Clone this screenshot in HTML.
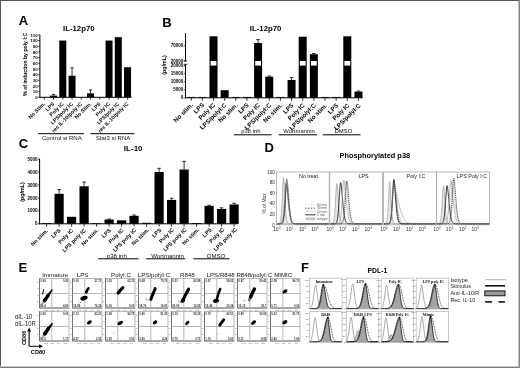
<!DOCTYPE html>
<html><head><meta charset="utf-8"><style>
html,body{margin:0;padding:0;background:#fff;}
svg{display:block;}
svg{will-change:transform;}
</style></head><body>
<svg width="520" height="368" viewBox="0 0 520 368" font-family="Liberation Sans, sans-serif">
<rect x="0" y="0" width="520" height="368" fill="#fff"/>
<text x="18.80" y="25.20" font-size="13.0" font-weight="bold" text-anchor="start" fill="#000">A</text>
<text x="162.20" y="26.60" font-size="13.0" font-weight="bold" text-anchor="start" fill="#000">B</text>
<text x="18.80" y="148.20" font-size="13.0" font-weight="bold" text-anchor="start" fill="#000">C</text>
<text x="264.60" y="152.20" font-size="13.0" font-weight="bold" text-anchor="start" fill="#000">D</text>
<text x="18.40" y="272.20" font-size="13.0" font-weight="bold" text-anchor="start" fill="#000">E</text>
<text x="300.90" y="271.60" font-size="13.0" font-weight="bold" text-anchor="start" fill="#000">F</text>
<text x="78.80" y="31.30" font-size="7.75" font-weight="bold" text-anchor="middle" fill="#000">IL-12p70</text>
<line x1="39.90" y1="34.80" x2="39.90" y2="97.80" stroke="#000" stroke-width="1"/>
<line x1="38.10" y1="97.30" x2="39.90" y2="97.30" stroke="#000" stroke-width="0.7"/>
<text x="37.70" y="98.90" font-size="4.4" font-weight="bold" text-anchor="end" fill="#000">0</text>
<line x1="38.10" y1="91.63" x2="39.90" y2="91.63" stroke="#000" stroke-width="0.7"/>
<text x="37.70" y="93.23" font-size="4.4" font-weight="bold" text-anchor="end" fill="#000">10</text>
<line x1="38.10" y1="85.95" x2="39.90" y2="85.95" stroke="#000" stroke-width="0.7"/>
<text x="37.70" y="87.55" font-size="4.4" font-weight="bold" text-anchor="end" fill="#000">20</text>
<line x1="38.10" y1="80.28" x2="39.90" y2="80.28" stroke="#000" stroke-width="0.7"/>
<text x="37.70" y="81.88" font-size="4.4" font-weight="bold" text-anchor="end" fill="#000">30</text>
<line x1="38.10" y1="74.61" x2="39.90" y2="74.61" stroke="#000" stroke-width="0.7"/>
<text x="37.70" y="76.21" font-size="4.4" font-weight="bold" text-anchor="end" fill="#000">40</text>
<line x1="38.10" y1="68.94" x2="39.90" y2="68.94" stroke="#000" stroke-width="0.7"/>
<text x="37.70" y="70.54" font-size="4.4" font-weight="bold" text-anchor="end" fill="#000">50</text>
<line x1="38.10" y1="63.26" x2="39.90" y2="63.26" stroke="#000" stroke-width="0.7"/>
<text x="37.70" y="64.86" font-size="4.4" font-weight="bold" text-anchor="end" fill="#000">60</text>
<line x1="38.10" y1="57.59" x2="39.90" y2="57.59" stroke="#000" stroke-width="0.7"/>
<text x="37.70" y="59.19" font-size="4.4" font-weight="bold" text-anchor="end" fill="#000">70</text>
<line x1="38.10" y1="51.92" x2="39.90" y2="51.92" stroke="#000" stroke-width="0.7"/>
<text x="37.70" y="53.52" font-size="4.4" font-weight="bold" text-anchor="end" fill="#000">80</text>
<line x1="38.10" y1="46.25" x2="39.90" y2="46.25" stroke="#000" stroke-width="0.7"/>
<text x="37.70" y="47.85" font-size="4.4" font-weight="bold" text-anchor="end" fill="#000">90</text>
<line x1="38.10" y1="40.57" x2="39.90" y2="40.57" stroke="#000" stroke-width="0.7"/>
<text x="37.70" y="42.17" font-size="4.4" font-weight="bold" text-anchor="end" fill="#000">100</text>
<line x1="38.10" y1="34.90" x2="39.90" y2="34.90" stroke="#000" stroke-width="0.7"/>
<text x="37.70" y="36.50" font-size="4.4" font-weight="bold" text-anchor="end" fill="#000">110</text>
<text x="27.40" y="64.30" font-size="5.15" font-weight="bold" text-anchor="middle" fill="#000" transform="rotate(-90 27.40 64.30)">% of induction by poly I:C</text>
<line x1="39.40" y1="97.30" x2="131.50" y2="97.30" stroke="#000" stroke-width="1"/>
<line x1="44.30" y1="97.30" x2="44.30" y2="99.60" stroke="#000" stroke-width="0.8"/>
<text x="45.60" y="104.20" font-size="5.25" font-weight="bold" text-anchor="end" fill="#000" transform="rotate(-45 45.60 104.20)">No Stim.</text>
<line x1="53.55" y1="97.30" x2="53.55" y2="99.60" stroke="#000" stroke-width="0.8"/>
<rect x="50.05" y="95.60" width="7.00" height="1.70" fill="#000"/>
<line x1="53.55" y1="94.46" x2="53.55" y2="95.60" stroke="#000" stroke-width="0.8"/>
<line x1="51.95" y1="94.46" x2="55.15" y2="94.46" stroke="#000" stroke-width="0.8"/>
<text x="54.85" y="104.20" font-size="5.25" font-weight="bold" text-anchor="end" fill="#000" transform="rotate(-45 54.85 104.20)">LPS</text>
<line x1="62.80" y1="97.30" x2="62.80" y2="99.60" stroke="#000" stroke-width="0.8"/>
<rect x="59.30" y="40.57" width="7.00" height="56.73" fill="#000"/>
<text x="64.10" y="104.20" font-size="5.25" font-weight="bold" text-anchor="end" fill="#000" transform="rotate(-45 64.10 104.20)">Poly IC</text>
<line x1="72.05" y1="97.30" x2="72.05" y2="99.60" stroke="#000" stroke-width="0.8"/>
<rect x="68.55" y="75.74" width="7.00" height="21.56" fill="#000"/>
<line x1="72.05" y1="67.80" x2="72.05" y2="75.74" stroke="#000" stroke-width="0.8"/>
<line x1="70.45" y1="67.80" x2="73.65" y2="67.80" stroke="#000" stroke-width="0.8"/>
<text x="73.35" y="104.20" font-size="5.25" font-weight="bold" text-anchor="end" fill="#000" transform="rotate(-45 73.35 104.20)">LPS/poly IC</text>
<line x1="81.30" y1="97.30" x2="81.30" y2="99.60" stroke="#000" stroke-width="0.8"/>
<text x="82.60" y="104.20" font-size="5.25" font-weight="bold" text-anchor="end" fill="#000" transform="rotate(-45 82.60 104.20)">rec IL-10/poly IC</text>
<line x1="90.55" y1="97.30" x2="90.55" y2="99.60" stroke="#000" stroke-width="0.8"/>
<rect x="87.05" y="93.33" width="7.00" height="3.97" fill="#000"/>
<line x1="90.55" y1="89.93" x2="90.55" y2="93.33" stroke="#000" stroke-width="0.8"/>
<line x1="88.95" y1="89.93" x2="92.15" y2="89.93" stroke="#000" stroke-width="0.8"/>
<text x="91.85" y="104.20" font-size="5.25" font-weight="bold" text-anchor="end" fill="#000" transform="rotate(-45 91.85 104.20)">No Stim.</text>
<line x1="99.80" y1="97.30" x2="99.80" y2="99.60" stroke="#000" stroke-width="0.8"/>
<text x="101.10" y="104.20" font-size="5.25" font-weight="bold" text-anchor="end" fill="#000" transform="rotate(-45 101.10 104.20)">LPS</text>
<line x1="109.05" y1="97.30" x2="109.05" y2="99.60" stroke="#000" stroke-width="0.8"/>
<rect x="105.55" y="40.57" width="7.00" height="56.73" fill="#000"/>
<text x="110.35" y="104.20" font-size="5.25" font-weight="bold" text-anchor="end" fill="#000" transform="rotate(-45 110.35 104.20)">Poly IC</text>
<line x1="118.30" y1="97.30" x2="118.30" y2="99.60" stroke="#000" stroke-width="0.8"/>
<rect x="114.80" y="37.17" width="7.00" height="60.13" fill="#000"/>
<text x="119.60" y="104.20" font-size="5.25" font-weight="bold" text-anchor="end" fill="#000" transform="rotate(-45 119.60 104.20)">LPS/poly IC</text>
<line x1="127.55" y1="97.30" x2="127.55" y2="99.60" stroke="#000" stroke-width="0.8"/>
<rect x="124.05" y="67.23" width="7.00" height="30.07" fill="#000"/>
<text x="128.85" y="104.20" font-size="5.25" font-weight="bold" text-anchor="end" fill="#000" transform="rotate(-45 128.85 104.20)">rec IL-10/poly IC</text>
<line x1="38.30" y1="133.70" x2="84.10" y2="133.70" stroke="#000" stroke-width="1.0"/>
<text x="61.80" y="139.70" font-size="6.0" text-anchor="middle" fill="#111">Control si  RNA</text>
<line x1="90.40" y1="133.70" x2="134.50" y2="133.70" stroke="#000" stroke-width="1.0"/>
<text x="113.10" y="139.70" font-size="6.0" text-anchor="middle" fill="#111">Stat3 si  RNA</text>
<text x="265.60" y="31.30" font-size="7.75" font-weight="bold" text-anchor="middle" fill="#000">IL-12p70</text>
<line x1="185.50" y1="64.30" x2="185.50" y2="98.30" stroke="#000" stroke-width="1"/>
<line x1="185.50" y1="33.00" x2="185.50" y2="61.00" stroke="#000" stroke-width="1"/>
<line x1="183.70" y1="61.00" x2="187.30" y2="61.00" stroke="#000" stroke-width="0.8"/>
<line x1="183.70" y1="64.30" x2="187.30" y2="64.30" stroke="#000" stroke-width="0.8"/>
<line x1="183.70" y1="97.80" x2="185.50" y2="97.80" stroke="#000" stroke-width="0.7"/>
<text x="183.30" y="99.40" font-size="4.5" font-weight="bold" text-anchor="end" fill="#000">0</text>
<line x1="183.70" y1="89.72" x2="185.50" y2="89.72" stroke="#000" stroke-width="0.7"/>
<text x="183.30" y="91.32" font-size="4.5" font-weight="bold" text-anchor="end" fill="#000">5000</text>
<line x1="183.70" y1="81.65" x2="185.50" y2="81.65" stroke="#000" stroke-width="0.7"/>
<text x="183.30" y="83.25" font-size="4.5" font-weight="bold" text-anchor="end" fill="#000">10000</text>
<line x1="183.70" y1="73.58" x2="185.50" y2="73.58" stroke="#000" stroke-width="0.7"/>
<text x="183.30" y="75.17" font-size="4.5" font-weight="bold" text-anchor="end" fill="#000">15000</text>
<line x1="183.70" y1="65.50" x2="185.50" y2="65.50" stroke="#000" stroke-width="0.7"/>
<text x="183.30" y="67.10" font-size="4.5" font-weight="bold" text-anchor="end" fill="#000">20000</text>
<line x1="183.70" y1="61.00" x2="185.50" y2="61.00" stroke="#000" stroke-width="0.7"/>
<text x="183.30" y="62.60" font-size="4.5" font-weight="bold" text-anchor="end" fill="#000">20000</text>
<line x1="183.70" y1="45.70" x2="185.50" y2="45.70" stroke="#000" stroke-width="0.7"/>
<text x="183.30" y="47.30" font-size="4.5" font-weight="bold" text-anchor="end" fill="#000">70000</text>
<text x="166.20" y="65.00" font-size="5.3" font-weight="bold" text-anchor="middle" fill="#000" transform="rotate(-90 166.20 65.00)">(pg/mL)</text>
<line x1="185.00" y1="97.80" x2="362.60" y2="97.80" stroke="#000" stroke-width="1"/>
<line x1="191.20" y1="97.80" x2="191.20" y2="100.80" stroke="#000" stroke-width="0.8"/>
<line x1="187.20" y1="97.40" x2="195.20" y2="97.40" stroke="#000" stroke-width="0.8"/>
<text x="193.40" y="105.40" font-size="6.2" font-weight="bold" text-anchor="end" fill="#000" transform="rotate(-45 193.40 105.40)">No stim.</text>
<line x1="202.35" y1="97.80" x2="202.35" y2="100.80" stroke="#000" stroke-width="0.8"/>
<line x1="198.35" y1="97.40" x2="206.35" y2="97.40" stroke="#000" stroke-width="0.8"/>
<text x="204.58" y="105.44" font-size="6.2" font-weight="bold" text-anchor="end" fill="#000" transform="rotate(-45 204.58 105.44)">LPS</text>
<line x1="213.50" y1="97.80" x2="213.50" y2="100.80" stroke="#000" stroke-width="0.8"/>
<rect x="209.50" y="36.30" width="8.00" height="61.50" fill="#000"/>
<rect x="210.60" y="61.00" width="5.80" height="4.60" fill="#fff"/>
<text x="215.76" y="105.48" font-size="6.2" font-weight="bold" text-anchor="end" fill="#000" transform="rotate(-45 215.76 105.48)">Poly IC</text>
<line x1="224.65" y1="97.80" x2="224.65" y2="100.80" stroke="#000" stroke-width="0.8"/>
<rect x="220.65" y="90.20" width="8.00" height="7.60" fill="#000"/>
<text x="226.94" y="105.52" font-size="6.2" font-weight="bold" text-anchor="end" fill="#000" transform="rotate(-45 226.94 105.52)">LPS/polyI:C</text>
<line x1="235.80" y1="97.80" x2="235.80" y2="100.80" stroke="#000" stroke-width="0.8"/>
<line x1="231.80" y1="97.40" x2="239.80" y2="97.40" stroke="#000" stroke-width="0.8"/>
<text x="238.12" y="105.56" font-size="6.2" font-weight="bold" text-anchor="end" fill="#000" transform="rotate(-45 238.12 105.56)">No stim.</text>
<line x1="246.95" y1="97.80" x2="246.95" y2="100.80" stroke="#000" stroke-width="0.8"/>
<line x1="242.95" y1="97.40" x2="250.95" y2="97.40" stroke="#000" stroke-width="0.8"/>
<text x="249.30" y="105.60" font-size="6.2" font-weight="bold" text-anchor="end" fill="#000" transform="rotate(-45 249.30 105.60)">LPS</text>
<line x1="258.10" y1="97.80" x2="258.10" y2="100.80" stroke="#000" stroke-width="0.8"/>
<rect x="254.10" y="43.00" width="8.00" height="54.80" fill="#000"/>
<rect x="255.20" y="61.00" width="5.80" height="4.60" fill="#fff"/>
<line x1="258.10" y1="39.60" x2="258.10" y2="43.00" stroke="#000" stroke-width="0.8"/>
<line x1="256.30" y1="39.60" x2="259.90" y2="39.60" stroke="#000" stroke-width="0.8"/>
<text x="260.48" y="105.64" font-size="6.2" font-weight="bold" text-anchor="end" fill="#000" transform="rotate(-45 260.48 105.64)">Poly IC</text>
<line x1="269.25" y1="97.80" x2="269.25" y2="100.80" stroke="#000" stroke-width="0.8"/>
<rect x="265.25" y="76.70" width="8.00" height="21.10" fill="#000"/>
<line x1="269.25" y1="76.00" x2="269.25" y2="76.70" stroke="#000" stroke-width="0.8"/>
<line x1="267.45" y1="76.00" x2="271.05" y2="76.00" stroke="#000" stroke-width="0.8"/>
<text x="271.66" y="105.68" font-size="6.2" font-weight="bold" text-anchor="end" fill="#000" transform="rotate(-45 271.66 105.68)">LPS/polyI:C</text>
<line x1="280.40" y1="97.80" x2="280.40" y2="100.80" stroke="#000" stroke-width="0.8"/>
<line x1="276.40" y1="97.40" x2="284.40" y2="97.40" stroke="#000" stroke-width="0.8"/>
<text x="282.84" y="105.72" font-size="6.2" font-weight="bold" text-anchor="end" fill="#000" transform="rotate(-45 282.84 105.72)">No stim.</text>
<line x1="291.55" y1="97.80" x2="291.55" y2="100.80" stroke="#000" stroke-width="0.8"/>
<rect x="287.55" y="80.00" width="8.00" height="17.80" fill="#000"/>
<line x1="291.55" y1="77.60" x2="291.55" y2="80.00" stroke="#000" stroke-width="0.8"/>
<line x1="289.75" y1="77.60" x2="293.35" y2="77.60" stroke="#000" stroke-width="0.8"/>
<text x="294.02" y="105.76" font-size="6.2" font-weight="bold" text-anchor="end" fill="#000" transform="rotate(-45 294.02 105.76)">LPS</text>
<line x1="302.70" y1="97.80" x2="302.70" y2="100.80" stroke="#000" stroke-width="0.8"/>
<rect x="298.70" y="36.70" width="8.00" height="61.10" fill="#000"/>
<rect x="299.80" y="61.00" width="5.80" height="4.60" fill="#fff"/>
<text x="305.20" y="105.80" font-size="6.2" font-weight="bold" text-anchor="end" fill="#000" transform="rotate(-45 305.20 105.80)">Poly IC</text>
<line x1="313.85" y1="97.80" x2="313.85" y2="100.80" stroke="#000" stroke-width="0.8"/>
<rect x="309.85" y="54.20" width="8.00" height="43.60" fill="#000"/>
<rect x="310.95" y="61.00" width="5.80" height="4.60" fill="#fff"/>
<line x1="313.85" y1="53.50" x2="313.85" y2="54.20" stroke="#000" stroke-width="0.8"/>
<line x1="312.05" y1="53.50" x2="315.65" y2="53.50" stroke="#000" stroke-width="0.8"/>
<text x="316.38" y="105.84" font-size="6.2" font-weight="bold" text-anchor="end" fill="#000" transform="rotate(-45 316.38 105.84)">LPS/polyI:C</text>
<line x1="325.00" y1="97.80" x2="325.00" y2="100.80" stroke="#000" stroke-width="0.8"/>
<line x1="321.00" y1="97.40" x2="329.00" y2="97.40" stroke="#000" stroke-width="0.8"/>
<text x="327.56" y="105.88" font-size="6.2" font-weight="bold" text-anchor="end" fill="#000" transform="rotate(-45 327.56 105.88)">No stim.</text>
<line x1="336.15" y1="97.80" x2="336.15" y2="100.80" stroke="#000" stroke-width="0.8"/>
<line x1="332.15" y1="97.40" x2="340.15" y2="97.40" stroke="#000" stroke-width="0.8"/>
<text x="338.74" y="105.92" font-size="6.2" font-weight="bold" text-anchor="end" fill="#000" transform="rotate(-45 338.74 105.92)">LPS</text>
<line x1="347.30" y1="97.80" x2="347.30" y2="100.80" stroke="#000" stroke-width="0.8"/>
<rect x="343.30" y="36.30" width="8.00" height="61.50" fill="#000"/>
<rect x="344.40" y="61.00" width="5.80" height="4.60" fill="#fff"/>
<text x="349.92" y="105.96" font-size="6.2" font-weight="bold" text-anchor="end" fill="#000" transform="rotate(-45 349.92 105.96)">Poly IC</text>
<line x1="358.45" y1="97.80" x2="358.45" y2="100.80" stroke="#000" stroke-width="0.8"/>
<rect x="354.45" y="91.60" width="8.00" height="6.20" fill="#000"/>
<line x1="358.45" y1="91.00" x2="358.45" y2="91.60" stroke="#000" stroke-width="0.8"/>
<line x1="356.65" y1="91.00" x2="360.25" y2="91.00" stroke="#000" stroke-width="0.8"/>
<text x="361.10" y="106.00" font-size="6.2" font-weight="bold" text-anchor="end" fill="#000" transform="rotate(-45 361.10 106.00)">LPS/polyI:C</text>
<line x1="233.90" y1="134.80" x2="271.60" y2="134.80" stroke="#000" stroke-width="1.0"/>
<text x="250.90" y="133.40" font-size="5.9" text-anchor="middle" fill="#111">p38 inh</text>
<line x1="278.60" y1="134.80" x2="316.90" y2="134.80" stroke="#000" stroke-width="1.0"/>
<text x="299.00" y="133.40" font-size="5.9" text-anchor="middle" fill="#111">Wortmannin</text>
<line x1="322.80" y1="134.80" x2="360.50" y2="134.80" stroke="#000" stroke-width="1.0"/>
<text x="343.40" y="133.40" font-size="5.9" text-anchor="middle" fill="#111">DMSO</text>
<text x="133.20" y="150.90" font-size="8.0" font-weight="bold" text-anchor="middle" fill="#000">IL-10</text>
<line x1="39.60" y1="158.70" x2="39.60" y2="224.30" stroke="#000" stroke-width="1"/>
<line x1="37.80" y1="223.80" x2="39.60" y2="223.80" stroke="#000" stroke-width="0.7"/>
<text x="37.40" y="225.40" font-size="4.5" font-weight="bold" text-anchor="end" fill="#000">0</text>
<line x1="37.80" y1="210.88" x2="39.60" y2="210.88" stroke="#000" stroke-width="0.7"/>
<text x="37.40" y="212.48" font-size="4.5" font-weight="bold" text-anchor="end" fill="#000">1000</text>
<line x1="37.80" y1="197.96" x2="39.60" y2="197.96" stroke="#000" stroke-width="0.7"/>
<text x="37.40" y="199.56" font-size="4.5" font-weight="bold" text-anchor="end" fill="#000">2000</text>
<line x1="37.80" y1="185.04" x2="39.60" y2="185.04" stroke="#000" stroke-width="0.7"/>
<text x="37.40" y="186.64" font-size="4.5" font-weight="bold" text-anchor="end" fill="#000">3000</text>
<line x1="37.80" y1="172.12" x2="39.60" y2="172.12" stroke="#000" stroke-width="0.7"/>
<text x="37.40" y="173.72" font-size="4.5" font-weight="bold" text-anchor="end" fill="#000">4000</text>
<line x1="37.80" y1="159.20" x2="39.60" y2="159.20" stroke="#000" stroke-width="0.7"/>
<text x="37.40" y="160.80" font-size="4.5" font-weight="bold" text-anchor="end" fill="#000">5000</text>
<text x="24.10" y="191.90" font-size="5.35" font-weight="bold" text-anchor="middle" fill="#000" transform="rotate(-90 24.10 191.90)">(pg/mL)</text>
<line x1="39.10" y1="223.80" x2="237.60" y2="223.80" stroke="#000" stroke-width="1"/>
<line x1="46.60" y1="223.80" x2="46.60" y2="226.60" stroke="#000" stroke-width="0.8"/>
<rect x="42.00" y="223.00" width="9.20" height="0.80" fill="#000"/>
<text x="48.40" y="231.10" font-size="5.5" font-weight="bold" text-anchor="end" fill="#000" transform="rotate(-45 48.40 231.10)">No stim.</text>
<line x1="59.10" y1="223.80" x2="59.10" y2="226.60" stroke="#000" stroke-width="0.8"/>
<rect x="54.50" y="193.80" width="9.20" height="30.00" fill="#000"/>
<line x1="59.10" y1="189.50" x2="59.10" y2="193.80" stroke="#000" stroke-width="0.8"/>
<line x1="57.30" y1="189.50" x2="60.90" y2="189.50" stroke="#000" stroke-width="0.8"/>
<text x="61.00" y="231.02" font-size="5.5" font-weight="bold" text-anchor="end" fill="#000" transform="rotate(-45 61.00 231.02)">LPS</text>
<line x1="71.60" y1="223.80" x2="71.60" y2="226.60" stroke="#000" stroke-width="0.8"/>
<rect x="67.00" y="216.80" width="9.20" height="7.00" fill="#000"/>
<text x="73.60" y="230.94" font-size="5.5" font-weight="bold" text-anchor="end" fill="#000" transform="rotate(-45 73.60 230.94)">Poly IC</text>
<line x1="84.10" y1="223.80" x2="84.10" y2="226.60" stroke="#000" stroke-width="0.8"/>
<rect x="79.50" y="186.30" width="9.20" height="37.50" fill="#000"/>
<line x1="84.10" y1="182.00" x2="84.10" y2="186.30" stroke="#000" stroke-width="0.8"/>
<line x1="82.30" y1="182.00" x2="85.90" y2="182.00" stroke="#000" stroke-width="0.8"/>
<text x="86.20" y="230.86" font-size="5.5" font-weight="bold" text-anchor="end" fill="#000" transform="rotate(-45 86.20 230.86)">LPS poly IC</text>
<line x1="96.60" y1="223.80" x2="96.60" y2="226.60" stroke="#000" stroke-width="0.8"/>
<rect x="92.00" y="223.20" width="9.20" height="0.60" fill="#000"/>
<text x="98.80" y="230.78" font-size="5.5" font-weight="bold" text-anchor="end" fill="#000" transform="rotate(-45 98.80 230.78)">No stim.</text>
<line x1="109.10" y1="223.80" x2="109.10" y2="226.60" stroke="#000" stroke-width="0.8"/>
<rect x="104.50" y="219.50" width="9.20" height="4.30" fill="#000"/>
<line x1="109.10" y1="219.00" x2="109.10" y2="219.50" stroke="#000" stroke-width="0.8"/>
<line x1="107.30" y1="219.00" x2="110.90" y2="219.00" stroke="#000" stroke-width="0.8"/>
<text x="111.40" y="230.70" font-size="5.5" font-weight="bold" text-anchor="end" fill="#000" transform="rotate(-45 111.40 230.70)">LPS</text>
<line x1="121.60" y1="223.80" x2="121.60" y2="226.60" stroke="#000" stroke-width="0.8"/>
<rect x="117.00" y="220.30" width="9.20" height="3.50" fill="#000"/>
<text x="124.00" y="230.62" font-size="5.5" font-weight="bold" text-anchor="end" fill="#000" transform="rotate(-45 124.00 230.62)">Poly IC</text>
<line x1="134.10" y1="223.80" x2="134.10" y2="226.60" stroke="#000" stroke-width="0.8"/>
<rect x="129.50" y="215.80" width="9.20" height="8.00" fill="#000"/>
<line x1="134.10" y1="215.00" x2="134.10" y2="215.80" stroke="#000" stroke-width="0.8"/>
<line x1="132.30" y1="215.00" x2="135.90" y2="215.00" stroke="#000" stroke-width="0.8"/>
<text x="136.60" y="230.54" font-size="5.5" font-weight="bold" text-anchor="end" fill="#000" transform="rotate(-45 136.60 230.54)">LPS poly IC</text>
<line x1="146.60" y1="223.80" x2="146.60" y2="226.60" stroke="#000" stroke-width="0.8"/>
<rect x="142.00" y="222.80" width="9.20" height="1.00" fill="#000"/>
<text x="149.20" y="230.46" font-size="5.5" font-weight="bold" text-anchor="end" fill="#000" transform="rotate(-45 149.20 230.46)">No stim.</text>
<line x1="159.10" y1="223.80" x2="159.10" y2="226.60" stroke="#000" stroke-width="0.8"/>
<rect x="154.50" y="172.00" width="9.20" height="51.80" fill="#000"/>
<line x1="159.10" y1="168.30" x2="159.10" y2="172.00" stroke="#000" stroke-width="0.8"/>
<line x1="157.30" y1="168.30" x2="160.90" y2="168.30" stroke="#000" stroke-width="0.8"/>
<text x="161.80" y="230.38" font-size="5.5" font-weight="bold" text-anchor="end" fill="#000" transform="rotate(-45 161.80 230.38)">LPS</text>
<line x1="171.60" y1="223.80" x2="171.60" y2="226.60" stroke="#000" stroke-width="0.8"/>
<rect x="167.00" y="199.90" width="9.20" height="23.90" fill="#000"/>
<line x1="171.60" y1="198.30" x2="171.60" y2="199.90" stroke="#000" stroke-width="0.8"/>
<line x1="169.80" y1="198.30" x2="173.40" y2="198.30" stroke="#000" stroke-width="0.8"/>
<text x="174.40" y="230.30" font-size="5.5" font-weight="bold" text-anchor="end" fill="#000" transform="rotate(-45 174.40 230.30)">Poly IC</text>
<line x1="184.10" y1="223.80" x2="184.10" y2="226.60" stroke="#000" stroke-width="0.8"/>
<rect x="179.50" y="169.50" width="9.20" height="54.30" fill="#000"/>
<line x1="184.10" y1="161.30" x2="184.10" y2="169.50" stroke="#000" stroke-width="0.8"/>
<line x1="182.30" y1="161.30" x2="185.90" y2="161.30" stroke="#000" stroke-width="0.8"/>
<text x="187.00" y="230.22" font-size="5.5" font-weight="bold" text-anchor="end" fill="#000" transform="rotate(-45 187.00 230.22)">LPS poly IC</text>
<line x1="196.60" y1="223.80" x2="196.60" y2="226.60" stroke="#000" stroke-width="0.8"/>
<rect x="192.00" y="223.00" width="9.20" height="0.80" fill="#000"/>
<text x="199.60" y="230.14" font-size="5.5" font-weight="bold" text-anchor="end" fill="#000" transform="rotate(-45 199.60 230.14)">No stim.</text>
<line x1="209.10" y1="223.80" x2="209.10" y2="226.60" stroke="#000" stroke-width="0.8"/>
<rect x="204.50" y="205.90" width="9.20" height="17.90" fill="#000"/>
<line x1="209.10" y1="205.30" x2="209.10" y2="205.90" stroke="#000" stroke-width="0.8"/>
<line x1="207.30" y1="205.30" x2="210.90" y2="205.30" stroke="#000" stroke-width="0.8"/>
<text x="212.20" y="230.06" font-size="5.5" font-weight="bold" text-anchor="end" fill="#000" transform="rotate(-45 212.20 230.06)">LPS</text>
<line x1="221.60" y1="223.80" x2="221.60" y2="226.60" stroke="#000" stroke-width="0.8"/>
<rect x="217.00" y="209.00" width="9.20" height="14.80" fill="#000"/>
<line x1="221.60" y1="207.80" x2="221.60" y2="209.00" stroke="#000" stroke-width="0.8"/>
<line x1="219.80" y1="207.80" x2="223.40" y2="207.80" stroke="#000" stroke-width="0.8"/>
<text x="224.80" y="229.98" font-size="5.5" font-weight="bold" text-anchor="end" fill="#000" transform="rotate(-45 224.80 229.98)">Poly IC</text>
<line x1="234.10" y1="223.80" x2="234.10" y2="226.60" stroke="#000" stroke-width="0.8"/>
<rect x="229.50" y="204.50" width="9.20" height="19.30" fill="#000"/>
<line x1="234.10" y1="203.20" x2="234.10" y2="204.50" stroke="#000" stroke-width="0.8"/>
<line x1="232.30" y1="203.20" x2="235.90" y2="203.20" stroke="#000" stroke-width="0.8"/>
<text x="237.40" y="229.90" font-size="5.5" font-weight="bold" text-anchor="end" fill="#000" transform="rotate(-45 237.40 229.90)">LPS poly IC</text>
<line x1="98.20" y1="258.80" x2="138.60" y2="258.80" stroke="#000" stroke-width="1.0"/>
<text x="116.80" y="258.00" font-size="6.1" text-anchor="middle" fill="#111">p38 inh</text>
<line x1="146.20" y1="258.80" x2="185.20" y2="258.80" stroke="#000" stroke-width="1.0"/>
<text x="167.50" y="258.00" font-size="6.1" text-anchor="middle" fill="#111">Wortmannin</text>
<line x1="193.30" y1="258.80" x2="229.60" y2="258.80" stroke="#000" stroke-width="1.0"/>
<text x="216.20" y="258.00" font-size="6.1" text-anchor="middle" fill="#111">DMSO</text>
<text x="374.80" y="157.60" font-size="7.4" font-weight="bold" text-anchor="middle" fill="#000">Phosphorylated p38</text>
<text x="266.30" y="203.40" font-size="4.9" text-anchor="middle" fill="#333" transform="rotate(-90 266.30 203.40)">% of Max</text>
<text x="274.90" y="226.50" font-size="4.6" text-anchor="end" fill="#222">0</text>
<text x="274.90" y="215.94" font-size="4.6" text-anchor="end" fill="#222">20</text>
<text x="274.90" y="205.38" font-size="4.6" text-anchor="end" fill="#222">40</text>
<text x="274.90" y="194.82" font-size="4.6" text-anchor="end" fill="#222">60</text>
<text x="274.90" y="184.26" font-size="4.6" text-anchor="end" fill="#222">80</text>
<text x="274.90" y="173.70" font-size="4.6" text-anchor="end" fill="#222">100</text>
<rect x="276.40" y="172.00" width="52.80" height="52.80" fill="none" stroke="#a8a8a8" stroke-width="0.8"/>
<path d="M277.00,223.77 L277.32,223.76 L277.64,223.75 L277.97,223.74 L278.29,223.72 L278.61,223.69 L278.94,223.62 L279.26,223.50 L279.58,223.26 L279.90,222.83 L280.23,222.08 L280.55,220.83 L280.87,218.87 L281.19,216.00 L281.51,212.04 L281.84,206.93 L282.16,200.74 L282.48,193.73 L282.81,186.50 L283.13,180.38 L283.45,177.42 L283.77,178.62 L284.09,182.84 L284.42,188.71 L284.74,195.01 L285.06,201.03 L285.38,206.42 L285.71,211.00 L286.03,214.72 L286.35,217.59 L286.68,219.71 L287.00,221.19 L287.32,222.19 L287.64,222.82 L287.96,223.21 L288.29,223.44 L288.61,223.58 L288.93,223.65 L289.25,223.70 L289.58,223.73 L289.90,223.74 L290.22,223.75 L290.55,223.76 L290.87,223.77 L291.19,223.77 L291.51,223.78 L291.83,223.78 L292.16,223.78 L292.48,223.79 L292.80,223.79 L293.12,223.79 L293.45,223.79 L293.77,223.79 L294.09,223.79 L294.41,223.79 L294.74,223.79 L295.06,223.79 L295.38,223.80 L295.70,223.80 L296.03,223.80 L296.35,223.80 L296.67,223.80 L297.00,223.80 L297.32,223.80 L297.64,223.80 L297.96,223.80 L298.28,223.80 L298.61,223.80 L298.93,223.80 L299.25,223.80 L299.57,223.80 L299.90,223.80 L300.22,223.80 L300.54,223.80 L300.87,223.80 L301.19,223.80 L301.51,223.80 L301.83,223.80 L302.15,223.80 L302.48,223.80 L302.80,223.80 L303.12,223.80 L303.44,223.80 L303.77,223.80 L304.09,223.80 L304.41,223.80 L304.73,223.80 L305.06,223.80 L305.38,223.80 L305.70,223.80 L306.02,223.80 L306.35,223.80 L306.67,223.80 L306.99,223.80 L307.31,223.80 L307.64,223.80 L307.96,223.80 L308.28,223.80 L308.60,223.80 L308.93,223.80 L309.25,223.80 L309.57,223.80 L309.89,223.80 L310.22,223.80 L310.54,223.80 L310.86,223.80 L311.19,223.80 L311.51,223.80 L311.83,223.80 L312.15,223.80 L312.47,223.80 L312.80,223.80 L313.12,223.80 L313.44,223.80 L313.76,223.80 L314.09,223.80 L314.41,223.80 L314.73,223.80 L315.05,223.80 L315.38,223.80 L315.70,223.80 L316.02,223.80 L316.34,223.80 L316.67,223.80 L316.99,223.80 L317.31,223.80 L317.63,223.80 L317.96,223.80 L318.28,223.80 L318.60,223.80 L318.92,223.80 L319.25,223.80 L319.57,223.80 L319.89,223.80 L320.21,223.80 L320.54,223.80 L320.86,223.80 L321.18,223.80 L321.50,223.80 L321.83,223.80 L322.15,223.80 L322.47,223.80 L322.79,223.80 L323.12,223.80 L323.44,223.80 L323.76,223.80 L324.08,223.80 L324.41,223.80 L324.73,223.80 L325.05,223.80 L325.37,223.80 L325.70,223.80 L326.02,223.80 L326.34,223.80 L326.66,223.80 L326.99,223.80 L327.31,223.80 L327.63,223.80 L327.95,223.80 L328.28,223.80 L328.60,223.80 L328.60,223.80 L277.00,223.80 Z" fill="#e6e6e6" stroke="#9c9c9c" stroke-width="0.7"/>
<path d="M277.00,223.79 L277.32,223.78 L277.64,223.78 L277.97,223.78 L278.29,223.78 L278.61,223.77 L278.94,223.77 L279.26,223.76 L279.58,223.75 L279.90,223.74 L280.23,223.72 L280.55,223.68 L280.87,223.63 L281.19,223.54 L281.51,223.39 L281.84,223.13 L282.16,222.73 L282.48,222.10 L282.81,221.16 L283.13,219.82 L283.45,217.97 L283.77,215.54 L284.09,212.48 L284.42,208.77 L284.74,204.48 L285.06,199.72 L285.38,194.73 L285.71,189.98 L286.03,186.28 L286.35,184.61 L286.68,185.10 L287.00,186.89 L287.32,189.67 L287.64,193.03 L287.96,196.64 L288.29,200.25 L288.61,203.73 L288.93,206.97 L289.25,209.92 L289.58,212.54 L289.90,214.83 L290.22,216.77 L290.55,218.39 L290.87,219.70 L291.19,220.75 L291.51,221.56 L291.83,222.18 L292.16,222.64 L292.48,222.98 L292.80,223.22 L293.12,223.39 L293.45,223.51 L293.77,223.59 L294.09,223.64 L294.41,223.68 L294.74,223.71 L295.06,223.73 L295.38,223.74 L295.70,223.75 L296.03,223.76 L296.35,223.76 L296.67,223.77 L297.00,223.77 L297.32,223.77 L297.64,223.78 L297.96,223.78 L298.28,223.78 L298.61,223.78 L298.93,223.78 L299.25,223.79 L299.57,223.79 L299.90,223.79 L300.22,223.79 L300.54,223.79 L300.87,223.79 L301.19,223.79 L301.51,223.79 L301.83,223.79 L302.15,223.79 L302.48,223.79 L302.80,223.79 L303.12,223.80 L303.44,223.80 L303.77,223.80 L304.09,223.80 L304.41,223.80 L304.73,223.80 L305.06,223.80 L305.38,223.80 L305.70,223.80 L306.02,223.80 L306.35,223.80 L306.67,223.80 L306.99,223.80 L307.31,223.80 L307.64,223.80 L307.96,223.80 L308.28,223.80 L308.60,223.80 L308.93,223.80 L309.25,223.80 L309.57,223.80 L309.89,223.80 L310.22,223.80 L310.54,223.80 L310.86,223.80 L311.19,223.80 L311.51,223.80 L311.83,223.80 L312.15,223.80 L312.47,223.80 L312.80,223.80 L313.12,223.80 L313.44,223.80 L313.76,223.80 L314.09,223.80 L314.41,223.80 L314.73,223.80 L315.05,223.80 L315.38,223.80 L315.70,223.80 L316.02,223.80 L316.34,223.80 L316.67,223.80 L316.99,223.80 L317.31,223.80 L317.63,223.80 L317.96,223.80 L318.28,223.80 L318.60,223.80 L318.92,223.80 L319.25,223.80 L319.57,223.80 L319.89,223.80 L320.21,223.80 L320.54,223.80 L320.86,223.80 L321.18,223.80 L321.50,223.80 L321.83,223.80 L322.15,223.80 L322.47,223.80 L322.79,223.80 L323.12,223.80 L323.44,223.80 L323.76,223.80 L324.08,223.80 L324.41,223.80 L324.73,223.80 L325.05,223.80 L325.37,223.80 L325.70,223.80 L326.02,223.80 L326.34,223.80 L326.66,223.80 L326.99,223.80 L327.31,223.80 L327.63,223.80 L327.95,223.80 L328.28,223.80 L328.60,223.80" fill="none" stroke="#1a1a1a" stroke-width="0.85"/>
<path d="M277.00,223.78 L277.32,223.78 L277.64,223.78 L277.97,223.77 L278.29,223.77 L278.61,223.76 L278.94,223.75 L279.26,223.74 L279.58,223.72 L279.90,223.70 L280.23,223.65 L280.55,223.57 L280.87,223.45 L281.19,223.23 L281.51,222.89 L281.84,222.34 L282.16,221.51 L282.48,220.30 L282.81,218.61 L283.13,216.34 L283.45,213.42 L283.77,209.82 L284.09,205.57 L284.42,200.75 L284.74,195.56 L285.06,190.37 L285.38,185.86 L285.71,183.02 L286.03,182.62 L286.35,183.73 L286.68,185.88 L287.00,188.77 L287.32,192.09 L287.64,195.59 L287.96,199.08 L288.29,202.43 L288.61,205.59 L288.93,208.49 L289.25,211.11 L289.58,213.43 L289.90,215.45 L290.22,217.18 L290.55,218.62 L290.87,219.81 L291.19,220.76 L291.51,221.52 L291.83,222.10 L292.16,222.55 L292.48,222.89 L292.80,223.14 L293.12,223.32 L293.45,223.45 L293.77,223.54 L294.09,223.61 L294.41,223.65 L294.74,223.68 L295.06,223.71 L295.38,223.72 L295.70,223.74 L296.03,223.75 L296.35,223.75 L296.67,223.76 L297.00,223.76 L297.32,223.77 L297.64,223.77 L297.96,223.77 L298.28,223.78 L298.61,223.78 L298.93,223.78 L299.25,223.78 L299.57,223.78 L299.90,223.79 L300.22,223.79 L300.54,223.79 L300.87,223.79 L301.19,223.79 L301.51,223.79 L301.83,223.79 L302.15,223.79 L302.48,223.79 L302.80,223.79 L303.12,223.79 L303.44,223.79 L303.77,223.79 L304.09,223.79 L304.41,223.80 L304.73,223.80 L305.06,223.80 L305.38,223.80 L305.70,223.80 L306.02,223.80 L306.35,223.80 L306.67,223.80 L306.99,223.80 L307.31,223.80 L307.64,223.80 L307.96,223.80 L308.28,223.80 L308.60,223.80 L308.93,223.80 L309.25,223.80 L309.57,223.80 L309.89,223.80 L310.22,223.80 L310.54,223.80 L310.86,223.80 L311.19,223.80 L311.51,223.80 L311.83,223.80 L312.15,223.80 L312.47,223.80 L312.80,223.80 L313.12,223.80 L313.44,223.80 L313.76,223.80 L314.09,223.80 L314.41,223.80 L314.73,223.80 L315.05,223.80 L315.38,223.80 L315.70,223.80 L316.02,223.80 L316.34,223.80 L316.67,223.80 L316.99,223.80 L317.31,223.80 L317.63,223.80 L317.96,223.80 L318.28,223.80 L318.60,223.80 L318.92,223.80 L319.25,223.80 L319.57,223.80 L319.89,223.80 L320.21,223.80 L320.54,223.80 L320.86,223.80 L321.18,223.80 L321.50,223.80 L321.83,223.80 L322.15,223.80 L322.47,223.80 L322.79,223.80 L323.12,223.80 L323.44,223.80 L323.76,223.80 L324.08,223.80 L324.41,223.80 L324.73,223.80 L325.05,223.80 L325.37,223.80 L325.70,223.80 L326.02,223.80 L326.34,223.80 L326.66,223.80 L326.99,223.80 L327.31,223.80 L327.63,223.80 L327.95,223.80 L328.28,223.80 L328.60,223.80" fill="none" stroke="#a0a0a0" stroke-width="0.7"/>
<path d="M277.00,223.79 L277.32,223.79 L277.64,223.79 L277.97,223.78 L278.29,223.78 L278.61,223.78 L278.94,223.78 L279.26,223.77 L279.58,223.77 L279.90,223.76 L280.23,223.75 L280.55,223.74 L280.87,223.72 L281.19,223.69 L281.51,223.63 L281.84,223.54 L282.16,223.37 L282.48,223.09 L282.81,222.62 L283.13,221.87 L283.45,220.73 L283.77,219.05 L284.09,216.71 L284.42,213.60 L284.74,209.67 L285.06,204.93 L285.38,199.47 L285.71,193.54 L286.03,187.59 L286.35,182.54 L286.68,179.68 L287.00,179.72 L287.32,181.43 L287.64,184.34 L287.96,188.03 L288.29,192.07 L288.61,196.18 L288.93,200.16 L289.25,203.90 L289.58,207.32 L289.90,210.38 L290.22,213.06 L290.55,215.35 L290.87,217.27 L291.19,218.83 L291.51,220.09 L291.83,221.07 L292.16,221.82 L292.48,222.38 L292.80,222.79 L293.12,223.08 L293.45,223.29 L293.77,223.44 L294.09,223.54 L294.41,223.61 L294.74,223.66 L295.06,223.69 L295.38,223.71 L295.70,223.73 L296.03,223.74 L296.35,223.75 L296.67,223.76 L297.00,223.76 L297.32,223.77 L297.64,223.77 L297.96,223.77 L298.28,223.78 L298.61,223.78 L298.93,223.78 L299.25,223.78 L299.57,223.78 L299.90,223.79 L300.22,223.79 L300.54,223.79 L300.87,223.79 L301.19,223.79 L301.51,223.79 L301.83,223.79 L302.15,223.79 L302.48,223.79 L302.80,223.79 L303.12,223.79 L303.44,223.79 L303.77,223.79 L304.09,223.80 L304.41,223.80 L304.73,223.80 L305.06,223.80 L305.38,223.80 L305.70,223.80 L306.02,223.80 L306.35,223.80 L306.67,223.80 L306.99,223.80 L307.31,223.80 L307.64,223.80 L307.96,223.80 L308.28,223.80 L308.60,223.80 L308.93,223.80 L309.25,223.80 L309.57,223.80 L309.89,223.80 L310.22,223.80 L310.54,223.80 L310.86,223.80 L311.19,223.80 L311.51,223.80 L311.83,223.80 L312.15,223.80 L312.47,223.80 L312.80,223.80 L313.12,223.80 L313.44,223.80 L313.76,223.80 L314.09,223.80 L314.41,223.80 L314.73,223.80 L315.05,223.80 L315.38,223.80 L315.70,223.80 L316.02,223.80 L316.34,223.80 L316.67,223.80 L316.99,223.80 L317.31,223.80 L317.63,223.80 L317.96,223.80 L318.28,223.80 L318.60,223.80 L318.92,223.80 L319.25,223.80 L319.57,223.80 L319.89,223.80 L320.21,223.80 L320.54,223.80 L320.86,223.80 L321.18,223.80 L321.50,223.80 L321.83,223.80 L322.15,223.80 L322.47,223.80 L322.79,223.80 L323.12,223.80 L323.44,223.80 L323.76,223.80 L324.08,223.80 L324.41,223.80 L324.73,223.80 L325.05,223.80 L325.37,223.80 L325.70,223.80 L326.02,223.80 L326.34,223.80 L326.66,223.80 L326.99,223.80 L327.31,223.80 L327.63,223.80 L327.95,223.80 L328.28,223.80 L328.60,223.80" fill="none" stroke="#333" stroke-width="0.9" stroke-dasharray="1.3,0.8"/>
<path d="M277.00,223.79 L277.32,223.79 L277.64,223.79 L277.97,223.78 L278.29,223.78 L278.61,223.78 L278.94,223.77 L279.26,223.77 L279.58,223.76 L279.90,223.75 L280.23,223.74 L280.55,223.73 L280.87,223.70 L281.19,223.65 L281.51,223.57 L281.84,223.44 L282.16,223.20 L282.48,222.80 L282.81,222.16 L283.13,221.16 L283.45,219.66 L283.77,217.54 L284.09,214.67 L284.42,210.97 L284.74,206.42 L285.06,201.10 L285.38,195.18 L285.71,189.02 L286.03,183.36 L286.35,179.41 L286.68,178.44 L287.00,179.61 L287.32,182.17 L287.64,185.70 L287.96,189.74 L288.29,193.95 L288.61,198.09 L288.93,202.02 L289.25,205.65 L289.58,208.92 L289.90,211.81 L290.22,214.31 L290.55,216.41 L290.87,218.15 L291.19,219.55 L291.51,220.65 L291.83,221.50 L292.16,222.15 L292.48,222.62 L292.80,222.96 L293.12,223.21 L293.45,223.38 L293.77,223.50 L294.09,223.58 L294.41,223.64 L294.74,223.68 L295.06,223.70 L295.38,223.72 L295.70,223.73 L296.03,223.74 L296.35,223.75 L296.67,223.76 L297.00,223.76 L297.32,223.77 L297.64,223.77 L297.96,223.77 L298.28,223.78 L298.61,223.78 L298.93,223.78 L299.25,223.78 L299.57,223.78 L299.90,223.79 L300.22,223.79 L300.54,223.79 L300.87,223.79 L301.19,223.79 L301.51,223.79 L301.83,223.79 L302.15,223.79 L302.48,223.79 L302.80,223.79 L303.12,223.79 L303.44,223.79 L303.77,223.79 L304.09,223.80 L304.41,223.80 L304.73,223.80 L305.06,223.80 L305.38,223.80 L305.70,223.80 L306.02,223.80 L306.35,223.80 L306.67,223.80 L306.99,223.80 L307.31,223.80 L307.64,223.80 L307.96,223.80 L308.28,223.80 L308.60,223.80 L308.93,223.80 L309.25,223.80 L309.57,223.80 L309.89,223.80 L310.22,223.80 L310.54,223.80 L310.86,223.80 L311.19,223.80 L311.51,223.80 L311.83,223.80 L312.15,223.80 L312.47,223.80 L312.80,223.80 L313.12,223.80 L313.44,223.80 L313.76,223.80 L314.09,223.80 L314.41,223.80 L314.73,223.80 L315.05,223.80 L315.38,223.80 L315.70,223.80 L316.02,223.80 L316.34,223.80 L316.67,223.80 L316.99,223.80 L317.31,223.80 L317.63,223.80 L317.96,223.80 L318.28,223.80 L318.60,223.80 L318.92,223.80 L319.25,223.80 L319.57,223.80 L319.89,223.80 L320.21,223.80 L320.54,223.80 L320.86,223.80 L321.18,223.80 L321.50,223.80 L321.83,223.80 L322.15,223.80 L322.47,223.80 L322.79,223.80 L323.12,223.80 L323.44,223.80 L323.76,223.80 L324.08,223.80 L324.41,223.80 L324.73,223.80 L325.05,223.80 L325.37,223.80 L325.70,223.80 L326.02,223.80 L326.34,223.80 L326.66,223.80 L326.99,223.80 L327.31,223.80 L327.63,223.80 L327.95,223.80 L328.28,223.80 L328.60,223.80" fill="none" stroke="#777" stroke-width="0.6" stroke-dasharray="0.6,0.6"/>
<text x="309.30" y="178.0" font-size="5.4" fill="#222" text-anchor="middle" textLength="20.5" lengthAdjust="spacingAndGlyphs">No treat.</text>
<text x="276.80" y="231.4" font-size="5.0" fill="#333" text-anchor="middle">10<tspan font-size="3.3" dy="-2.0">0</tspan></text>
<text x="289.60" y="231.4" font-size="5.0" fill="#333" text-anchor="middle">10<tspan font-size="3.3" dy="-2.0">1</tspan></text>
<text x="302.40" y="231.4" font-size="5.0" fill="#333" text-anchor="middle">10<tspan font-size="3.3" dy="-2.0">2</tspan></text>
<text x="314.90" y="231.4" font-size="5.0" fill="#333" text-anchor="middle">10<tspan font-size="3.3" dy="-2.0">3</tspan></text>
<rect x="329.80" y="172.00" width="52.80" height="52.80" fill="none" stroke="#a8a8a8" stroke-width="0.8"/>
<path d="M330.40,223.76 L330.72,223.75 L331.05,223.74 L331.37,223.72 L331.69,223.68 L332.01,223.61 L332.34,223.49 L332.66,223.27 L332.98,222.88 L333.30,222.24 L333.63,221.21 L333.95,219.65 L334.27,217.41 L334.59,214.38 L334.92,210.48 L335.24,205.75 L335.56,200.32 L335.88,194.49 L336.21,188.92 L336.53,184.80 L336.85,183.58 L337.17,184.96 L337.50,188.08 L337.82,192.23 L338.14,196.77 L338.46,201.26 L338.79,205.46 L339.11,209.24 L339.43,212.53 L339.75,215.30 L340.08,217.55 L340.40,219.32 L340.72,220.67 L341.04,221.66 L341.37,222.37 L341.69,222.85 L342.01,223.18 L342.33,223.39 L342.66,223.53 L342.98,223.62 L343.30,223.67 L343.62,223.71 L343.95,223.73 L344.27,223.74 L344.59,223.75 L344.91,223.76 L345.24,223.77 L345.56,223.77 L345.88,223.78 L346.20,223.78 L346.53,223.78 L346.85,223.78 L347.17,223.79 L347.49,223.79 L347.81,223.79 L348.14,223.79 L348.46,223.79 L348.78,223.79 L349.11,223.79 L349.43,223.79 L349.75,223.79 L350.07,223.79 L350.40,223.79 L350.72,223.80 L351.04,223.80 L351.36,223.80 L351.69,223.80 L352.01,223.80 L352.33,223.80 L352.65,223.80 L352.98,223.80 L353.30,223.80 L353.62,223.80 L353.94,223.80 L354.27,223.80 L354.59,223.80 L354.91,223.80 L355.23,223.80 L355.56,223.80 L355.88,223.80 L356.20,223.80 L356.52,223.80 L356.85,223.80 L357.17,223.80 L357.49,223.80 L357.81,223.80 L358.13,223.80 L358.46,223.80 L358.78,223.80 L359.10,223.80 L359.43,223.80 L359.75,223.80 L360.07,223.80 L360.39,223.80 L360.72,223.80 L361.04,223.80 L361.36,223.80 L361.68,223.80 L362.00,223.80 L362.33,223.80 L362.65,223.80 L362.97,223.80 L363.30,223.80 L363.62,223.80 L363.94,223.80 L364.26,223.80 L364.59,223.80 L364.91,223.80 L365.23,223.80 L365.55,223.80 L365.88,223.80 L366.20,223.80 L366.52,223.80 L366.84,223.80 L367.17,223.80 L367.49,223.80 L367.81,223.80 L368.13,223.80 L368.45,223.80 L368.78,223.80 L369.10,223.80 L369.42,223.80 L369.75,223.80 L370.07,223.80 L370.39,223.80 L370.71,223.80 L371.04,223.80 L371.36,223.80 L371.68,223.80 L372.00,223.80 L372.32,223.80 L372.65,223.80 L372.97,223.80 L373.29,223.80 L373.62,223.80 L373.94,223.80 L374.26,223.80 L374.58,223.80 L374.91,223.80 L375.23,223.80 L375.55,223.80 L375.87,223.80 L376.19,223.80 L376.52,223.80 L376.84,223.80 L377.16,223.80 L377.49,223.80 L377.81,223.80 L378.13,223.80 L378.45,223.80 L378.77,223.80 L379.10,223.80 L379.42,223.80 L379.74,223.80 L380.06,223.80 L380.39,223.80 L380.71,223.80 L381.03,223.80 L381.36,223.80 L381.68,223.80 L382.00,223.80 L382.00,223.80 L330.40,223.80 Z" fill="#e6e6e6" stroke="#9c9c9c" stroke-width="0.7"/>
<path d="M330.40,223.79 L330.72,223.79 L331.05,223.79 L331.37,223.78 L331.69,223.78 L332.01,223.78 L332.34,223.78 L332.66,223.77 L332.98,223.77 L333.30,223.76 L333.63,223.75 L333.95,223.74 L334.27,223.72 L334.59,223.70 L334.92,223.65 L335.24,223.58 L335.56,223.45 L335.88,223.24 L336.21,222.90 L336.53,222.36 L336.85,221.54 L337.17,220.35 L337.50,218.67 L337.82,216.42 L338.14,213.52 L338.46,209.94 L338.79,205.71 L339.11,200.91 L339.43,195.73 L339.75,190.53 L340.08,185.98 L340.40,183.07 L340.72,182.62 L341.04,183.89 L341.37,186.36 L341.69,189.66 L342.01,193.37 L342.33,197.19 L342.66,200.94 L342.98,204.48 L343.30,207.74 L343.62,210.66 L343.95,213.24 L344.27,215.46 L344.59,217.33 L344.91,218.86 L345.24,220.09 L345.56,221.06 L345.88,221.80 L346.20,222.37 L346.53,222.78 L346.85,223.08 L347.17,223.29 L347.49,223.44 L347.81,223.54 L348.14,223.61 L348.46,223.66 L348.78,223.69 L349.11,223.71 L349.43,223.73 L349.75,223.74 L350.07,223.75 L350.40,223.76 L350.72,223.76 L351.04,223.77 L351.36,223.77 L351.69,223.77 L352.01,223.78 L352.33,223.78 L352.65,223.78 L352.98,223.78 L353.30,223.78 L353.62,223.79 L353.94,223.79 L354.27,223.79 L354.59,223.79 L354.91,223.79 L355.23,223.79 L355.56,223.79 L355.88,223.79 L356.20,223.79 L356.52,223.79 L356.85,223.79 L357.17,223.79 L357.49,223.79 L357.81,223.80 L358.13,223.80 L358.46,223.80 L358.78,223.80 L359.10,223.80 L359.43,223.80 L359.75,223.80 L360.07,223.80 L360.39,223.80 L360.72,223.80 L361.04,223.80 L361.36,223.80 L361.68,223.80 L362.00,223.80 L362.33,223.80 L362.65,223.80 L362.97,223.80 L363.30,223.80 L363.62,223.80 L363.94,223.80 L364.26,223.80 L364.59,223.80 L364.91,223.80 L365.23,223.80 L365.55,223.80 L365.88,223.80 L366.20,223.80 L366.52,223.80 L366.84,223.80 L367.17,223.80 L367.49,223.80 L367.81,223.80 L368.13,223.80 L368.45,223.80 L368.78,223.80 L369.10,223.80 L369.42,223.80 L369.75,223.80 L370.07,223.80 L370.39,223.80 L370.71,223.80 L371.04,223.80 L371.36,223.80 L371.68,223.80 L372.00,223.80 L372.32,223.80 L372.65,223.80 L372.97,223.80 L373.29,223.80 L373.62,223.80 L373.94,223.80 L374.26,223.80 L374.58,223.80 L374.91,223.80 L375.23,223.80 L375.55,223.80 L375.87,223.80 L376.19,223.80 L376.52,223.80 L376.84,223.80 L377.16,223.80 L377.49,223.80 L377.81,223.80 L378.13,223.80 L378.45,223.80 L378.77,223.80 L379.10,223.80 L379.42,223.80 L379.74,223.80 L380.06,223.80 L380.39,223.80 L380.71,223.80 L381.03,223.80 L381.36,223.80 L381.68,223.80 L382.00,223.80" fill="none" stroke="#1a1a1a" stroke-width="0.85"/>
<path d="M330.40,223.80 L330.72,223.79 L331.05,223.79 L331.37,223.79 L331.69,223.79 L332.01,223.79 L332.34,223.79 L332.66,223.79 L332.98,223.79 L333.30,223.79 L333.63,223.79 L333.95,223.78 L334.27,223.78 L334.59,223.78 L334.92,223.78 L335.24,223.77 L335.56,223.77 L335.88,223.76 L336.21,223.76 L336.53,223.75 L336.85,223.73 L337.17,223.71 L337.50,223.68 L337.82,223.63 L338.14,223.55 L338.46,223.42 L338.79,223.21 L339.11,222.87 L339.43,222.36 L339.75,221.59 L340.08,220.48 L340.40,218.95 L340.72,216.90 L341.04,214.26 L341.37,210.98 L341.69,207.07 L342.01,202.58 L342.33,197.61 L342.66,192.37 L342.98,187.25 L343.30,182.94 L343.62,180.34 L343.95,180.06 L344.27,181.11 L344.59,183.12 L344.91,185.86 L345.24,189.04 L345.56,192.44 L345.88,195.88 L346.20,199.24 L346.53,202.46 L346.85,205.47 L347.17,208.24 L347.49,210.75 L347.81,212.99 L348.14,214.96 L348.46,216.65 L348.78,218.10 L349.11,219.30 L349.43,220.30 L349.75,221.10 L350.07,221.74 L350.40,222.24 L350.72,222.63 L351.04,222.92 L351.36,223.15 L351.69,223.31 L352.01,223.44 L352.33,223.52 L352.65,223.59 L352.98,223.64 L353.30,223.67 L353.62,223.70 L353.94,223.71 L354.27,223.73 L354.59,223.74 L354.91,223.75 L355.23,223.75 L355.56,223.76 L355.88,223.76 L356.20,223.77 L356.52,223.77 L356.85,223.77 L357.17,223.77 L357.49,223.78 L357.81,223.78 L358.13,223.78 L358.46,223.78 L358.78,223.78 L359.10,223.79 L359.43,223.79 L359.75,223.79 L360.07,223.79 L360.39,223.79 L360.72,223.79 L361.04,223.79 L361.36,223.79 L361.68,223.79 L362.00,223.79 L362.33,223.79 L362.65,223.79 L362.97,223.79 L363.30,223.79 L363.62,223.79 L363.94,223.79 L364.26,223.80 L364.59,223.80 L364.91,223.80 L365.23,223.80 L365.55,223.80 L365.88,223.80 L366.20,223.80 L366.52,223.80 L366.84,223.80 L367.17,223.80 L367.49,223.80 L367.81,223.80 L368.13,223.80 L368.45,223.80 L368.78,223.80 L369.10,223.80 L369.42,223.80 L369.75,223.80 L370.07,223.80 L370.39,223.80 L370.71,223.80 L371.04,223.80 L371.36,223.80 L371.68,223.80 L372.00,223.80 L372.32,223.80 L372.65,223.80 L372.97,223.80 L373.29,223.80 L373.62,223.80 L373.94,223.80 L374.26,223.80 L374.58,223.80 L374.91,223.80 L375.23,223.80 L375.55,223.80 L375.87,223.80 L376.19,223.80 L376.52,223.80 L376.84,223.80 L377.16,223.80 L377.49,223.80 L377.81,223.80 L378.13,223.80 L378.45,223.80 L378.77,223.80 L379.10,223.80 L379.42,223.80 L379.74,223.80 L380.06,223.80 L380.39,223.80 L380.71,223.80 L381.03,223.80 L381.36,223.80 L381.68,223.80 L382.00,223.80" fill="none" stroke="#a0a0a0" stroke-width="0.7"/>
<path d="M330.40,223.80 L330.72,223.80 L331.05,223.80 L331.37,223.80 L331.69,223.80 L332.01,223.80 L332.34,223.80 L332.66,223.80 L332.98,223.80 L333.30,223.80 L333.63,223.80 L333.95,223.80 L334.27,223.80 L334.59,223.79 L334.92,223.79 L335.24,223.79 L335.56,223.79 L335.88,223.79 L336.21,223.79 L336.53,223.79 L336.85,223.79 L337.17,223.79 L337.50,223.78 L337.82,223.78 L338.14,223.78 L338.46,223.78 L338.79,223.77 L339.11,223.77 L339.43,223.76 L339.75,223.75 L340.08,223.74 L340.40,223.73 L340.72,223.70 L341.04,223.66 L341.37,223.59 L341.69,223.47 L342.01,223.28 L342.33,222.96 L342.66,222.45 L342.98,221.68 L343.30,220.54 L343.62,218.92 L343.95,216.72 L344.27,213.87 L344.59,210.32 L344.91,206.07 L345.24,201.21 L345.56,195.90 L345.88,190.46 L346.20,185.51 L346.53,182.02 L346.85,180.99 L347.17,181.97 L347.49,184.29 L347.81,187.56 L348.14,191.34 L348.46,195.31 L348.78,199.22 L349.11,202.95 L349.43,206.40 L349.75,209.52 L350.07,212.28 L350.40,214.66 L350.72,216.68 L351.04,218.34 L351.36,219.69 L351.69,220.75 L352.01,221.57 L352.33,222.20 L352.65,222.65 L352.98,222.99 L353.30,223.23 L353.62,223.39 L353.94,223.51 L354.27,223.59 L354.59,223.64 L354.91,223.68 L355.23,223.71 L355.56,223.72 L355.88,223.74 L356.20,223.75 L356.52,223.75 L356.85,223.76 L357.17,223.77 L357.49,223.77 L357.81,223.77 L358.13,223.78 L358.46,223.78 L358.78,223.78 L359.10,223.78 L359.43,223.78 L359.75,223.79 L360.07,223.79 L360.39,223.79 L360.72,223.79 L361.04,223.79 L361.36,223.79 L361.68,223.79 L362.00,223.79 L362.33,223.79 L362.65,223.79 L362.97,223.79 L363.30,223.79 L363.62,223.79 L363.94,223.80 L364.26,223.80 L364.59,223.80 L364.91,223.80 L365.23,223.80 L365.55,223.80 L365.88,223.80 L366.20,223.80 L366.52,223.80 L366.84,223.80 L367.17,223.80 L367.49,223.80 L367.81,223.80 L368.13,223.80 L368.45,223.80 L368.78,223.80 L369.10,223.80 L369.42,223.80 L369.75,223.80 L370.07,223.80 L370.39,223.80 L370.71,223.80 L371.04,223.80 L371.36,223.80 L371.68,223.80 L372.00,223.80 L372.32,223.80 L372.65,223.80 L372.97,223.80 L373.29,223.80 L373.62,223.80 L373.94,223.80 L374.26,223.80 L374.58,223.80 L374.91,223.80 L375.23,223.80 L375.55,223.80 L375.87,223.80 L376.19,223.80 L376.52,223.80 L376.84,223.80 L377.16,223.80 L377.49,223.80 L377.81,223.80 L378.13,223.80 L378.45,223.80 L378.77,223.80 L379.10,223.80 L379.42,223.80 L379.74,223.80 L380.06,223.80 L380.39,223.80 L380.71,223.80 L381.03,223.80 L381.36,223.80 L381.68,223.80 L382.00,223.80" fill="none" stroke="#333" stroke-width="0.9" stroke-dasharray="1.3,0.8"/>
<path d="M330.40,223.80 L330.72,223.80 L331.05,223.80 L331.37,223.80 L331.69,223.80 L332.01,223.80 L332.34,223.80 L332.66,223.80 L332.98,223.80 L333.30,223.80 L333.63,223.79 L333.95,223.79 L334.27,223.79 L334.59,223.79 L334.92,223.79 L335.24,223.79 L335.56,223.79 L335.88,223.79 L336.21,223.79 L336.53,223.79 L336.85,223.78 L337.17,223.78 L337.50,223.78 L337.82,223.77 L338.14,223.77 L338.46,223.76 L338.79,223.75 L339.11,223.74 L339.43,223.73 L339.75,223.70 L340.08,223.66 L340.40,223.59 L340.72,223.47 L341.04,223.27 L341.37,222.95 L341.69,222.44 L342.01,221.66 L342.33,220.52 L342.66,218.91 L342.98,216.73 L343.30,213.92 L343.62,210.42 L343.95,206.27 L344.27,201.53 L344.59,196.38 L344.91,191.15 L345.24,186.47 L345.56,183.31 L345.88,182.56 L346.20,183.48 L346.53,185.48 L346.85,188.29 L347.17,191.56 L347.49,195.05 L347.81,198.54 L348.14,201.93 L348.46,205.12 L348.78,208.06 L349.11,210.73 L349.43,213.09 L349.75,215.16 L350.07,216.93 L350.40,218.41 L350.72,219.64 L351.04,220.63 L351.36,221.41 L351.69,222.02 L352.01,222.49 L352.33,222.84 L352.65,223.10 L352.98,223.29 L353.30,223.43 L353.62,223.53 L353.94,223.60 L354.27,223.65 L354.59,223.68 L354.91,223.70 L355.23,223.72 L355.56,223.73 L355.88,223.74 L356.20,223.75 L356.52,223.76 L356.85,223.76 L357.17,223.77 L357.49,223.77 L357.81,223.77 L358.13,223.78 L358.46,223.78 L358.78,223.78 L359.10,223.78 L359.43,223.78 L359.75,223.79 L360.07,223.79 L360.39,223.79 L360.72,223.79 L361.04,223.79 L361.36,223.79 L361.68,223.79 L362.00,223.79 L362.33,223.79 L362.65,223.79 L362.97,223.79 L363.30,223.79 L363.62,223.79 L363.94,223.79 L364.26,223.80 L364.59,223.80 L364.91,223.80 L365.23,223.80 L365.55,223.80 L365.88,223.80 L366.20,223.80 L366.52,223.80 L366.84,223.80 L367.17,223.80 L367.49,223.80 L367.81,223.80 L368.13,223.80 L368.45,223.80 L368.78,223.80 L369.10,223.80 L369.42,223.80 L369.75,223.80 L370.07,223.80 L370.39,223.80 L370.71,223.80 L371.04,223.80 L371.36,223.80 L371.68,223.80 L372.00,223.80 L372.32,223.80 L372.65,223.80 L372.97,223.80 L373.29,223.80 L373.62,223.80 L373.94,223.80 L374.26,223.80 L374.58,223.80 L374.91,223.80 L375.23,223.80 L375.55,223.80 L375.87,223.80 L376.19,223.80 L376.52,223.80 L376.84,223.80 L377.16,223.80 L377.49,223.80 L377.81,223.80 L378.13,223.80 L378.45,223.80 L378.77,223.80 L379.10,223.80 L379.42,223.80 L379.74,223.80 L380.06,223.80 L380.39,223.80 L380.71,223.80 L381.03,223.80 L381.36,223.80 L381.68,223.80 L382.00,223.80" fill="none" stroke="#777" stroke-width="0.6" stroke-dasharray="0.6,0.6"/>
<text x="363.60" y="178.00" font-size="5.4" text-anchor="middle" fill="#222">LPS</text>
<text x="330.20" y="231.4" font-size="5.0" fill="#333" text-anchor="middle">10<tspan font-size="3.3" dy="-2.0">0</tspan></text>
<text x="343.00" y="231.4" font-size="5.0" fill="#333" text-anchor="middle">10<tspan font-size="3.3" dy="-2.0">1</tspan></text>
<text x="355.80" y="231.4" font-size="5.0" fill="#333" text-anchor="middle">10<tspan font-size="3.3" dy="-2.0">2</tspan></text>
<text x="368.30" y="231.4" font-size="5.0" fill="#333" text-anchor="middle">10<tspan font-size="3.3" dy="-2.0">3</tspan></text>
<rect x="383.60" y="172.00" width="52.80" height="52.80" fill="none" stroke="#a8a8a8" stroke-width="0.8"/>
<path d="M384.20,223.76 L384.52,223.75 L384.85,223.72 L385.17,223.68 L385.49,223.61 L385.81,223.45 L386.14,223.14 L386.46,222.55 L386.78,221.52 L387.10,219.80 L387.43,217.15 L387.75,213.36 L388.07,208.35 L388.39,202.19 L388.72,195.19 L389.04,188.17 L389.36,182.87 L389.68,181.60 L390.01,183.95 L390.33,188.57 L390.65,194.19 L390.97,199.88 L391.30,205.15 L391.62,209.77 L391.94,213.63 L392.26,216.69 L392.59,219.02 L392.91,220.69 L393.23,221.84 L393.55,222.60 L393.88,223.08 L394.20,223.36 L394.52,223.53 L394.84,223.63 L395.17,223.69 L395.49,223.72 L395.81,223.74 L396.13,223.75 L396.46,223.76 L396.78,223.77 L397.10,223.77 L397.42,223.78 L397.75,223.78 L398.07,223.78 L398.39,223.79 L398.71,223.79 L399.04,223.79 L399.36,223.79 L399.68,223.79 L400.00,223.79 L400.33,223.79 L400.65,223.79 L400.97,223.79 L401.29,223.80 L401.62,223.80 L401.94,223.80 L402.26,223.80 L402.58,223.80 L402.91,223.80 L403.23,223.80 L403.55,223.80 L403.87,223.80 L404.20,223.80 L404.52,223.80 L404.84,223.80 L405.16,223.80 L405.49,223.80 L405.81,223.80 L406.13,223.80 L406.45,223.80 L406.78,223.80 L407.10,223.80 L407.42,223.80 L407.74,223.80 L408.07,223.80 L408.39,223.80 L408.71,223.80 L409.03,223.80 L409.36,223.80 L409.68,223.80 L410.00,223.80 L410.32,223.80 L410.65,223.80 L410.97,223.80 L411.29,223.80 L411.61,223.80 L411.94,223.80 L412.26,223.80 L412.58,223.80 L412.90,223.80 L413.23,223.80 L413.55,223.80 L413.87,223.80 L414.19,223.80 L414.52,223.80 L414.84,223.80 L415.16,223.80 L415.48,223.80 L415.81,223.80 L416.13,223.80 L416.45,223.80 L416.77,223.80 L417.10,223.80 L417.42,223.80 L417.74,223.80 L418.06,223.80 L418.39,223.80 L418.71,223.80 L419.03,223.80 L419.35,223.80 L419.68,223.80 L420.00,223.80 L420.32,223.80 L420.64,223.80 L420.97,223.80 L421.29,223.80 L421.61,223.80 L421.93,223.80 L422.25,223.80 L422.58,223.80 L422.90,223.80 L423.22,223.80 L423.55,223.80 L423.87,223.80 L424.19,223.80 L424.51,223.80 L424.84,223.80 L425.16,223.80 L425.48,223.80 L425.80,223.80 L426.12,223.80 L426.45,223.80 L426.77,223.80 L427.09,223.80 L427.42,223.80 L427.74,223.80 L428.06,223.80 L428.38,223.80 L428.71,223.80 L429.03,223.80 L429.35,223.80 L429.67,223.80 L430.00,223.80 L430.32,223.80 L430.64,223.80 L430.96,223.80 L431.29,223.80 L431.61,223.80 L431.93,223.80 L432.25,223.80 L432.57,223.80 L432.90,223.80 L433.22,223.80 L433.54,223.80 L433.87,223.80 L434.19,223.80 L434.51,223.80 L434.83,223.80 L435.16,223.80 L435.48,223.80 L435.80,223.80 L435.80,223.80 L384.20,223.80 Z" fill="#e6e6e6" stroke="#9c9c9c" stroke-width="0.7"/>
<path d="M384.20,223.79 L384.52,223.79 L384.85,223.79 L385.17,223.78 L385.49,223.78 L385.81,223.78 L386.14,223.77 L386.46,223.77 L386.78,223.76 L387.10,223.75 L387.43,223.74 L387.75,223.73 L388.07,223.70 L388.39,223.66 L388.72,223.58 L389.04,223.45 L389.36,223.22 L389.68,222.83 L390.01,222.20 L390.33,221.22 L390.65,219.76 L390.97,217.68 L391.30,214.88 L391.62,211.26 L391.94,206.82 L392.26,201.62 L392.59,195.83 L392.91,189.81 L393.23,184.28 L393.55,180.42 L393.88,179.48 L394.20,180.86 L394.52,183.82 L394.84,187.80 L395.17,192.25 L395.49,196.76 L395.81,201.10 L396.13,205.11 L396.46,208.72 L396.78,211.88 L397.10,214.58 L397.42,216.81 L397.75,218.61 L398.07,220.02 L398.39,221.10 L398.71,221.91 L399.04,222.49 L399.36,222.90 L399.68,223.19 L400.00,223.38 L400.33,223.51 L400.65,223.59 L400.97,223.65 L401.29,223.69 L401.62,223.71 L401.94,223.73 L402.26,223.74 L402.58,223.75 L402.91,223.76 L403.23,223.76 L403.55,223.77 L403.87,223.77 L404.20,223.78 L404.52,223.78 L404.84,223.78 L405.16,223.78 L405.49,223.78 L405.81,223.79 L406.13,223.79 L406.45,223.79 L406.78,223.79 L407.10,223.79 L407.42,223.79 L407.74,223.79 L408.07,223.79 L408.39,223.79 L408.71,223.79 L409.03,223.79 L409.36,223.79 L409.68,223.80 L410.00,223.80 L410.32,223.80 L410.65,223.80 L410.97,223.80 L411.29,223.80 L411.61,223.80 L411.94,223.80 L412.26,223.80 L412.58,223.80 L412.90,223.80 L413.23,223.80 L413.55,223.80 L413.87,223.80 L414.19,223.80 L414.52,223.80 L414.84,223.80 L415.16,223.80 L415.48,223.80 L415.81,223.80 L416.13,223.80 L416.45,223.80 L416.77,223.80 L417.10,223.80 L417.42,223.80 L417.74,223.80 L418.06,223.80 L418.39,223.80 L418.71,223.80 L419.03,223.80 L419.35,223.80 L419.68,223.80 L420.00,223.80 L420.32,223.80 L420.64,223.80 L420.97,223.80 L421.29,223.80 L421.61,223.80 L421.93,223.80 L422.25,223.80 L422.58,223.80 L422.90,223.80 L423.22,223.80 L423.55,223.80 L423.87,223.80 L424.19,223.80 L424.51,223.80 L424.84,223.80 L425.16,223.80 L425.48,223.80 L425.80,223.80 L426.12,223.80 L426.45,223.80 L426.77,223.80 L427.09,223.80 L427.42,223.80 L427.74,223.80 L428.06,223.80 L428.38,223.80 L428.71,223.80 L429.03,223.80 L429.35,223.80 L429.67,223.80 L430.00,223.80 L430.32,223.80 L430.64,223.80 L430.96,223.80 L431.29,223.80 L431.61,223.80 L431.93,223.80 L432.25,223.80 L432.57,223.80 L432.90,223.80 L433.22,223.80 L433.54,223.80 L433.87,223.80 L434.19,223.80 L434.51,223.80 L434.83,223.80 L435.16,223.80 L435.48,223.80 L435.80,223.80" fill="none" stroke="#1a1a1a" stroke-width="0.85"/>
<path d="M384.20,223.79 L384.52,223.79 L384.85,223.79 L385.17,223.78 L385.49,223.78 L385.81,223.78 L386.14,223.78 L386.46,223.77 L386.78,223.77 L387.10,223.76 L387.43,223.75 L387.75,223.73 L388.07,223.70 L388.39,223.64 L388.72,223.55 L389.04,223.40 L389.36,223.13 L389.68,222.69 L390.01,221.99 L390.33,220.93 L390.65,219.41 L390.97,217.30 L391.30,214.53 L391.62,211.08 L391.94,206.95 L392.26,202.27 L392.59,197.25 L392.91,192.37 L393.23,188.47 L393.55,186.68 L393.88,186.73 L394.20,187.02 L394.52,187.51 L394.84,188.19 L395.17,189.03 L395.49,190.02 L395.81,191.13 L396.13,192.34 L396.46,193.62 L396.78,194.94 L397.10,196.30 L397.42,197.68 L397.75,199.06 L398.07,200.43 L398.39,201.79 L398.71,203.12 L399.04,204.43 L399.36,205.70 L399.68,206.92 L400.00,208.11 L400.33,209.26 L400.65,210.35 L400.97,211.40 L401.29,212.39 L401.62,213.34 L401.94,214.23 L402.26,215.07 L402.58,215.86 L402.91,216.60 L403.23,217.29 L403.55,217.93 L403.87,218.52 L404.20,219.06 L404.52,219.56 L404.84,220.02 L405.16,220.43 L405.49,220.81 L405.81,221.15 L406.13,221.46 L406.45,221.74 L406.78,221.99 L407.10,222.21 L407.42,222.40 L407.74,222.58 L408.07,222.73 L408.39,222.87 L408.71,222.99 L409.03,223.09 L409.36,223.19 L409.68,223.27 L410.00,223.34 L410.32,223.40 L410.65,223.45 L410.97,223.49 L411.29,223.53 L411.61,223.56 L411.94,223.59 L412.26,223.62 L412.58,223.64 L412.90,223.66 L413.23,223.67 L413.55,223.68 L413.87,223.70 L414.19,223.71 L414.52,223.71 L414.84,223.72 L415.16,223.73 L415.48,223.73 L415.81,223.74 L416.13,223.74 L416.45,223.75 L416.77,223.75 L417.10,223.75 L417.42,223.76 L417.74,223.76 L418.06,223.76 L418.39,223.76 L418.71,223.77 L419.03,223.77 L419.35,223.77 L419.68,223.77 L420.00,223.77 L420.32,223.77 L420.64,223.77 L420.97,223.78 L421.29,223.78 L421.61,223.78 L421.93,223.78 L422.25,223.78 L422.58,223.78 L422.90,223.78 L423.22,223.78 L423.55,223.78 L423.87,223.78 L424.19,223.78 L424.51,223.78 L424.84,223.79 L425.16,223.79 L425.48,223.79 L425.80,223.79 L426.12,223.79 L426.45,223.79 L426.77,223.79 L427.09,223.79 L427.42,223.79 L427.74,223.79 L428.06,223.79 L428.38,223.79 L428.71,223.79 L429.03,223.79 L429.35,223.79 L429.67,223.79 L430.00,223.79 L430.32,223.79 L430.64,223.79 L430.96,223.79 L431.29,223.79 L431.61,223.79 L431.93,223.79 L432.25,223.79 L432.57,223.79 L432.90,223.79 L433.22,223.79 L433.54,223.79 L433.87,223.79 L434.19,223.79 L434.51,223.79 L434.83,223.80 L435.16,223.80 L435.48,223.80 L435.80,223.80" fill="none" stroke="#a0a0a0" stroke-width="0.7"/>
<path d="M384.20,223.79 L384.52,223.79 L384.85,223.79 L385.17,223.79 L385.49,223.78 L385.81,223.78 L386.14,223.78 L386.46,223.77 L386.78,223.77 L387.10,223.76 L387.43,223.75 L387.75,223.74 L388.07,223.72 L388.39,223.69 L388.72,223.64 L389.04,223.55 L389.36,223.39 L389.68,223.12 L390.01,222.66 L390.33,221.94 L390.65,220.83 L390.97,219.22 L391.30,216.96 L391.62,213.96 L391.94,210.16 L392.26,205.58 L392.59,200.32 L392.91,194.59 L393.23,188.86 L393.55,183.98 L393.88,181.22 L394.20,181.22 L394.52,182.61 L394.84,185.03 L395.17,188.15 L395.49,191.66 L395.81,195.30 L396.13,198.89 L396.46,202.34 L396.78,205.56 L397.10,208.51 L397.42,211.17 L397.75,213.51 L398.07,215.54 L398.39,217.27 L398.71,218.71 L399.04,219.88 L399.36,220.83 L399.68,221.57 L400.00,222.15 L400.33,222.59 L400.65,222.91 L400.97,223.16 L401.29,223.33 L401.62,223.46 L401.94,223.55 L402.26,223.61 L402.58,223.65 L402.91,223.69 L403.23,223.71 L403.55,223.72 L403.87,223.74 L404.20,223.75 L404.52,223.75 L404.84,223.76 L405.16,223.76 L405.49,223.77 L405.81,223.77 L406.13,223.77 L406.45,223.78 L406.78,223.78 L407.10,223.78 L407.42,223.78 L407.74,223.78 L408.07,223.79 L408.39,223.79 L408.71,223.79 L409.03,223.79 L409.36,223.79 L409.68,223.79 L410.00,223.79 L410.32,223.79 L410.65,223.79 L410.97,223.79 L411.29,223.79 L411.61,223.79 L411.94,223.79 L412.26,223.79 L412.58,223.79 L412.90,223.80 L413.23,223.80 L413.55,223.80 L413.87,223.80 L414.19,223.80 L414.52,223.80 L414.84,223.80 L415.16,223.80 L415.48,223.80 L415.81,223.80 L416.13,223.80 L416.45,223.80 L416.77,223.80 L417.10,223.80 L417.42,223.80 L417.74,223.80 L418.06,223.80 L418.39,223.80 L418.71,223.80 L419.03,223.80 L419.35,223.80 L419.68,223.80 L420.00,223.80 L420.32,223.80 L420.64,223.80 L420.97,223.80 L421.29,223.80 L421.61,223.80 L421.93,223.80 L422.25,223.80 L422.58,223.80 L422.90,223.80 L423.22,223.80 L423.55,223.80 L423.87,223.80 L424.19,223.80 L424.51,223.80 L424.84,223.80 L425.16,223.80 L425.48,223.80 L425.80,223.80 L426.12,223.80 L426.45,223.80 L426.77,223.80 L427.09,223.80 L427.42,223.80 L427.74,223.80 L428.06,223.80 L428.38,223.80 L428.71,223.80 L429.03,223.80 L429.35,223.80 L429.67,223.80 L430.00,223.80 L430.32,223.80 L430.64,223.80 L430.96,223.80 L431.29,223.80 L431.61,223.80 L431.93,223.80 L432.25,223.80 L432.57,223.80 L432.90,223.80 L433.22,223.80 L433.54,223.80 L433.87,223.80 L434.19,223.80 L434.51,223.80 L434.83,223.80 L435.16,223.80 L435.48,223.80 L435.80,223.80" fill="none" stroke="#333" stroke-width="0.9" stroke-dasharray="1.3,0.8"/>
<path d="M384.20,223.79 L384.52,223.79 L384.85,223.79 L385.17,223.79 L385.49,223.78 L385.81,223.78 L386.14,223.78 L386.46,223.77 L386.78,223.77 L387.10,223.76 L387.43,223.75 L387.75,223.74 L388.07,223.72 L388.39,223.68 L388.72,223.63 L389.04,223.52 L389.36,223.35 L389.68,223.05 L390.01,222.55 L390.33,221.77 L390.65,220.60 L390.97,218.90 L391.30,216.57 L391.62,213.53 L391.94,209.73 L392.26,205.21 L392.59,200.10 L392.91,194.65 L393.23,189.40 L393.55,185.30 L393.88,183.56 L394.20,183.84 L394.52,184.79 L394.84,186.31 L395.17,188.27 L395.49,190.55 L395.81,193.02 L396.13,195.57 L396.46,198.14 L396.78,200.66 L397.10,203.09 L397.42,205.41 L397.75,207.60 L398.07,209.64 L398.39,211.52 L398.71,213.24 L399.04,214.79 L399.36,216.18 L399.68,217.40 L400.00,218.48 L400.33,219.40 L400.65,220.20 L400.97,220.87 L401.29,221.43 L401.62,221.90 L401.94,222.29 L402.26,222.60 L402.58,222.85 L402.91,223.05 L403.23,223.21 L403.55,223.33 L403.87,223.43 L404.20,223.51 L404.52,223.57 L404.84,223.61 L405.16,223.65 L405.49,223.67 L405.81,223.69 L406.13,223.71 L406.45,223.72 L406.78,223.73 L407.10,223.74 L407.42,223.75 L407.74,223.75 L408.07,223.76 L408.39,223.76 L408.71,223.76 L409.03,223.77 L409.36,223.77 L409.68,223.77 L410.00,223.77 L410.32,223.78 L410.65,223.78 L410.97,223.78 L411.29,223.78 L411.61,223.78 L411.94,223.78 L412.26,223.78 L412.58,223.79 L412.90,223.79 L413.23,223.79 L413.55,223.79 L413.87,223.79 L414.19,223.79 L414.52,223.79 L414.84,223.79 L415.16,223.79 L415.48,223.79 L415.81,223.79 L416.13,223.79 L416.45,223.79 L416.77,223.79 L417.10,223.79 L417.42,223.79 L417.74,223.79 L418.06,223.79 L418.39,223.80 L418.71,223.80 L419.03,223.80 L419.35,223.80 L419.68,223.80 L420.00,223.80 L420.32,223.80 L420.64,223.80 L420.97,223.80 L421.29,223.80 L421.61,223.80 L421.93,223.80 L422.25,223.80 L422.58,223.80 L422.90,223.80 L423.22,223.80 L423.55,223.80 L423.87,223.80 L424.19,223.80 L424.51,223.80 L424.84,223.80 L425.16,223.80 L425.48,223.80 L425.80,223.80 L426.12,223.80 L426.45,223.80 L426.77,223.80 L427.09,223.80 L427.42,223.80 L427.74,223.80 L428.06,223.80 L428.38,223.80 L428.71,223.80 L429.03,223.80 L429.35,223.80 L429.67,223.80 L430.00,223.80 L430.32,223.80 L430.64,223.80 L430.96,223.80 L431.29,223.80 L431.61,223.80 L431.93,223.80 L432.25,223.80 L432.57,223.80 L432.90,223.80 L433.22,223.80 L433.54,223.80 L433.87,223.80 L434.19,223.80 L434.51,223.80 L434.83,223.80 L435.16,223.80 L435.48,223.80 L435.80,223.80" fill="none" stroke="#777" stroke-width="0.6" stroke-dasharray="0.6,0.6"/>
<text x="416.00" y="178.00" font-size="5.4" text-anchor="middle" fill="#222">Poly I:C</text>
<text x="384.00" y="231.4" font-size="5.0" fill="#333" text-anchor="middle">10<tspan font-size="3.3" dy="-2.0">0</tspan></text>
<text x="396.80" y="231.4" font-size="5.0" fill="#333" text-anchor="middle">10<tspan font-size="3.3" dy="-2.0">1</tspan></text>
<text x="409.60" y="231.4" font-size="5.0" fill="#333" text-anchor="middle">10<tspan font-size="3.3" dy="-2.0">2</tspan></text>
<text x="422.10" y="231.4" font-size="5.0" fill="#333" text-anchor="middle">10<tspan font-size="3.3" dy="-2.0">3</tspan></text>
<rect x="436.60" y="172.00" width="52.80" height="52.80" fill="none" stroke="#a8a8a8" stroke-width="0.8"/>
<path d="M437.20,223.77 L437.52,223.76 L437.85,223.75 L438.17,223.74 L438.49,223.71 L438.81,223.66 L439.14,223.56 L439.46,223.38 L439.78,223.04 L440.10,222.44 L440.43,221.45 L440.75,219.89 L441.07,217.58 L441.39,214.39 L441.72,210.25 L442.04,205.22 L442.36,199.49 L442.68,193.54 L443.01,188.39 L443.33,185.72 L443.65,186.39 L443.97,189.36 L444.30,193.71 L444.62,198.55 L444.94,203.31 L445.26,207.68 L445.59,211.51 L445.91,214.72 L446.23,217.32 L446.55,219.32 L446.88,220.80 L447.20,221.84 L447.52,222.56 L447.84,223.02 L448.17,223.32 L448.49,223.50 L448.81,223.61 L449.13,223.67 L449.46,223.71 L449.78,223.73 L450.10,223.75 L450.42,223.76 L450.75,223.77 L451.07,223.77 L451.39,223.78 L451.71,223.78 L452.04,223.78 L452.36,223.78 L452.68,223.79 L453.00,223.79 L453.33,223.79 L453.65,223.79 L453.97,223.79 L454.29,223.79 L454.62,223.79 L454.94,223.79 L455.26,223.79 L455.58,223.80 L455.91,223.80 L456.23,223.80 L456.55,223.80 L456.87,223.80 L457.20,223.80 L457.52,223.80 L457.84,223.80 L458.16,223.80 L458.49,223.80 L458.81,223.80 L459.13,223.80 L459.45,223.80 L459.78,223.80 L460.10,223.80 L460.42,223.80 L460.74,223.80 L461.07,223.80 L461.39,223.80 L461.71,223.80 L462.03,223.80 L462.36,223.80 L462.68,223.80 L463.00,223.80 L463.32,223.80 L463.65,223.80 L463.97,223.80 L464.29,223.80 L464.61,223.80 L464.94,223.80 L465.26,223.80 L465.58,223.80 L465.90,223.80 L466.23,223.80 L466.55,223.80 L466.87,223.80 L467.19,223.80 L467.52,223.80 L467.84,223.80 L468.16,223.80 L468.48,223.80 L468.81,223.80 L469.13,223.80 L469.45,223.80 L469.77,223.80 L470.10,223.80 L470.42,223.80 L470.74,223.80 L471.06,223.80 L471.39,223.80 L471.71,223.80 L472.03,223.80 L472.35,223.80 L472.68,223.80 L473.00,223.80 L473.32,223.80 L473.64,223.80 L473.97,223.80 L474.29,223.80 L474.61,223.80 L474.93,223.80 L475.25,223.80 L475.58,223.80 L475.90,223.80 L476.22,223.80 L476.55,223.80 L476.87,223.80 L477.19,223.80 L477.51,223.80 L477.84,223.80 L478.16,223.80 L478.48,223.80 L478.80,223.80 L479.12,223.80 L479.45,223.80 L479.77,223.80 L480.09,223.80 L480.42,223.80 L480.74,223.80 L481.06,223.80 L481.38,223.80 L481.71,223.80 L482.03,223.80 L482.35,223.80 L482.67,223.80 L483.00,223.80 L483.32,223.80 L483.64,223.80 L483.96,223.80 L484.29,223.80 L484.61,223.80 L484.93,223.80 L485.25,223.80 L485.57,223.80 L485.90,223.80 L486.22,223.80 L486.54,223.80 L486.87,223.80 L487.19,223.80 L487.51,223.80 L487.83,223.80 L488.16,223.80 L488.48,223.80 L488.80,223.80 L488.80,223.80 L437.20,223.80 Z" fill="#e6e6e6" stroke="#9c9c9c" stroke-width="0.7"/>
<path d="M437.20,223.79 L437.52,223.79 L437.85,223.79 L438.17,223.78 L438.49,223.78 L438.81,223.78 L439.14,223.77 L439.46,223.77 L439.78,223.76 L440.10,223.75 L440.43,223.74 L440.75,223.73 L441.07,223.70 L441.39,223.65 L441.72,223.57 L442.04,223.44 L442.36,223.22 L442.68,222.87 L443.01,222.31 L443.33,221.48 L443.65,220.28 L443.97,218.61 L444.30,216.38 L444.62,213.55 L444.94,210.09 L445.26,206.04 L445.59,201.50 L445.91,196.66 L446.23,191.92 L446.55,187.99 L446.88,185.81 L447.20,185.87 L447.52,187.34 L447.84,189.85 L448.17,193.02 L448.49,196.50 L448.81,200.03 L449.13,203.46 L449.46,206.68 L449.78,209.62 L450.10,212.25 L450.42,214.56 L450.75,216.53 L451.07,218.18 L451.39,219.53 L451.71,220.61 L452.04,221.45 L452.36,222.09 L452.68,222.58 L453.00,222.93 L453.33,223.18 L453.65,223.36 L453.97,223.49 L454.29,223.58 L454.62,223.64 L454.94,223.68 L455.26,223.71 L455.58,223.72 L455.91,223.74 L456.23,223.75 L456.55,223.76 L456.87,223.76 L457.20,223.77 L457.52,223.77 L457.84,223.77 L458.16,223.78 L458.49,223.78 L458.81,223.78 L459.13,223.78 L459.45,223.78 L459.78,223.79 L460.10,223.79 L460.42,223.79 L460.74,223.79 L461.07,223.79 L461.39,223.79 L461.71,223.79 L462.03,223.79 L462.36,223.79 L462.68,223.79 L463.00,223.79 L463.32,223.79 L463.65,223.80 L463.97,223.80 L464.29,223.80 L464.61,223.80 L464.94,223.80 L465.26,223.80 L465.58,223.80 L465.90,223.80 L466.23,223.80 L466.55,223.80 L466.87,223.80 L467.19,223.80 L467.52,223.80 L467.84,223.80 L468.16,223.80 L468.48,223.80 L468.81,223.80 L469.13,223.80 L469.45,223.80 L469.77,223.80 L470.10,223.80 L470.42,223.80 L470.74,223.80 L471.06,223.80 L471.39,223.80 L471.71,223.80 L472.03,223.80 L472.35,223.80 L472.68,223.80 L473.00,223.80 L473.32,223.80 L473.64,223.80 L473.97,223.80 L474.29,223.80 L474.61,223.80 L474.93,223.80 L475.25,223.80 L475.58,223.80 L475.90,223.80 L476.22,223.80 L476.55,223.80 L476.87,223.80 L477.19,223.80 L477.51,223.80 L477.84,223.80 L478.16,223.80 L478.48,223.80 L478.80,223.80 L479.12,223.80 L479.45,223.80 L479.77,223.80 L480.09,223.80 L480.42,223.80 L480.74,223.80 L481.06,223.80 L481.38,223.80 L481.71,223.80 L482.03,223.80 L482.35,223.80 L482.67,223.80 L483.00,223.80 L483.32,223.80 L483.64,223.80 L483.96,223.80 L484.29,223.80 L484.61,223.80 L484.93,223.80 L485.25,223.80 L485.57,223.80 L485.90,223.80 L486.22,223.80 L486.54,223.80 L486.87,223.80 L487.19,223.80 L487.51,223.80 L487.83,223.80 L488.16,223.80 L488.48,223.80 L488.80,223.80" fill="none" stroke="#1a1a1a" stroke-width="0.85"/>
<path d="M437.20,223.80 L437.52,223.80 L437.85,223.79 L438.17,223.79 L438.49,223.79 L438.81,223.79 L439.14,223.79 L439.46,223.79 L439.78,223.79 L440.10,223.79 L440.43,223.79 L440.75,223.79 L441.07,223.78 L441.39,223.78 L441.72,223.78 L442.04,223.78 L442.36,223.77 L442.68,223.77 L443.01,223.76 L443.33,223.75 L443.65,223.74 L443.97,223.73 L444.30,223.70 L444.62,223.67 L444.94,223.61 L445.26,223.51 L445.59,223.36 L445.91,223.11 L446.23,222.71 L446.55,222.12 L446.88,221.24 L447.20,220.00 L447.52,218.30 L447.84,216.06 L448.17,213.21 L448.49,209.74 L448.81,205.65 L449.13,201.01 L449.46,195.96 L449.78,190.77 L450.10,185.92 L450.42,182.19 L450.75,180.49 L451.07,180.84 L451.39,182.27 L451.71,184.56 L452.04,187.46 L452.36,190.71 L452.68,194.10 L453.00,197.48 L453.33,200.76 L453.65,203.86 L453.97,206.75 L454.29,209.40 L454.62,211.78 L454.94,213.89 L455.26,215.73 L455.58,217.31 L455.91,218.64 L456.23,219.75 L456.55,220.66 L456.87,221.39 L457.20,221.97 L457.52,222.42 L457.84,222.76 L458.16,223.03 L458.49,223.22 L458.81,223.37 L459.13,223.48 L459.45,223.55 L459.78,223.61 L460.10,223.65 L460.42,223.68 L460.74,223.70 L461.07,223.72 L461.39,223.73 L461.71,223.74 L462.03,223.75 L462.36,223.76 L462.68,223.76 L463.00,223.76 L463.32,223.77 L463.65,223.77 L463.97,223.77 L464.29,223.78 L464.61,223.78 L464.94,223.78 L465.26,223.78 L465.58,223.78 L465.90,223.78 L466.23,223.79 L466.55,223.79 L466.87,223.79 L467.19,223.79 L467.52,223.79 L467.84,223.79 L468.16,223.79 L468.48,223.79 L468.81,223.79 L469.13,223.79 L469.45,223.79 L469.77,223.79 L470.10,223.79 L470.42,223.79 L470.74,223.79 L471.06,223.80 L471.39,223.80 L471.71,223.80 L472.03,223.80 L472.35,223.80 L472.68,223.80 L473.00,223.80 L473.32,223.80 L473.64,223.80 L473.97,223.80 L474.29,223.80 L474.61,223.80 L474.93,223.80 L475.25,223.80 L475.58,223.80 L475.90,223.80 L476.22,223.80 L476.55,223.80 L476.87,223.80 L477.19,223.80 L477.51,223.80 L477.84,223.80 L478.16,223.80 L478.48,223.80 L478.80,223.80 L479.12,223.80 L479.45,223.80 L479.77,223.80 L480.09,223.80 L480.42,223.80 L480.74,223.80 L481.06,223.80 L481.38,223.80 L481.71,223.80 L482.03,223.80 L482.35,223.80 L482.67,223.80 L483.00,223.80 L483.32,223.80 L483.64,223.80 L483.96,223.80 L484.29,223.80 L484.61,223.80 L484.93,223.80 L485.25,223.80 L485.57,223.80 L485.90,223.80 L486.22,223.80 L486.54,223.80 L486.87,223.80 L487.19,223.80 L487.51,223.80 L487.83,223.80 L488.16,223.80 L488.48,223.80 L488.80,223.80" fill="none" stroke="#a0a0a0" stroke-width="0.7"/>
<path d="M437.20,223.80 L437.52,223.80 L437.85,223.80 L438.17,223.80 L438.49,223.80 L438.81,223.80 L439.14,223.80 L439.46,223.80 L439.78,223.80 L440.10,223.80 L440.43,223.80 L440.75,223.80 L441.07,223.80 L441.39,223.79 L441.72,223.79 L442.04,223.79 L442.36,223.79 L442.68,223.79 L443.01,223.79 L443.33,223.79 L443.65,223.79 L443.97,223.79 L444.30,223.79 L444.62,223.78 L444.94,223.78 L445.26,223.78 L445.59,223.77 L445.91,223.77 L446.23,223.76 L446.55,223.76 L446.88,223.75 L447.20,223.73 L447.52,223.71 L447.84,223.68 L448.17,223.63 L448.49,223.54 L448.81,223.39 L449.13,223.14 L449.46,222.73 L449.78,222.10 L450.10,221.14 L450.42,219.75 L450.75,217.82 L451.07,215.23 L451.39,211.93 L451.71,207.88 L452.04,203.12 L452.36,197.76 L452.68,192.02 L453.00,186.35 L453.33,181.55 L453.65,178.74 L453.97,178.62 L454.29,180.24 L454.62,183.13 L454.94,186.85 L455.26,190.97 L455.58,195.18 L455.91,199.27 L456.23,203.12 L456.55,206.65 L456.87,209.82 L457.20,212.59 L457.52,214.97 L457.84,216.96 L458.16,218.60 L458.49,219.90 L458.81,220.93 L459.13,221.71 L459.45,222.30 L459.78,222.73 L460.10,223.05 L460.42,223.27 L460.74,223.42 L461.07,223.53 L461.39,223.60 L461.71,223.65 L462.03,223.68 L462.36,223.71 L462.68,223.73 L463.00,223.74 L463.32,223.75 L463.65,223.75 L463.97,223.76 L464.29,223.76 L464.61,223.77 L464.94,223.77 L465.26,223.78 L465.58,223.78 L465.90,223.78 L466.23,223.78 L466.55,223.78 L466.87,223.79 L467.19,223.79 L467.52,223.79 L467.84,223.79 L468.16,223.79 L468.48,223.79 L468.81,223.79 L469.13,223.79 L469.45,223.79 L469.77,223.79 L470.10,223.79 L470.42,223.79 L470.74,223.79 L471.06,223.79 L471.39,223.80 L471.71,223.80 L472.03,223.80 L472.35,223.80 L472.68,223.80 L473.00,223.80 L473.32,223.80 L473.64,223.80 L473.97,223.80 L474.29,223.80 L474.61,223.80 L474.93,223.80 L475.25,223.80 L475.58,223.80 L475.90,223.80 L476.22,223.80 L476.55,223.80 L476.87,223.80 L477.19,223.80 L477.51,223.80 L477.84,223.80 L478.16,223.80 L478.48,223.80 L478.80,223.80 L479.12,223.80 L479.45,223.80 L479.77,223.80 L480.09,223.80 L480.42,223.80 L480.74,223.80 L481.06,223.80 L481.38,223.80 L481.71,223.80 L482.03,223.80 L482.35,223.80 L482.67,223.80 L483.00,223.80 L483.32,223.80 L483.64,223.80 L483.96,223.80 L484.29,223.80 L484.61,223.80 L484.93,223.80 L485.25,223.80 L485.57,223.80 L485.90,223.80 L486.22,223.80 L486.54,223.80 L486.87,223.80 L487.19,223.80 L487.51,223.80 L487.83,223.80 L488.16,223.80 L488.48,223.80 L488.80,223.80" fill="none" stroke="#333" stroke-width="0.9" stroke-dasharray="1.3,0.8"/>
<path d="M437.20,223.80 L437.52,223.80 L437.85,223.80 L438.17,223.80 L438.49,223.80 L438.81,223.80 L439.14,223.80 L439.46,223.80 L439.78,223.80 L440.10,223.80 L440.43,223.79 L440.75,223.79 L441.07,223.79 L441.39,223.79 L441.72,223.79 L442.04,223.79 L442.36,223.79 L442.68,223.79 L443.01,223.79 L443.33,223.78 L443.65,223.78 L443.97,223.78 L444.30,223.78 L444.62,223.77 L444.94,223.77 L445.26,223.76 L445.59,223.75 L445.91,223.74 L446.23,223.73 L446.55,223.70 L446.88,223.66 L447.20,223.58 L447.52,223.46 L447.84,223.26 L448.17,222.93 L448.49,222.41 L448.81,221.61 L449.13,220.44 L449.46,218.79 L449.78,216.56 L450.10,213.67 L450.42,210.09 L450.75,205.83 L451.07,200.97 L451.39,195.69 L451.71,190.34 L452.04,185.54 L452.36,182.29 L452.68,181.53 L453.00,182.47 L453.33,184.53 L453.65,187.40 L453.97,190.76 L454.29,194.33 L454.62,197.91 L454.94,201.38 L455.26,204.65 L455.58,207.67 L455.91,210.40 L456.23,212.83 L456.55,214.95 L456.87,216.76 L457.20,218.28 L457.52,219.53 L457.84,220.55 L458.16,221.35 L458.49,221.98 L458.81,222.46 L459.13,222.82 L459.45,223.09 L459.78,223.28 L460.10,223.42 L460.42,223.52 L460.74,223.59 L461.07,223.64 L461.39,223.68 L461.71,223.70 L462.03,223.72 L462.36,223.73 L462.68,223.74 L463.00,223.75 L463.32,223.76 L463.65,223.76 L463.97,223.77 L464.29,223.77 L464.61,223.77 L464.94,223.78 L465.26,223.78 L465.58,223.78 L465.90,223.78 L466.23,223.78 L466.55,223.78 L466.87,223.79 L467.19,223.79 L467.52,223.79 L467.84,223.79 L468.16,223.79 L468.48,223.79 L468.81,223.79 L469.13,223.79 L469.45,223.79 L469.77,223.79 L470.10,223.79 L470.42,223.79 L470.74,223.79 L471.06,223.79 L471.39,223.80 L471.71,223.80 L472.03,223.80 L472.35,223.80 L472.68,223.80 L473.00,223.80 L473.32,223.80 L473.64,223.80 L473.97,223.80 L474.29,223.80 L474.61,223.80 L474.93,223.80 L475.25,223.80 L475.58,223.80 L475.90,223.80 L476.22,223.80 L476.55,223.80 L476.87,223.80 L477.19,223.80 L477.51,223.80 L477.84,223.80 L478.16,223.80 L478.48,223.80 L478.80,223.80 L479.12,223.80 L479.45,223.80 L479.77,223.80 L480.09,223.80 L480.42,223.80 L480.74,223.80 L481.06,223.80 L481.38,223.80 L481.71,223.80 L482.03,223.80 L482.35,223.80 L482.67,223.80 L483.00,223.80 L483.32,223.80 L483.64,223.80 L483.96,223.80 L484.29,223.80 L484.61,223.80 L484.93,223.80 L485.25,223.80 L485.57,223.80 L485.90,223.80 L486.22,223.80 L486.54,223.80 L486.87,223.80 L487.19,223.80 L487.51,223.80 L487.83,223.80 L488.16,223.80 L488.48,223.80 L488.80,223.80" fill="none" stroke="#777" stroke-width="0.6" stroke-dasharray="0.6,0.6"/>
<text x="471.90" y="178.00" font-size="5.4" text-anchor="middle" fill="#222">LPS Poly I:C</text>
<text x="437.00" y="231.4" font-size="5.0" fill="#333" text-anchor="middle">10<tspan font-size="3.3" dy="-2.0">0</tspan></text>
<text x="449.80" y="231.4" font-size="5.0" fill="#333" text-anchor="middle">10<tspan font-size="3.3" dy="-2.0">1</tspan></text>
<text x="462.60" y="231.4" font-size="5.0" fill="#333" text-anchor="middle">10<tspan font-size="3.3" dy="-2.0">2</tspan></text>
<text x="475.10" y="231.4" font-size="5.0" fill="#333" text-anchor="middle">10<tspan font-size="3.3" dy="-2.0">3</tspan></text>
<line x1="305.30" y1="204.50" x2="315.50" y2="204.50" stroke="#c8c8c8" stroke-width="0.6" stroke-dasharray="0.8,0.6"/>
<text x="316.90" y="205.70" font-size="3.3" text-anchor="start" fill="#555">60 min</text>
<line x1="305.30" y1="208.20" x2="315.50" y2="208.20" stroke="#444" stroke-width="1.0" stroke-dasharray="1.2,1.6"/>
<text x="316.90" y="209.40" font-size="3.3" text-anchor="start" fill="#555">30 min</text>
<line x1="305.30" y1="211.40" x2="315.50" y2="211.40" stroke="#c0c0c0" stroke-width="0.6"/>
<text x="316.90" y="212.60" font-size="3.3" text-anchor="start" fill="#555">10 min</text>
<line x1="305.30" y1="214.80" x2="315.50" y2="214.80" stroke="#333" stroke-width="1.0"/>
<text x="316.90" y="216.00" font-size="3.3" text-anchor="start" fill="#555">5 min</text>
<rect x="305.30" y="217.40" width="10.20" height="2.80" fill="#c8c8c8"/>
<text x="316.90" y="220.00" font-size="3.3" text-anchor="start" fill="#555">Isotype</text>
<text x="55.20" y="276.60" font-size="6.15" text-anchor="middle" fill="#111">Immature</text>
<text x="82.60" y="276.60" font-size="6.15" text-anchor="middle" fill="#111">LPS</text>
<text x="121.00" y="276.60" font-size="6.15" text-anchor="middle" fill="#111">PolyI:C</text>
<text x="154.00" y="276.60" font-size="6.15" text-anchor="middle" fill="#111">LPS/polyI:C</text>
<text x="187.30" y="276.60" font-size="6.15" text-anchor="middle" fill="#111">R848</text>
<text x="220.60" y="276.60" font-size="6.15" text-anchor="middle" fill="#111">LPS/R848</text>
<text x="254.20" y="276.60" font-size="6.15" text-anchor="middle" fill="#111">R848/polyI:C</text>
<text x="283.20" y="276.60" font-size="6.15" text-anchor="middle" fill="#111">MIMIC</text>
<rect x="39.50" y="278.50" width="29.50" height="29.50" fill="none" stroke="#a8a8a8" stroke-width="0.8"/>
<line x1="39.50" y1="278.50" x2="39.50" y2="308.00" stroke="#6a6a6a" stroke-width="0.9"/>
<line x1="39.50" y1="308.00" x2="69.00" y2="308.00" stroke="#6a6a6a" stroke-width="0.9"/>
<line x1="51.80" y1="278.50" x2="51.80" y2="308.00" stroke="#a4a4a4" stroke-width="0.8"/>
<line x1="39.50" y1="293.50" x2="69.00" y2="293.50" stroke="#a4a4a4" stroke-width="0.8"/>
<line x1="38.30" y1="301.59" x2="39.50" y2="301.59" stroke="#999" stroke-width="0.5"/>
<line x1="45.91" y1="308.00" x2="45.91" y2="309.20" stroke="#999" stroke-width="0.5"/>
<text x="45.91" y="311.40" font-size="2.1" fill="#666" text-anchor="middle">102</text>
<text x="38.00" y="302.29" font-size="2.1" fill="#666" text-anchor="end">2</text>
<line x1="38.30" y1="295.17" x2="39.50" y2="295.17" stroke="#999" stroke-width="0.5"/>
<line x1="52.33" y1="308.00" x2="52.33" y2="309.20" stroke="#999" stroke-width="0.5"/>
<text x="52.33" y="311.40" font-size="2.1" fill="#666" text-anchor="middle">103</text>
<text x="38.00" y="295.87" font-size="2.1" fill="#666" text-anchor="end">3</text>
<line x1="38.30" y1="288.76" x2="39.50" y2="288.76" stroke="#999" stroke-width="0.5"/>
<line x1="58.74" y1="308.00" x2="58.74" y2="309.20" stroke="#999" stroke-width="0.5"/>
<text x="58.74" y="311.40" font-size="2.1" fill="#666" text-anchor="middle">104</text>
<text x="38.00" y="289.46" font-size="2.1" fill="#666" text-anchor="end">4</text>
<line x1="38.30" y1="282.35" x2="39.50" y2="282.35" stroke="#999" stroke-width="0.5"/>
<line x1="65.15" y1="308.00" x2="65.15" y2="309.20" stroke="#999" stroke-width="0.5"/>
<text x="65.15" y="311.40" font-size="2.1" fill="#666" text-anchor="middle">105</text>
<text x="38.00" y="283.05" font-size="2.1" fill="#666" text-anchor="end">5</text>
<text x="40.30" y="281.50" font-size="2.8" font-weight="bold" fill="#333">0.60</text>
<text x="68.40" y="281.50" font-size="2.8" font-weight="bold" fill="#333" text-anchor="end">0.02</text>
<text x="40.30" y="307.30" font-size="2.8" font-weight="bold" fill="#333">88.4</text>
<text x="68.40" y="307.30" font-size="2.8" font-weight="bold" fill="#333" text-anchor="end">4.80</text>
<rect x="72.50" y="278.50" width="29.50" height="29.50" fill="none" stroke="#a8a8a8" stroke-width="0.8"/>
<line x1="72.50" y1="278.50" x2="72.50" y2="308.00" stroke="#6a6a6a" stroke-width="0.9"/>
<line x1="72.50" y1="308.00" x2="102.00" y2="308.00" stroke="#6a6a6a" stroke-width="0.9"/>
<line x1="84.80" y1="278.50" x2="84.80" y2="308.00" stroke="#a4a4a4" stroke-width="0.8"/>
<line x1="72.50" y1="293.50" x2="102.00" y2="293.50" stroke="#a4a4a4" stroke-width="0.8"/>
<line x1="71.30" y1="301.59" x2="72.50" y2="301.59" stroke="#999" stroke-width="0.5"/>
<line x1="78.91" y1="308.00" x2="78.91" y2="309.20" stroke="#999" stroke-width="0.5"/>
<text x="78.91" y="311.40" font-size="2.1" fill="#666" text-anchor="middle">102</text>
<text x="71.00" y="302.29" font-size="2.1" fill="#666" text-anchor="end">2</text>
<line x1="71.30" y1="295.17" x2="72.50" y2="295.17" stroke="#999" stroke-width="0.5"/>
<line x1="85.33" y1="308.00" x2="85.33" y2="309.20" stroke="#999" stroke-width="0.5"/>
<text x="85.33" y="311.40" font-size="2.1" fill="#666" text-anchor="middle">103</text>
<text x="71.00" y="295.87" font-size="2.1" fill="#666" text-anchor="end">3</text>
<line x1="71.30" y1="288.76" x2="72.50" y2="288.76" stroke="#999" stroke-width="0.5"/>
<line x1="91.74" y1="308.00" x2="91.74" y2="309.20" stroke="#999" stroke-width="0.5"/>
<text x="91.74" y="311.40" font-size="2.1" fill="#666" text-anchor="middle">104</text>
<text x="71.00" y="289.46" font-size="2.1" fill="#666" text-anchor="end">4</text>
<line x1="71.30" y1="282.35" x2="72.50" y2="282.35" stroke="#999" stroke-width="0.5"/>
<line x1="98.15" y1="308.00" x2="98.15" y2="309.20" stroke="#999" stroke-width="0.5"/>
<text x="98.15" y="311.40" font-size="2.1" fill="#666" text-anchor="middle">105</text>
<text x="71.00" y="283.05" font-size="2.1" fill="#666" text-anchor="end">5</text>
<text x="73.30" y="281.50" font-size="2.8" font-weight="bold" fill="#333">0.00</text>
<text x="101.40" y="281.50" font-size="2.8" font-weight="bold" fill="#333" text-anchor="end">27.75</text>
<text x="73.30" y="307.30" font-size="2.8" font-weight="bold" fill="#333">14.85</text>
<text x="101.40" y="307.30" font-size="2.8" font-weight="bold" fill="#333" text-anchor="end">76.36</text>
<rect x="105.50" y="278.50" width="29.50" height="29.50" fill="none" stroke="#a8a8a8" stroke-width="0.8"/>
<line x1="105.50" y1="278.50" x2="105.50" y2="308.00" stroke="#6a6a6a" stroke-width="0.9"/>
<line x1="105.50" y1="308.00" x2="135.00" y2="308.00" stroke="#6a6a6a" stroke-width="0.9"/>
<line x1="117.80" y1="278.50" x2="117.80" y2="308.00" stroke="#a4a4a4" stroke-width="0.8"/>
<line x1="105.50" y1="293.50" x2="135.00" y2="293.50" stroke="#a4a4a4" stroke-width="0.8"/>
<line x1="104.30" y1="301.59" x2="105.50" y2="301.59" stroke="#999" stroke-width="0.5"/>
<line x1="111.91" y1="308.00" x2="111.91" y2="309.20" stroke="#999" stroke-width="0.5"/>
<text x="111.91" y="311.40" font-size="2.1" fill="#666" text-anchor="middle">102</text>
<text x="104.00" y="302.29" font-size="2.1" fill="#666" text-anchor="end">2</text>
<line x1="104.30" y1="295.17" x2="105.50" y2="295.17" stroke="#999" stroke-width="0.5"/>
<line x1="118.33" y1="308.00" x2="118.33" y2="309.20" stroke="#999" stroke-width="0.5"/>
<text x="118.33" y="311.40" font-size="2.1" fill="#666" text-anchor="middle">103</text>
<text x="104.00" y="295.87" font-size="2.1" fill="#666" text-anchor="end">3</text>
<line x1="104.30" y1="288.76" x2="105.50" y2="288.76" stroke="#999" stroke-width="0.5"/>
<line x1="124.74" y1="308.00" x2="124.74" y2="309.20" stroke="#999" stroke-width="0.5"/>
<text x="124.74" y="311.40" font-size="2.1" fill="#666" text-anchor="middle">104</text>
<text x="104.00" y="289.46" font-size="2.1" fill="#666" text-anchor="end">4</text>
<line x1="104.30" y1="282.35" x2="105.50" y2="282.35" stroke="#999" stroke-width="0.5"/>
<line x1="131.15" y1="308.00" x2="131.15" y2="309.20" stroke="#999" stroke-width="0.5"/>
<text x="131.15" y="311.40" font-size="2.1" fill="#666" text-anchor="middle">105</text>
<text x="104.00" y="283.05" font-size="2.1" fill="#666" text-anchor="end">5</text>
<text x="106.30" y="281.50" font-size="2.8" font-weight="bold" fill="#333">1.50</text>
<text x="134.40" y="281.50" font-size="2.8" font-weight="bold" fill="#333" text-anchor="end">62.15</text>
<text x="106.30" y="307.30" font-size="2.8" font-weight="bold" fill="#333">0.00</text>
<text x="134.40" y="307.30" font-size="2.8" font-weight="bold" fill="#333" text-anchor="end">0.00</text>
<rect x="138.50" y="278.50" width="29.50" height="29.50" fill="none" stroke="#a8a8a8" stroke-width="0.8"/>
<line x1="138.50" y1="278.50" x2="138.50" y2="308.00" stroke="#6a6a6a" stroke-width="0.9"/>
<line x1="138.50" y1="308.00" x2="168.00" y2="308.00" stroke="#6a6a6a" stroke-width="0.9"/>
<line x1="150.80" y1="278.50" x2="150.80" y2="308.00" stroke="#a4a4a4" stroke-width="0.8"/>
<line x1="138.50" y1="293.50" x2="168.00" y2="293.50" stroke="#a4a4a4" stroke-width="0.8"/>
<line x1="137.30" y1="301.59" x2="138.50" y2="301.59" stroke="#999" stroke-width="0.5"/>
<line x1="144.91" y1="308.00" x2="144.91" y2="309.20" stroke="#999" stroke-width="0.5"/>
<text x="144.91" y="311.40" font-size="2.1" fill="#666" text-anchor="middle">102</text>
<text x="137.00" y="302.29" font-size="2.1" fill="#666" text-anchor="end">2</text>
<line x1="137.30" y1="295.17" x2="138.50" y2="295.17" stroke="#999" stroke-width="0.5"/>
<line x1="151.33" y1="308.00" x2="151.33" y2="309.20" stroke="#999" stroke-width="0.5"/>
<text x="151.33" y="311.40" font-size="2.1" fill="#666" text-anchor="middle">103</text>
<text x="137.00" y="295.87" font-size="2.1" fill="#666" text-anchor="end">3</text>
<line x1="137.30" y1="288.76" x2="138.50" y2="288.76" stroke="#999" stroke-width="0.5"/>
<line x1="157.74" y1="308.00" x2="157.74" y2="309.20" stroke="#999" stroke-width="0.5"/>
<text x="157.74" y="311.40" font-size="2.1" fill="#666" text-anchor="middle">104</text>
<text x="137.00" y="289.46" font-size="2.1" fill="#666" text-anchor="end">4</text>
<line x1="137.30" y1="282.35" x2="138.50" y2="282.35" stroke="#999" stroke-width="0.5"/>
<line x1="164.15" y1="308.00" x2="164.15" y2="309.20" stroke="#999" stroke-width="0.5"/>
<text x="164.15" y="311.40" font-size="2.1" fill="#666" text-anchor="middle">105</text>
<text x="137.00" y="283.05" font-size="2.1" fill="#666" text-anchor="end">5</text>
<text x="139.30" y="281.50" font-size="2.8" font-weight="bold" fill="#333">0.68</text>
<text x="167.40" y="281.50" font-size="2.8" font-weight="bold" fill="#333" text-anchor="end">70.76</text>
<text x="139.30" y="307.30" font-size="2.8" font-weight="bold" fill="#333">18.76</text>
<text x="167.40" y="307.30" font-size="2.8" font-weight="bold" fill="#333" text-anchor="end">16.81</text>
<rect x="171.50" y="278.50" width="29.50" height="29.50" fill="none" stroke="#a8a8a8" stroke-width="0.8"/>
<line x1="171.50" y1="278.50" x2="171.50" y2="308.00" stroke="#6a6a6a" stroke-width="0.9"/>
<line x1="171.50" y1="308.00" x2="201.00" y2="308.00" stroke="#6a6a6a" stroke-width="0.9"/>
<line x1="183.80" y1="278.50" x2="183.80" y2="308.00" stroke="#a4a4a4" stroke-width="0.8"/>
<line x1="171.50" y1="293.50" x2="201.00" y2="293.50" stroke="#a4a4a4" stroke-width="0.8"/>
<line x1="170.30" y1="301.59" x2="171.50" y2="301.59" stroke="#999" stroke-width="0.5"/>
<line x1="177.91" y1="308.00" x2="177.91" y2="309.20" stroke="#999" stroke-width="0.5"/>
<text x="177.91" y="311.40" font-size="2.1" fill="#666" text-anchor="middle">102</text>
<text x="170.00" y="302.29" font-size="2.1" fill="#666" text-anchor="end">2</text>
<line x1="170.30" y1="295.17" x2="171.50" y2="295.17" stroke="#999" stroke-width="0.5"/>
<line x1="184.33" y1="308.00" x2="184.33" y2="309.20" stroke="#999" stroke-width="0.5"/>
<text x="184.33" y="311.40" font-size="2.1" fill="#666" text-anchor="middle">103</text>
<text x="170.00" y="295.87" font-size="2.1" fill="#666" text-anchor="end">3</text>
<line x1="170.30" y1="288.76" x2="171.50" y2="288.76" stroke="#999" stroke-width="0.5"/>
<line x1="190.74" y1="308.00" x2="190.74" y2="309.20" stroke="#999" stroke-width="0.5"/>
<text x="190.74" y="311.40" font-size="2.1" fill="#666" text-anchor="middle">104</text>
<text x="170.00" y="289.46" font-size="2.1" fill="#666" text-anchor="end">4</text>
<line x1="170.30" y1="282.35" x2="171.50" y2="282.35" stroke="#999" stroke-width="0.5"/>
<line x1="197.15" y1="308.00" x2="197.15" y2="309.20" stroke="#999" stroke-width="0.5"/>
<text x="197.15" y="311.40" font-size="2.1" fill="#666" text-anchor="middle">105</text>
<text x="170.00" y="283.05" font-size="2.1" fill="#666" text-anchor="end">5</text>
<text x="172.30" y="281.50" font-size="2.8" font-weight="bold" fill="#333">0.51</text>
<text x="200.40" y="281.50" font-size="2.8" font-weight="bold" fill="#333" text-anchor="end">62.89</text>
<text x="172.30" y="307.30" font-size="2.8" font-weight="bold" fill="#333">20.00</text>
<text x="200.40" y="307.30" font-size="2.8" font-weight="bold" fill="#333" text-anchor="end">16.55</text>
<rect x="204.50" y="278.50" width="29.50" height="29.50" fill="none" stroke="#a8a8a8" stroke-width="0.8"/>
<line x1="204.50" y1="278.50" x2="204.50" y2="308.00" stroke="#6a6a6a" stroke-width="0.9"/>
<line x1="204.50" y1="308.00" x2="234.00" y2="308.00" stroke="#6a6a6a" stroke-width="0.9"/>
<line x1="216.80" y1="278.50" x2="216.80" y2="308.00" stroke="#a4a4a4" stroke-width="0.8"/>
<line x1="204.50" y1="293.50" x2="234.00" y2="293.50" stroke="#a4a4a4" stroke-width="0.8"/>
<line x1="203.30" y1="301.59" x2="204.50" y2="301.59" stroke="#999" stroke-width="0.5"/>
<line x1="210.91" y1="308.00" x2="210.91" y2="309.20" stroke="#999" stroke-width="0.5"/>
<text x="210.91" y="311.40" font-size="2.1" fill="#666" text-anchor="middle">102</text>
<text x="203.00" y="302.29" font-size="2.1" fill="#666" text-anchor="end">2</text>
<line x1="203.30" y1="295.17" x2="204.50" y2="295.17" stroke="#999" stroke-width="0.5"/>
<line x1="217.33" y1="308.00" x2="217.33" y2="309.20" stroke="#999" stroke-width="0.5"/>
<text x="217.33" y="311.40" font-size="2.1" fill="#666" text-anchor="middle">103</text>
<text x="203.00" y="295.87" font-size="2.1" fill="#666" text-anchor="end">3</text>
<line x1="203.30" y1="288.76" x2="204.50" y2="288.76" stroke="#999" stroke-width="0.5"/>
<line x1="223.74" y1="308.00" x2="223.74" y2="309.20" stroke="#999" stroke-width="0.5"/>
<text x="223.74" y="311.40" font-size="2.1" fill="#666" text-anchor="middle">104</text>
<text x="203.00" y="289.46" font-size="2.1" fill="#666" text-anchor="end">4</text>
<line x1="203.30" y1="282.35" x2="204.50" y2="282.35" stroke="#999" stroke-width="0.5"/>
<line x1="230.15" y1="308.00" x2="230.15" y2="309.20" stroke="#999" stroke-width="0.5"/>
<text x="230.15" y="311.40" font-size="2.1" fill="#666" text-anchor="middle">105</text>
<text x="203.00" y="283.05" font-size="2.1" fill="#666" text-anchor="end">5</text>
<text x="205.30" y="281.50" font-size="2.8" font-weight="bold" fill="#333">0.67</text>
<text x="233.40" y="281.50" font-size="2.8" font-weight="bold" fill="#333" text-anchor="end">59.62</text>
<text x="205.30" y="307.30" font-size="2.8" font-weight="bold" fill="#333">12.45</text>
<text x="233.40" y="307.30" font-size="2.8" font-weight="bold" fill="#333" text-anchor="end">23.24</text>
<rect x="237.50" y="278.50" width="29.50" height="29.50" fill="none" stroke="#a8a8a8" stroke-width="0.8"/>
<line x1="237.50" y1="278.50" x2="237.50" y2="308.00" stroke="#6a6a6a" stroke-width="0.9"/>
<line x1="237.50" y1="308.00" x2="267.00" y2="308.00" stroke="#6a6a6a" stroke-width="0.9"/>
<line x1="249.80" y1="278.50" x2="249.80" y2="308.00" stroke="#a4a4a4" stroke-width="0.8"/>
<line x1="237.50" y1="293.50" x2="267.00" y2="293.50" stroke="#a4a4a4" stroke-width="0.8"/>
<line x1="236.30" y1="301.59" x2="237.50" y2="301.59" stroke="#999" stroke-width="0.5"/>
<line x1="243.91" y1="308.00" x2="243.91" y2="309.20" stroke="#999" stroke-width="0.5"/>
<text x="243.91" y="311.40" font-size="2.1" fill="#666" text-anchor="middle">102</text>
<text x="236.00" y="302.29" font-size="2.1" fill="#666" text-anchor="end">2</text>
<line x1="236.30" y1="295.17" x2="237.50" y2="295.17" stroke="#999" stroke-width="0.5"/>
<line x1="250.33" y1="308.00" x2="250.33" y2="309.20" stroke="#999" stroke-width="0.5"/>
<text x="250.33" y="311.40" font-size="2.1" fill="#666" text-anchor="middle">103</text>
<text x="236.00" y="295.87" font-size="2.1" fill="#666" text-anchor="end">3</text>
<line x1="236.30" y1="288.76" x2="237.50" y2="288.76" stroke="#999" stroke-width="0.5"/>
<line x1="256.74" y1="308.00" x2="256.74" y2="309.20" stroke="#999" stroke-width="0.5"/>
<text x="256.74" y="311.40" font-size="2.1" fill="#666" text-anchor="middle">104</text>
<text x="236.00" y="289.46" font-size="2.1" fill="#666" text-anchor="end">4</text>
<line x1="236.30" y1="282.35" x2="237.50" y2="282.35" stroke="#999" stroke-width="0.5"/>
<line x1="263.15" y1="308.00" x2="263.15" y2="309.20" stroke="#999" stroke-width="0.5"/>
<text x="263.15" y="311.40" font-size="2.1" fill="#666" text-anchor="middle">105</text>
<text x="236.00" y="283.05" font-size="2.1" fill="#666" text-anchor="end">5</text>
<text x="238.30" y="281.50" font-size="2.8" font-weight="bold" fill="#333">0.87</text>
<text x="266.40" y="281.50" font-size="2.8" font-weight="bold" fill="#333" text-anchor="end">50.45</text>
<text x="238.30" y="307.30" font-size="2.8" font-weight="bold" fill="#333">12.12</text>
<text x="266.40" y="307.30" font-size="2.8" font-weight="bold" fill="#333" text-anchor="end">35.7</text>
<rect x="270.50" y="278.50" width="29.50" height="29.50" fill="none" stroke="#a8a8a8" stroke-width="0.8"/>
<line x1="270.50" y1="278.50" x2="270.50" y2="308.00" stroke="#6a6a6a" stroke-width="0.9"/>
<line x1="270.50" y1="308.00" x2="300.00" y2="308.00" stroke="#6a6a6a" stroke-width="0.9"/>
<line x1="282.80" y1="278.50" x2="282.80" y2="308.00" stroke="#a4a4a4" stroke-width="0.8"/>
<line x1="270.50" y1="293.50" x2="300.00" y2="293.50" stroke="#a4a4a4" stroke-width="0.8"/>
<line x1="269.30" y1="301.59" x2="270.50" y2="301.59" stroke="#999" stroke-width="0.5"/>
<line x1="276.91" y1="308.00" x2="276.91" y2="309.20" stroke="#999" stroke-width="0.5"/>
<text x="276.91" y="311.40" font-size="2.1" fill="#666" text-anchor="middle">102</text>
<text x="269.00" y="302.29" font-size="2.1" fill="#666" text-anchor="end">2</text>
<line x1="269.30" y1="295.17" x2="270.50" y2="295.17" stroke="#999" stroke-width="0.5"/>
<line x1="283.33" y1="308.00" x2="283.33" y2="309.20" stroke="#999" stroke-width="0.5"/>
<text x="283.33" y="311.40" font-size="2.1" fill="#666" text-anchor="middle">103</text>
<text x="269.00" y="295.87" font-size="2.1" fill="#666" text-anchor="end">3</text>
<line x1="269.30" y1="288.76" x2="270.50" y2="288.76" stroke="#999" stroke-width="0.5"/>
<line x1="289.74" y1="308.00" x2="289.74" y2="309.20" stroke="#999" stroke-width="0.5"/>
<text x="289.74" y="311.40" font-size="2.1" fill="#666" text-anchor="middle">104</text>
<text x="269.00" y="289.46" font-size="2.1" fill="#666" text-anchor="end">4</text>
<line x1="269.30" y1="282.35" x2="270.50" y2="282.35" stroke="#999" stroke-width="0.5"/>
<line x1="296.15" y1="308.00" x2="296.15" y2="309.20" stroke="#999" stroke-width="0.5"/>
<text x="296.15" y="311.40" font-size="2.1" fill="#666" text-anchor="middle">105</text>
<text x="269.00" y="283.05" font-size="2.1" fill="#666" text-anchor="end">5</text>
<text x="271.30" y="281.50" font-size="2.8" font-weight="bold" fill="#333">2.58</text>
<text x="299.40" y="281.50" font-size="2.8" font-weight="bold" fill="#333" text-anchor="end">96.70</text>
<text x="271.30" y="307.30" font-size="2.8" font-weight="bold" fill="#333">0.71</text>
<text x="299.40" y="307.30" font-size="2.8" font-weight="bold" fill="#333" text-anchor="end">0.00</text>
<rect x="39.50" y="311.50" width="29.50" height="29.50" fill="none" stroke="#a8a8a8" stroke-width="0.8"/>
<line x1="39.50" y1="311.50" x2="39.50" y2="341.00" stroke="#6a6a6a" stroke-width="0.9"/>
<line x1="39.50" y1="341.00" x2="69.00" y2="341.00" stroke="#6a6a6a" stroke-width="0.9"/>
<line x1="51.80" y1="311.50" x2="51.80" y2="341.00" stroke="#a4a4a4" stroke-width="0.8"/>
<line x1="39.50" y1="326.50" x2="69.00" y2="326.50" stroke="#a4a4a4" stroke-width="0.8"/>
<line x1="38.30" y1="334.59" x2="39.50" y2="334.59" stroke="#999" stroke-width="0.5"/>
<line x1="45.91" y1="341.00" x2="45.91" y2="342.20" stroke="#999" stroke-width="0.5"/>
<text x="45.91" y="344.40" font-size="2.1" fill="#666" text-anchor="middle">102</text>
<text x="38.00" y="335.29" font-size="2.1" fill="#666" text-anchor="end">2</text>
<line x1="38.30" y1="328.17" x2="39.50" y2="328.17" stroke="#999" stroke-width="0.5"/>
<line x1="52.33" y1="341.00" x2="52.33" y2="342.20" stroke="#999" stroke-width="0.5"/>
<text x="52.33" y="344.40" font-size="2.1" fill="#666" text-anchor="middle">103</text>
<text x="38.00" y="328.87" font-size="2.1" fill="#666" text-anchor="end">3</text>
<line x1="38.30" y1="321.76" x2="39.50" y2="321.76" stroke="#999" stroke-width="0.5"/>
<line x1="58.74" y1="341.00" x2="58.74" y2="342.20" stroke="#999" stroke-width="0.5"/>
<text x="58.74" y="344.40" font-size="2.1" fill="#666" text-anchor="middle">104</text>
<text x="38.00" y="322.46" font-size="2.1" fill="#666" text-anchor="end">4</text>
<line x1="38.30" y1="315.35" x2="39.50" y2="315.35" stroke="#999" stroke-width="0.5"/>
<line x1="65.15" y1="341.00" x2="65.15" y2="342.20" stroke="#999" stroke-width="0.5"/>
<text x="65.15" y="344.40" font-size="2.1" fill="#666" text-anchor="middle">105</text>
<text x="38.00" y="316.05" font-size="2.1" fill="#666" text-anchor="end">5</text>
<text x="40.30" y="314.50" font-size="2.8" font-weight="bold" fill="#333">2.90</text>
<text x="68.40" y="314.50" font-size="2.8" font-weight="bold" fill="#333" text-anchor="end">0.03</text>
<text x="40.30" y="340.30" font-size="2.8" font-weight="bold" fill="#333">96.5</text>
<text x="68.40" y="340.30" font-size="2.8" font-weight="bold" fill="#333" text-anchor="end">1.17</text>
<rect x="72.50" y="311.50" width="29.50" height="29.50" fill="none" stroke="#a8a8a8" stroke-width="0.8"/>
<line x1="72.50" y1="311.50" x2="72.50" y2="341.00" stroke="#6a6a6a" stroke-width="0.9"/>
<line x1="72.50" y1="341.00" x2="102.00" y2="341.00" stroke="#6a6a6a" stroke-width="0.9"/>
<line x1="84.80" y1="311.50" x2="84.80" y2="341.00" stroke="#a4a4a4" stroke-width="0.8"/>
<line x1="72.50" y1="326.50" x2="102.00" y2="326.50" stroke="#a4a4a4" stroke-width="0.8"/>
<line x1="71.30" y1="334.59" x2="72.50" y2="334.59" stroke="#999" stroke-width="0.5"/>
<line x1="78.91" y1="341.00" x2="78.91" y2="342.20" stroke="#999" stroke-width="0.5"/>
<text x="78.91" y="344.40" font-size="2.1" fill="#666" text-anchor="middle">102</text>
<text x="71.00" y="335.29" font-size="2.1" fill="#666" text-anchor="end">2</text>
<line x1="71.30" y1="328.17" x2="72.50" y2="328.17" stroke="#999" stroke-width="0.5"/>
<line x1="85.33" y1="341.00" x2="85.33" y2="342.20" stroke="#999" stroke-width="0.5"/>
<text x="85.33" y="344.40" font-size="2.1" fill="#666" text-anchor="middle">103</text>
<text x="71.00" y="328.87" font-size="2.1" fill="#666" text-anchor="end">3</text>
<line x1="71.30" y1="321.76" x2="72.50" y2="321.76" stroke="#999" stroke-width="0.5"/>
<line x1="91.74" y1="341.00" x2="91.74" y2="342.20" stroke="#999" stroke-width="0.5"/>
<text x="91.74" y="344.40" font-size="2.1" fill="#666" text-anchor="middle">104</text>
<text x="71.00" y="322.46" font-size="2.1" fill="#666" text-anchor="end">4</text>
<line x1="71.30" y1="315.35" x2="72.50" y2="315.35" stroke="#999" stroke-width="0.5"/>
<line x1="98.15" y1="341.00" x2="98.15" y2="342.20" stroke="#999" stroke-width="0.5"/>
<text x="98.15" y="344.40" font-size="2.1" fill="#666" text-anchor="middle">105</text>
<text x="71.00" y="316.05" font-size="2.1" fill="#666" text-anchor="end">5</text>
<text x="73.30" y="314.50" font-size="2.8" font-weight="bold" fill="#333">0.12</text>
<text x="101.40" y="314.50" font-size="2.8" font-weight="bold" fill="#333" text-anchor="end">93.23</text>
<text x="73.30" y="340.30" font-size="2.8" font-weight="bold" fill="#333">4.27</text>
<text x="101.40" y="340.30" font-size="2.8" font-weight="bold" fill="#333" text-anchor="end">2.02</text>
<rect x="105.50" y="311.50" width="29.50" height="29.50" fill="none" stroke="#a8a8a8" stroke-width="0.8"/>
<line x1="105.50" y1="311.50" x2="105.50" y2="341.00" stroke="#6a6a6a" stroke-width="0.9"/>
<line x1="105.50" y1="341.00" x2="135.00" y2="341.00" stroke="#6a6a6a" stroke-width="0.9"/>
<line x1="117.80" y1="311.50" x2="117.80" y2="341.00" stroke="#a4a4a4" stroke-width="0.8"/>
<line x1="105.50" y1="326.50" x2="135.00" y2="326.50" stroke="#a4a4a4" stroke-width="0.8"/>
<line x1="104.30" y1="334.59" x2="105.50" y2="334.59" stroke="#999" stroke-width="0.5"/>
<line x1="111.91" y1="341.00" x2="111.91" y2="342.20" stroke="#999" stroke-width="0.5"/>
<text x="111.91" y="344.40" font-size="2.1" fill="#666" text-anchor="middle">102</text>
<text x="104.00" y="335.29" font-size="2.1" fill="#666" text-anchor="end">2</text>
<line x1="104.30" y1="328.17" x2="105.50" y2="328.17" stroke="#999" stroke-width="0.5"/>
<line x1="118.33" y1="341.00" x2="118.33" y2="342.20" stroke="#999" stroke-width="0.5"/>
<text x="118.33" y="344.40" font-size="2.1" fill="#666" text-anchor="middle">103</text>
<text x="104.00" y="328.87" font-size="2.1" fill="#666" text-anchor="end">3</text>
<line x1="104.30" y1="321.76" x2="105.50" y2="321.76" stroke="#999" stroke-width="0.5"/>
<line x1="124.74" y1="341.00" x2="124.74" y2="342.20" stroke="#999" stroke-width="0.5"/>
<text x="124.74" y="344.40" font-size="2.1" fill="#666" text-anchor="middle">104</text>
<text x="104.00" y="322.46" font-size="2.1" fill="#666" text-anchor="end">4</text>
<line x1="104.30" y1="315.35" x2="105.50" y2="315.35" stroke="#999" stroke-width="0.5"/>
<line x1="131.15" y1="341.00" x2="131.15" y2="342.20" stroke="#999" stroke-width="0.5"/>
<text x="131.15" y="344.40" font-size="2.1" fill="#666" text-anchor="middle">105</text>
<text x="104.00" y="316.05" font-size="2.1" fill="#666" text-anchor="end">5</text>
<text x="106.30" y="314.50" font-size="2.8" font-weight="bold" fill="#333">1.28</text>
<text x="134.40" y="314.50" font-size="2.8" font-weight="bold" fill="#333" text-anchor="end">92.75</text>
<text x="106.30" y="340.30" font-size="2.8" font-weight="bold" fill="#333">1.90</text>
<text x="134.40" y="340.30" font-size="2.8" font-weight="bold" fill="#333" text-anchor="end">3.03</text>
<rect x="138.50" y="311.50" width="29.50" height="29.50" fill="none" stroke="#a8a8a8" stroke-width="0.8"/>
<line x1="138.50" y1="311.50" x2="138.50" y2="341.00" stroke="#6a6a6a" stroke-width="0.9"/>
<line x1="138.50" y1="341.00" x2="168.00" y2="341.00" stroke="#6a6a6a" stroke-width="0.9"/>
<line x1="150.80" y1="311.50" x2="150.80" y2="341.00" stroke="#a4a4a4" stroke-width="0.8"/>
<line x1="138.50" y1="326.50" x2="168.00" y2="326.50" stroke="#a4a4a4" stroke-width="0.8"/>
<line x1="137.30" y1="334.59" x2="138.50" y2="334.59" stroke="#999" stroke-width="0.5"/>
<line x1="144.91" y1="341.00" x2="144.91" y2="342.20" stroke="#999" stroke-width="0.5"/>
<text x="144.91" y="344.40" font-size="2.1" fill="#666" text-anchor="middle">102</text>
<text x="137.00" y="335.29" font-size="2.1" fill="#666" text-anchor="end">2</text>
<line x1="137.30" y1="328.17" x2="138.50" y2="328.17" stroke="#999" stroke-width="0.5"/>
<line x1="151.33" y1="341.00" x2="151.33" y2="342.20" stroke="#999" stroke-width="0.5"/>
<text x="151.33" y="344.40" font-size="2.1" fill="#666" text-anchor="middle">103</text>
<text x="137.00" y="328.87" font-size="2.1" fill="#666" text-anchor="end">3</text>
<line x1="137.30" y1="321.76" x2="138.50" y2="321.76" stroke="#999" stroke-width="0.5"/>
<line x1="157.74" y1="341.00" x2="157.74" y2="342.20" stroke="#999" stroke-width="0.5"/>
<text x="157.74" y="344.40" font-size="2.1" fill="#666" text-anchor="middle">104</text>
<text x="137.00" y="322.46" font-size="2.1" fill="#666" text-anchor="end">4</text>
<line x1="137.30" y1="315.35" x2="138.50" y2="315.35" stroke="#999" stroke-width="0.5"/>
<line x1="164.15" y1="341.00" x2="164.15" y2="342.20" stroke="#999" stroke-width="0.5"/>
<text x="164.15" y="344.40" font-size="2.1" fill="#666" text-anchor="middle">105</text>
<text x="137.00" y="316.05" font-size="2.1" fill="#666" text-anchor="end">5</text>
<text x="139.30" y="314.50" font-size="2.8" font-weight="bold" fill="#333">0.80</text>
<text x="167.40" y="314.50" font-size="2.8" font-weight="bold" fill="#333" text-anchor="end">91.25</text>
<text x="139.30" y="340.30" font-size="2.8" font-weight="bold" fill="#333">3.60</text>
<text x="167.40" y="340.30" font-size="2.8" font-weight="bold" fill="#333" text-anchor="end">4.26</text>
<rect x="171.50" y="311.50" width="29.50" height="29.50" fill="none" stroke="#a8a8a8" stroke-width="0.8"/>
<line x1="171.50" y1="311.50" x2="171.50" y2="341.00" stroke="#6a6a6a" stroke-width="0.9"/>
<line x1="171.50" y1="341.00" x2="201.00" y2="341.00" stroke="#6a6a6a" stroke-width="0.9"/>
<line x1="183.80" y1="311.50" x2="183.80" y2="341.00" stroke="#a4a4a4" stroke-width="0.8"/>
<line x1="171.50" y1="326.50" x2="201.00" y2="326.50" stroke="#a4a4a4" stroke-width="0.8"/>
<line x1="170.30" y1="334.59" x2="171.50" y2="334.59" stroke="#999" stroke-width="0.5"/>
<line x1="177.91" y1="341.00" x2="177.91" y2="342.20" stroke="#999" stroke-width="0.5"/>
<text x="177.91" y="344.40" font-size="2.1" fill="#666" text-anchor="middle">102</text>
<text x="170.00" y="335.29" font-size="2.1" fill="#666" text-anchor="end">2</text>
<line x1="170.30" y1="328.17" x2="171.50" y2="328.17" stroke="#999" stroke-width="0.5"/>
<line x1="184.33" y1="341.00" x2="184.33" y2="342.20" stroke="#999" stroke-width="0.5"/>
<text x="184.33" y="344.40" font-size="2.1" fill="#666" text-anchor="middle">103</text>
<text x="170.00" y="328.87" font-size="2.1" fill="#666" text-anchor="end">3</text>
<line x1="170.30" y1="321.76" x2="171.50" y2="321.76" stroke="#999" stroke-width="0.5"/>
<line x1="190.74" y1="341.00" x2="190.74" y2="342.20" stroke="#999" stroke-width="0.5"/>
<text x="190.74" y="344.40" font-size="2.1" fill="#666" text-anchor="middle">104</text>
<text x="170.00" y="322.46" font-size="2.1" fill="#666" text-anchor="end">4</text>
<line x1="170.30" y1="315.35" x2="171.50" y2="315.35" stroke="#999" stroke-width="0.5"/>
<line x1="197.15" y1="341.00" x2="197.15" y2="342.20" stroke="#999" stroke-width="0.5"/>
<text x="197.15" y="344.40" font-size="2.1" fill="#666" text-anchor="middle">105</text>
<text x="170.00" y="316.05" font-size="2.1" fill="#666" text-anchor="end">5</text>
<text x="172.30" y="314.50" font-size="2.8" font-weight="bold" fill="#333">0.19</text>
<text x="200.40" y="314.50" font-size="2.8" font-weight="bold" fill="#333" text-anchor="end">95.33</text>
<text x="172.30" y="340.30" font-size="2.8" font-weight="bold" fill="#333">0.75</text>
<text x="200.40" y="340.30" font-size="2.8" font-weight="bold" fill="#333" text-anchor="end">3.73</text>
<rect x="204.50" y="311.50" width="29.50" height="29.50" fill="none" stroke="#a8a8a8" stroke-width="0.8"/>
<line x1="204.50" y1="311.50" x2="204.50" y2="341.00" stroke="#6a6a6a" stroke-width="0.9"/>
<line x1="204.50" y1="341.00" x2="234.00" y2="341.00" stroke="#6a6a6a" stroke-width="0.9"/>
<line x1="216.80" y1="311.50" x2="216.80" y2="341.00" stroke="#a4a4a4" stroke-width="0.8"/>
<line x1="204.50" y1="326.50" x2="234.00" y2="326.50" stroke="#a4a4a4" stroke-width="0.8"/>
<line x1="203.30" y1="334.59" x2="204.50" y2="334.59" stroke="#999" stroke-width="0.5"/>
<line x1="210.91" y1="341.00" x2="210.91" y2="342.20" stroke="#999" stroke-width="0.5"/>
<text x="210.91" y="344.40" font-size="2.1" fill="#666" text-anchor="middle">102</text>
<text x="203.00" y="335.29" font-size="2.1" fill="#666" text-anchor="end">2</text>
<line x1="203.30" y1="328.17" x2="204.50" y2="328.17" stroke="#999" stroke-width="0.5"/>
<line x1="217.33" y1="341.00" x2="217.33" y2="342.20" stroke="#999" stroke-width="0.5"/>
<text x="217.33" y="344.40" font-size="2.1" fill="#666" text-anchor="middle">103</text>
<text x="203.00" y="328.87" font-size="2.1" fill="#666" text-anchor="end">3</text>
<line x1="203.30" y1="321.76" x2="204.50" y2="321.76" stroke="#999" stroke-width="0.5"/>
<line x1="223.74" y1="341.00" x2="223.74" y2="342.20" stroke="#999" stroke-width="0.5"/>
<text x="223.74" y="344.40" font-size="2.1" fill="#666" text-anchor="middle">104</text>
<text x="203.00" y="322.46" font-size="2.1" fill="#666" text-anchor="end">4</text>
<line x1="203.30" y1="315.35" x2="204.50" y2="315.35" stroke="#999" stroke-width="0.5"/>
<line x1="230.15" y1="341.00" x2="230.15" y2="342.20" stroke="#999" stroke-width="0.5"/>
<text x="230.15" y="344.40" font-size="2.1" fill="#666" text-anchor="middle">105</text>
<text x="203.00" y="316.05" font-size="2.1" fill="#666" text-anchor="end">5</text>
<text x="205.30" y="314.50" font-size="2.8" font-weight="bold" fill="#333">0.70</text>
<text x="233.40" y="314.50" font-size="2.8" font-weight="bold" fill="#333" text-anchor="end">92.51</text>
<text x="205.30" y="340.30" font-size="2.8" font-weight="bold" fill="#333">1.10</text>
<text x="233.40" y="340.30" font-size="2.8" font-weight="bold" fill="#333" text-anchor="end">5.62</text>
<rect x="237.50" y="311.50" width="29.50" height="29.50" fill="none" stroke="#a8a8a8" stroke-width="0.8"/>
<line x1="237.50" y1="311.50" x2="237.50" y2="341.00" stroke="#6a6a6a" stroke-width="0.9"/>
<line x1="237.50" y1="341.00" x2="267.00" y2="341.00" stroke="#6a6a6a" stroke-width="0.9"/>
<line x1="249.80" y1="311.50" x2="249.80" y2="341.00" stroke="#a4a4a4" stroke-width="0.8"/>
<line x1="237.50" y1="326.50" x2="267.00" y2="326.50" stroke="#a4a4a4" stroke-width="0.8"/>
<line x1="236.30" y1="334.59" x2="237.50" y2="334.59" stroke="#999" stroke-width="0.5"/>
<line x1="243.91" y1="341.00" x2="243.91" y2="342.20" stroke="#999" stroke-width="0.5"/>
<text x="243.91" y="344.40" font-size="2.1" fill="#666" text-anchor="middle">102</text>
<text x="236.00" y="335.29" font-size="2.1" fill="#666" text-anchor="end">2</text>
<line x1="236.30" y1="328.17" x2="237.50" y2="328.17" stroke="#999" stroke-width="0.5"/>
<line x1="250.33" y1="341.00" x2="250.33" y2="342.20" stroke="#999" stroke-width="0.5"/>
<text x="250.33" y="344.40" font-size="2.1" fill="#666" text-anchor="middle">103</text>
<text x="236.00" y="328.87" font-size="2.1" fill="#666" text-anchor="end">3</text>
<line x1="236.30" y1="321.76" x2="237.50" y2="321.76" stroke="#999" stroke-width="0.5"/>
<line x1="256.74" y1="341.00" x2="256.74" y2="342.20" stroke="#999" stroke-width="0.5"/>
<text x="256.74" y="344.40" font-size="2.1" fill="#666" text-anchor="middle">104</text>
<text x="236.00" y="322.46" font-size="2.1" fill="#666" text-anchor="end">4</text>
<line x1="236.30" y1="315.35" x2="237.50" y2="315.35" stroke="#999" stroke-width="0.5"/>
<line x1="263.15" y1="341.00" x2="263.15" y2="342.20" stroke="#999" stroke-width="0.5"/>
<text x="263.15" y="344.40" font-size="2.1" fill="#666" text-anchor="middle">105</text>
<text x="236.00" y="316.05" font-size="2.1" fill="#666" text-anchor="end">5</text>
<text x="238.30" y="314.50" font-size="2.8" font-weight="bold" fill="#333">0.86</text>
<text x="266.40" y="314.50" font-size="2.8" font-weight="bold" fill="#333" text-anchor="end">93.05</text>
<text x="238.30" y="340.30" font-size="2.8" font-weight="bold" fill="#333">0.11</text>
<text x="266.40" y="340.30" font-size="2.8" font-weight="bold" fill="#333" text-anchor="end">4.95</text>
<rect x="270.50" y="311.50" width="29.50" height="29.50" fill="none" stroke="#a8a8a8" stroke-width="0.8"/>
<line x1="270.50" y1="311.50" x2="270.50" y2="341.00" stroke="#6a6a6a" stroke-width="0.9"/>
<line x1="270.50" y1="341.00" x2="300.00" y2="341.00" stroke="#6a6a6a" stroke-width="0.9"/>
<line x1="282.80" y1="311.50" x2="282.80" y2="341.00" stroke="#a4a4a4" stroke-width="0.8"/>
<line x1="270.50" y1="326.50" x2="300.00" y2="326.50" stroke="#a4a4a4" stroke-width="0.8"/>
<line x1="269.30" y1="334.59" x2="270.50" y2="334.59" stroke="#999" stroke-width="0.5"/>
<line x1="276.91" y1="341.00" x2="276.91" y2="342.20" stroke="#999" stroke-width="0.5"/>
<text x="276.91" y="344.40" font-size="2.1" fill="#666" text-anchor="middle">102</text>
<text x="269.00" y="335.29" font-size="2.1" fill="#666" text-anchor="end">2</text>
<line x1="269.30" y1="328.17" x2="270.50" y2="328.17" stroke="#999" stroke-width="0.5"/>
<line x1="283.33" y1="341.00" x2="283.33" y2="342.20" stroke="#999" stroke-width="0.5"/>
<text x="283.33" y="344.40" font-size="2.1" fill="#666" text-anchor="middle">103</text>
<text x="269.00" y="328.87" font-size="2.1" fill="#666" text-anchor="end">3</text>
<line x1="269.30" y1="321.76" x2="270.50" y2="321.76" stroke="#999" stroke-width="0.5"/>
<line x1="289.74" y1="341.00" x2="289.74" y2="342.20" stroke="#999" stroke-width="0.5"/>
<text x="289.74" y="344.40" font-size="2.1" fill="#666" text-anchor="middle">104</text>
<text x="269.00" y="322.46" font-size="2.1" fill="#666" text-anchor="end">4</text>
<line x1="269.30" y1="315.35" x2="270.50" y2="315.35" stroke="#999" stroke-width="0.5"/>
<line x1="296.15" y1="341.00" x2="296.15" y2="342.20" stroke="#999" stroke-width="0.5"/>
<text x="296.15" y="344.40" font-size="2.1" fill="#666" text-anchor="middle">105</text>
<text x="269.00" y="316.05" font-size="2.1" fill="#666" text-anchor="end">5</text>
<text x="271.30" y="314.50" font-size="2.8" font-weight="bold" fill="#333">0.63</text>
<text x="299.40" y="314.50" font-size="2.8" font-weight="bold" fill="#333" text-anchor="end">91.75</text>
<text x="271.30" y="340.30" font-size="2.8" font-weight="bold" fill="#333">2.40</text>
<text x="299.40" y="340.30" font-size="2.8" font-weight="bold" fill="#333" text-anchor="end">1.60</text>
<path d="M42.18,305.23 L45.89,301.28 L43.71,299.52 L40.62,303.97 Z" fill="#9a9a9a" opacity="0.8"/>
<circle cx="41.40" cy="304.60" r="1.00" fill="#9a9a9a" opacity="0.8"/>
<circle cx="44.80" cy="300.40" r="1.40" fill="#9a9a9a" opacity="0.8"/>
<path d="M46.09,301.61 L49.24,296.44 L46.76,294.76 L43.11,299.59 Z" fill="#000" opacity="1.0"/>
<circle cx="44.60" cy="300.60" r="1.80" fill="#000" opacity="1.0"/>
<circle cx="48.00" cy="295.60" r="1.50" fill="#000" opacity="1.0"/>
<path d="M49.03,296.66 L52.53,290.17 L51.47,289.43 L46.57,294.94 Z" fill="#000" opacity="1.0"/>
<circle cx="47.80" cy="295.80" r="1.50" fill="#000" opacity="1.0"/>
<circle cx="52.00" cy="289.80" r="0.65" fill="#000" opacity="1.0"/>
<path d="M43.11,289.49 L42.06,293.88 L43.14,294.12 L44.09,289.71 Z" fill="#222" opacity="1.0"/>
<circle cx="43.60" cy="289.60" r="0.50" fill="#222" opacity="1.0"/>
<circle cx="42.60" cy="294.00" r="0.55" fill="#222" opacity="1.0"/>
<ellipse cx="84.00" cy="298.20" rx="3.80" ry="2.20" fill="#000" opacity="1.0" transform="rotate(-18 84.00 298.20)"/>
<path d="M86.20,292.40 L87.00,290.60 L88.40,288.40" fill="none" stroke="#000" stroke-width="2.6" stroke-linecap="round" stroke-linejoin="round" opacity="1.0"/>
<ellipse cx="80.20" cy="302.60" rx="0.60" ry="0.50" fill="#333" opacity="1.0" transform="rotate(0 80.20 302.60)"/>
<path d="M118.20,293.00 L120.50,290.00 L122.80,287.60" fill="none" stroke="#000" stroke-width="3.2" stroke-linecap="round" stroke-linejoin="round" opacity="1.0"/>
<ellipse cx="147.00" cy="299.60" rx="1.60" ry="1.20" fill="#aaa" opacity="0.7" transform="rotate(0 147.00 299.60)"/>
<path d="M150.90,299.40 L152.20,295.50 L153.60,292.50 L155.20,288.60" fill="none" stroke="#000" stroke-width="3.0" stroke-linecap="round" stroke-linejoin="round" opacity="1.0"/>
<ellipse cx="179.50" cy="301.50" rx="1.60" ry="1.20" fill="#aaa" opacity="0.7" transform="rotate(0 179.50 301.50)"/>
<path d="M182.20,301.20 L184.20,297.50 L186.60,292.80 L188.60,289.20" fill="none" stroke="#000" stroke-width="3.1" stroke-linecap="round" stroke-linejoin="round" opacity="1.0"/>
<ellipse cx="183.00" cy="300.50" rx="2.20" ry="1.80" fill="#000" opacity="1.0" transform="rotate(-20 183.00 300.50)"/>
<ellipse cx="216.00" cy="300.90" rx="3.00" ry="1.90" fill="#000" opacity="1.0" transform="rotate(-10 216.00 300.90)"/>
<path d="M216.80,299.40 L218.30,294.00 L220.20,289.00" fill="none" stroke="#000" stroke-width="2.5" stroke-linecap="round" stroke-linejoin="round" opacity="1.0"/>
<path d="M249.20,300.00 L251.00,296.00" fill="none" stroke="#555" stroke-width="2.8" stroke-linecap="round" stroke-linejoin="round" opacity="0.8"/>
<path d="M250.60,297.00 L252.60,292.50 L254.40,289.00" fill="none" stroke="#000" stroke-width="3.4" stroke-linecap="round" stroke-linejoin="round" opacity="1.0"/>
<ellipse cx="244.50" cy="300.50" rx="1.50" ry="1.10" fill="#bbb" opacity="0.7" transform="rotate(0 244.50 300.50)"/>
<ellipse cx="285.00" cy="291.40" rx="2.70" ry="1.70" fill="#000" opacity="1.0" transform="rotate(-35 285.00 291.40)"/>
<path d="M42.42,338.98 L46.14,334.41 L43.86,332.79 L40.78,337.82 Z" fill="#9a9a9a" opacity="0.8"/>
<circle cx="41.60" cy="338.40" r="1.00" fill="#9a9a9a" opacity="0.8"/>
<circle cx="45.00" cy="333.60" r="1.40" fill="#9a9a9a" opacity="0.8"/>
<path d="M46.36,334.88 L49.72,329.51 L47.08,327.69 L43.24,332.72 Z" fill="#000" opacity="1.0"/>
<circle cx="44.80" cy="333.80" r="1.90" fill="#000" opacity="1.0"/>
<circle cx="48.40" cy="328.60" r="1.60" fill="#000" opacity="1.0"/>
<path d="M49.47,329.78 L52.75,324.03 L51.65,323.17 L46.93,327.82 Z" fill="#000" opacity="1.0"/>
<circle cx="48.20" cy="328.80" r="1.60" fill="#000" opacity="1.0"/>
<circle cx="52.20" cy="323.60" r="0.70" fill="#000" opacity="1.0"/>
<ellipse cx="89.40" cy="322.40" rx="2.70" ry="1.60" fill="#000" opacity="1.0" transform="rotate(-35 89.40 322.40)"/>
<ellipse cx="120.20" cy="323.00" rx="3.10" ry="1.70" fill="#000" opacity="1.0" transform="rotate(-30 120.20 323.00)"/>
<ellipse cx="155.00" cy="322.40" rx="2.50" ry="1.70" fill="#000" opacity="1.0" transform="rotate(-35 155.00 322.40)"/>
<ellipse cx="187.20" cy="323.00" rx="2.60" ry="1.50" fill="#000" opacity="1.0" transform="rotate(-45 187.20 323.00)"/>
<path d="M219.80,325.00 L221.80,322.40 L223.60,319.80" fill="none" stroke="#000" stroke-width="2.9" stroke-linecap="round" stroke-linejoin="round" opacity="1.0"/>
<ellipse cx="253.60" cy="322.60" rx="2.80" ry="1.60" fill="#000" opacity="1.0" transform="rotate(-40 253.60 322.60)"/>
<ellipse cx="284.80" cy="322.20" rx="2.80" ry="1.80" fill="#000" opacity="1.0" transform="rotate(-30 284.80 322.20)"/>
<ellipse cx="113.50" cy="333.00" rx="1.00" ry="0.80" fill="#bbb" opacity="0.7" transform="rotate(0 113.50 333.00)"/>
<ellipse cx="218.00" cy="334.00" rx="1.00" ry="0.80" fill="#bbb" opacity="0.7" transform="rotate(0 218.00 334.00)"/>
<text x="14.8" y="318.6" font-size="6.6" fill="#222" textLength="17.4" lengthAdjust="spacingAndGlyphs">αIL-10</text>
<text x="14.8" y="325.8" font-size="6.6" fill="#222" textLength="21.0" lengthAdjust="spacingAndGlyphs">αIL-10R</text>
<path d="M29.1,346.2 L29.1,330.5 M29.1,346.2 L40,346.2" stroke="#000" stroke-width="1.1" fill="none"/>
<path d="M27.1,331.5 L29.1,327.6 L31.1,331.5 Z" fill="#000"/>
<path d="M39.2,344.2 L43.0,346.2 L39.2,348.2 Z" fill="#000"/>
<text x="25.80" y="337.90" font-size="5.6" font-weight="bold" text-anchor="middle" fill="#000" transform="rotate(-90 25.80 337.90)">CD86</text>
<text x="38.00" y="353.60" font-size="5.6" font-weight="bold" text-anchor="middle" fill="#000">CD80</text>
<text x="377.40" y="273.20" font-size="6.8" font-weight="bold" text-anchor="middle" fill="#000">PDL-1</text>
<rect x="309.70" y="278.20" width="32.40" height="30.90" fill="none" stroke="#bdbdbd" stroke-width="0.8"/>
<path d="M310.20,308.11 L310.46,307.95 L310.72,307.73 L310.99,307.43 L311.25,307.03 L311.51,306.52 L311.77,305.87 L312.03,305.07 L312.29,304.10 L312.56,302.96 L312.82,301.63 L313.08,300.12 L313.34,298.45 L313.60,296.65 L313.86,294.76 L314.12,292.83 L314.39,290.92 L314.65,289.11 L314.91,287.50 L315.17,286.22 L315.43,285.38 L315.69,285.08 L315.96,285.38 L316.22,286.27 L316.48,287.64 L316.74,289.34 L317.00,291.25 L317.26,293.26 L317.53,295.27 L317.79,297.22 L318.05,299.06 L318.31,300.73 L318.57,302.23 L318.83,303.53 L319.10,304.64 L319.36,305.55 L319.62,306.29 L319.88,306.87 L320.14,307.32 L320.40,307.66 L320.67,307.91 L320.93,308.09 L321.19,308.22 L321.45,308.31 L321.71,308.37 L321.97,308.41 L322.24,308.44 L322.50,308.46 L322.76,308.47 L323.02,308.48 L323.28,308.48 L323.54,308.48 L323.81,308.49 L324.07,308.49 L324.33,308.49 L324.59,308.49 L324.85,308.49 L325.11,308.49 L325.38,308.49 L325.64,308.49 L325.90,308.49 L326.16,308.50 L326.42,308.50 L326.69,308.50 L326.95,308.50 L327.21,308.50 L327.47,308.50 L327.73,308.50 L327.99,308.50 L328.25,308.50 L328.52,308.50 L328.78,308.50 L329.04,308.50 L329.30,308.50 L329.56,308.50 L329.82,308.50 L330.09,308.50 L330.35,308.50 L330.61,308.50 L330.87,308.50 L331.13,308.50 L331.39,308.50 L331.66,308.50 L331.92,308.50 L332.18,308.50 L332.44,308.50 L332.70,308.50 L332.96,308.50 L333.23,308.50 L333.49,308.50 L333.75,308.50 L334.01,308.50 L334.27,308.50 L334.53,308.50 L334.80,308.50 L335.06,308.50 L335.32,308.50 L335.58,308.50 L335.84,308.50 L336.10,308.50 L336.37,308.50 L336.63,308.50 L336.89,308.50 L337.15,308.50 L337.41,308.50 L337.67,308.50 L337.94,308.50 L338.20,308.50 L338.46,308.50 L338.72,308.50 L338.98,308.50 L339.24,308.50 L339.51,308.50 L339.77,308.50 L340.03,308.50 L340.29,308.50 L340.55,308.50 L340.81,308.50 L341.08,308.50 L341.34,308.50 L341.60,308.50" fill="none" stroke="#8a8a8a" stroke-width="0.75"/>
<path d="M310.20,308.50 L310.46,308.50 L310.72,308.50 L310.99,308.50 L311.25,308.50 L311.51,308.50 L311.77,308.50 L312.03,308.50 L312.29,308.50 L312.56,308.50 L312.82,308.50 L313.08,308.50 L313.34,308.50 L313.60,308.50 L313.86,308.50 L314.12,308.49 L314.39,308.49 L314.65,308.48 L314.91,308.47 L315.17,308.46 L315.43,308.44 L315.69,308.41 L315.96,308.37 L316.22,308.32 L316.48,308.24 L316.74,308.14 L317.00,308.00 L317.26,307.82 L317.53,307.58 L317.79,307.28 L318.05,306.90 L318.31,306.43 L318.57,305.86 L318.83,305.17 L319.10,304.35 L319.36,303.40 L319.62,302.31 L319.88,301.08 L320.14,299.73 L320.40,298.26 L320.67,296.70 L320.93,295.08 L321.19,293.44 L321.45,291.81 L321.71,290.23 L321.97,288.77 L322.24,287.47 L322.50,286.37 L322.76,285.51 L323.02,284.92 L323.28,284.63 L323.54,284.65 L323.81,285.00 L324.07,285.68 L324.33,286.64 L324.59,287.86 L324.85,289.29 L325.11,290.86 L325.38,292.54 L325.64,294.26 L325.90,295.97 L326.16,297.63 L326.42,299.20 L326.69,300.66 L326.95,301.98 L327.21,303.16 L327.47,304.18 L327.73,305.06 L327.99,305.80 L328.25,306.41 L328.52,306.90 L328.78,307.30 L329.04,307.61 L329.30,307.85 L329.56,308.03 L329.82,308.16 L330.09,308.26 L330.35,308.34 L330.61,308.39 L330.87,308.43 L331.13,308.45 L331.39,308.47 L331.66,308.48 L331.92,308.49 L332.18,308.49 L332.44,308.49 L332.70,308.50 L332.96,308.50 L333.23,308.50 L333.49,308.50 L333.75,308.50 L334.01,308.50 L334.27,308.50 L334.53,308.50 L334.80,308.50 L335.06,308.50 L335.32,308.50 L335.58,308.50 L335.84,308.50 L336.10,308.50 L336.37,308.50 L336.63,308.50 L336.89,308.50 L337.15,308.50 L337.41,308.50 L337.67,308.50 L337.94,308.50 L338.20,308.50 L338.46,308.50 L338.72,308.50 L338.98,308.50 L339.24,308.50 L339.51,308.50 L339.77,308.50 L340.03,308.50 L340.29,308.50 L340.55,308.50 L340.81,308.50 L341.08,308.50 L341.34,308.50 L341.60,308.50 L341.60,308.50 L310.20,308.50 Z" fill="#a4a4a4" stroke="none"/>
<path d="M310.20,308.50 L310.46,308.50 L310.72,308.50 L310.99,308.50 L311.25,308.50 L311.51,308.50 L311.77,308.50 L312.03,308.50 L312.29,308.50 L312.56,308.50 L312.82,308.50 L313.08,308.50 L313.34,308.50 L313.60,308.50 L313.86,308.50 L314.12,308.50 L314.39,308.50 L314.65,308.49 L314.91,308.49 L315.17,308.48 L315.43,308.47 L315.69,308.46 L315.96,308.43 L316.22,308.40 L316.48,308.35 L316.74,308.28 L317.00,308.18 L317.26,308.04 L317.53,307.85 L317.79,307.60 L318.05,307.28 L318.31,306.86 L318.57,306.33 L318.83,305.68 L319.10,304.89 L319.36,303.95 L319.62,302.84 L319.88,301.58 L320.14,300.16 L320.40,298.61 L320.67,296.94 L320.93,295.20 L321.19,293.43 L321.45,291.68 L321.71,290.01 L321.97,288.49 L322.24,287.17 L322.50,286.10 L322.76,285.35 L323.02,284.92 L323.28,284.86 L323.54,285.13 L323.81,285.72 L324.07,286.61 L324.33,287.76 L324.59,289.13 L324.85,290.66 L325.11,292.30 L325.38,294.00 L325.64,295.70 L325.90,297.36 L326.16,298.94 L326.42,300.41 L326.69,301.75 L326.95,302.95 L327.21,304.00 L327.47,304.90 L327.73,305.66 L327.99,306.30 L328.25,306.81 L328.52,307.22 L328.78,307.55 L329.04,307.80 L329.30,307.99 L329.56,308.14 L329.82,308.25 L330.09,308.32 L330.35,308.38 L330.61,308.42 L330.87,308.45 L331.13,308.46 L331.39,308.48 L331.66,308.49 L331.92,308.49 L332.18,308.49 L332.44,308.50 L332.70,308.50 L332.96,308.50 L333.23,308.50 L333.49,308.50 L333.75,308.50 L334.01,308.50 L334.27,308.50 L334.53,308.50 L334.80,308.50 L335.06,308.50 L335.32,308.50 L335.58,308.50 L335.84,308.50 L336.10,308.50 L336.37,308.50 L336.63,308.50 L336.89,308.50 L337.15,308.50 L337.41,308.50 L337.67,308.50 L337.94,308.50 L338.20,308.50 L338.46,308.50 L338.72,308.50 L338.98,308.50 L339.24,308.50 L339.51,308.50 L339.77,308.50 L340.03,308.50 L340.29,308.50 L340.55,308.50 L340.81,308.50 L341.08,308.50 L341.34,308.50 L341.60,308.50" fill="none" stroke="#111" stroke-width="0.8"/>
<path d="M310.20,308.50 L310.46,308.50 L310.72,308.50 L310.99,308.50 L311.25,308.50 L311.51,308.50 L311.77,308.50 L312.03,308.50 L312.29,308.50 L312.56,308.50 L312.82,308.50 L313.08,308.50 L313.34,308.50 L313.60,308.50 L313.86,308.50 L314.12,308.50 L314.39,308.50 L314.65,308.50 L314.91,308.49 L315.17,308.49 L315.43,308.48 L315.69,308.47 L315.96,308.46 L316.22,308.44 L316.48,308.41 L316.74,308.36 L317.00,308.30 L317.26,308.22 L317.53,308.11 L317.79,307.97 L318.05,307.78 L318.31,307.53 L318.57,307.22 L318.83,306.83 L319.10,306.35 L319.36,305.76 L319.62,305.06 L319.88,304.23 L320.14,303.28 L320.40,302.19 L320.67,300.97 L320.93,299.63 L321.19,298.19 L321.45,296.68 L321.71,295.11 L321.97,293.53 L322.24,291.97 L322.50,290.50 L322.76,289.14 L323.02,287.94 L323.28,286.96 L323.54,286.21 L323.81,285.74 L324.07,285.56 L324.33,285.60 L324.59,285.78 L324.85,286.08 L325.11,286.49 L325.38,287.02 L325.64,287.65 L325.90,288.37 L326.16,289.17 L326.42,290.05 L326.69,290.98 L326.95,291.96 L327.21,292.96 L327.47,293.99 L327.73,295.03 L327.99,296.05 L328.25,297.07 L328.52,298.06 L328.78,299.01 L329.04,299.93 L329.30,300.80 L329.56,301.62 L329.82,302.39 L330.09,303.10 L330.35,303.75 L330.61,304.35 L330.87,304.89 L331.13,305.38 L331.39,305.82 L331.66,306.21 L331.92,306.55 L332.18,306.85 L332.44,307.12 L332.70,307.34 L332.96,307.54 L333.23,307.70 L333.49,307.85 L333.75,307.96 L334.01,308.06 L334.27,308.15 L334.53,308.22 L334.80,308.27 L335.06,308.32 L335.32,308.36 L335.58,308.39 L335.84,308.41 L336.10,308.43 L336.37,308.45 L336.63,308.46 L336.89,308.47 L337.15,308.48 L337.41,308.48 L337.67,308.49 L337.94,308.49 L338.20,308.49 L338.46,308.49 L338.72,308.50 L338.98,308.50 L339.24,308.50 L339.51,308.50 L339.77,308.50 L340.03,308.50 L340.29,308.50 L340.55,308.50 L340.81,308.50 L341.08,308.50 L341.34,308.50 L341.60,308.50" fill="none" stroke="#000" stroke-width="0.8" stroke-dasharray="0.8,0.8"/>
<circle cx="323.40" cy="284.90" r="0.9" fill="#000"/>
<line x1="308.80" y1="308.50" x2="309.70" y2="308.50" stroke="#777" stroke-width="0.5"/>
<text x="308.60" y="309.30" font-size="2.3" fill="#555" text-anchor="end">0</text>
<line x1="308.80" y1="302.88" x2="309.70" y2="302.88" stroke="#777" stroke-width="0.5"/>
<text x="308.60" y="303.68" font-size="2.3" fill="#555" text-anchor="end">20</text>
<line x1="308.80" y1="297.25" x2="309.70" y2="297.25" stroke="#777" stroke-width="0.5"/>
<text x="308.60" y="298.05" font-size="2.3" fill="#555" text-anchor="end">40</text>
<line x1="308.80" y1="291.63" x2="309.70" y2="291.63" stroke="#777" stroke-width="0.5"/>
<text x="308.60" y="292.43" font-size="2.3" fill="#555" text-anchor="end">60</text>
<line x1="308.80" y1="286.01" x2="309.70" y2="286.01" stroke="#777" stroke-width="0.5"/>
<text x="308.60" y="286.81" font-size="2.3" fill="#555" text-anchor="end">80</text>
<line x1="308.80" y1="280.38" x2="309.70" y2="280.38" stroke="#777" stroke-width="0.5"/>
<text x="308.60" y="281.18" font-size="2.3" fill="#555" text-anchor="end">100</text>
<text x="324.30" y="282.90" font-size="4.1" font-weight="bold" text-anchor="middle" fill="#111" font-family="Liberation Serif">Immature</text>
<rect x="346.30" y="278.20" width="32.40" height="30.90" fill="none" stroke="#bdbdbd" stroke-width="0.8"/>
<path d="M346.80,308.27 L347.06,308.17 L347.32,308.02 L347.59,307.83 L347.85,307.56 L348.11,307.20 L348.37,306.73 L348.63,306.14 L348.89,305.39 L349.16,304.48 L349.42,303.38 L349.68,302.09 L349.94,300.62 L350.20,298.97 L350.46,297.16 L350.73,295.24 L350.99,293.24 L351.25,291.23 L351.51,289.27 L351.77,287.48 L352.03,285.94 L352.30,284.81 L352.56,284.19 L352.82,284.17 L353.08,284.78 L353.34,285.96 L353.60,287.57 L353.87,289.46 L354.13,291.51 L354.39,293.61 L354.65,295.69 L354.91,297.67 L355.17,299.51 L355.44,301.17 L355.70,302.63 L355.96,303.89 L356.22,304.95 L356.48,305.81 L356.74,306.50 L357.00,307.04 L357.27,307.45 L357.53,307.76 L357.79,307.98 L358.05,308.14 L358.31,308.25 L358.57,308.33 L358.84,308.39 L359.10,308.42 L359.36,308.44 L359.62,308.46 L359.88,308.47 L360.14,308.48 L360.41,308.48 L360.67,308.48 L360.93,308.49 L361.19,308.49 L361.45,308.49 L361.71,308.49 L361.98,308.49 L362.24,308.49 L362.50,308.49 L362.76,308.49 L363.02,308.49 L363.29,308.50 L363.55,308.50 L363.81,308.50 L364.07,308.50 L364.33,308.50 L364.59,308.50 L364.86,308.50 L365.12,308.50 L365.38,308.50 L365.64,308.50 L365.90,308.50 L366.16,308.50 L366.43,308.50 L366.69,308.50 L366.95,308.50 L367.21,308.50 L367.47,308.50 L367.73,308.50 L368.00,308.50 L368.26,308.50 L368.52,308.50 L368.78,308.50 L369.04,308.50 L369.30,308.50 L369.56,308.50 L369.83,308.50 L370.09,308.50 L370.35,308.50 L370.61,308.50 L370.87,308.50 L371.13,308.50 L371.40,308.50 L371.66,308.50 L371.92,308.50 L372.18,308.50 L372.44,308.50 L372.70,308.50 L372.97,308.50 L373.23,308.50 L373.49,308.50 L373.75,308.50 L374.01,308.50 L374.27,308.50 L374.54,308.50 L374.80,308.50 L375.06,308.50 L375.32,308.50 L375.58,308.50 L375.84,308.50 L376.11,308.50 L376.37,308.50 L376.63,308.50 L376.89,308.50 L377.15,308.50 L377.41,308.50 L377.68,308.50 L377.94,308.50 L378.20,308.50" fill="none" stroke="#8a8a8a" stroke-width="0.75"/>
<path d="M346.80,308.50 L347.06,308.50 L347.32,308.50 L347.59,308.50 L347.85,308.50 L348.11,308.50 L348.37,308.50 L348.63,308.50 L348.89,308.50 L349.16,308.50 L349.42,308.50 L349.68,308.50 L349.94,308.50 L350.20,308.50 L350.46,308.50 L350.73,308.50 L350.99,308.50 L351.25,308.50 L351.51,308.50 L351.77,308.50 L352.03,308.50 L352.30,308.50 L352.56,308.50 L352.82,308.50 L353.08,308.50 L353.34,308.50 L353.60,308.50 L353.87,308.49 L354.13,308.49 L354.39,308.49 L354.65,308.48 L354.91,308.47 L355.17,308.46 L355.44,308.45 L355.70,308.43 L355.96,308.40 L356.22,308.37 L356.48,308.32 L356.74,308.27 L357.00,308.19 L357.27,308.10 L357.53,307.98 L357.79,307.84 L358.05,307.66 L358.31,307.44 L358.57,307.18 L358.84,306.86 L359.10,306.48 L359.36,306.04 L359.62,305.53 L359.88,304.93 L360.14,304.26 L360.41,303.49 L360.67,302.64 L360.93,301.69 L361.19,300.66 L361.45,299.54 L361.71,298.35 L361.98,297.09 L362.24,295.78 L362.50,294.44 L362.76,293.08 L363.02,291.72 L363.29,290.39 L363.55,289.12 L363.81,287.93 L364.07,286.84 L364.33,285.87 L364.59,285.06 L364.86,284.41 L365.12,283.94 L365.38,283.67 L365.64,283.61 L365.90,283.95 L366.16,284.79 L366.43,286.08 L366.69,287.75 L366.95,289.69 L367.21,291.81 L367.47,294.00 L367.73,296.16 L368.00,298.23 L368.26,300.12 L368.52,301.81 L368.78,303.27 L369.04,304.50 L369.30,305.50 L369.56,306.30 L369.83,306.92 L370.09,307.39 L370.35,307.73 L370.61,307.98 L370.87,308.16 L371.13,308.28 L371.40,308.36 L371.66,308.41 L371.92,308.45 L372.18,308.47 L372.44,308.48 L372.70,308.49 L372.97,308.49 L373.23,308.50 L373.49,308.50 L373.75,308.50 L374.01,308.50 L374.27,308.50 L374.54,308.50 L374.80,308.50 L375.06,308.50 L375.32,308.50 L375.58,308.50 L375.84,308.50 L376.11,308.50 L376.37,308.50 L376.63,308.50 L376.89,308.50 L377.15,308.50 L377.41,308.50 L377.68,308.50 L377.94,308.50 L378.20,308.50 L378.20,308.50 L346.80,308.50 Z" fill="#a4a4a4" stroke="none"/>
<path d="M346.80,308.50 L347.06,308.50 L347.32,308.50 L347.59,308.50 L347.85,308.50 L348.11,308.50 L348.37,308.50 L348.63,308.50 L348.89,308.50 L349.16,308.50 L349.42,308.50 L349.68,308.50 L349.94,308.50 L350.20,308.50 L350.46,308.50 L350.73,308.50 L350.99,308.50 L351.25,308.50 L351.51,308.50 L351.77,308.50 L352.03,308.50 L352.30,308.50 L352.56,308.50 L352.82,308.50 L353.08,308.50 L353.34,308.50 L353.60,308.50 L353.87,308.50 L354.13,308.50 L354.39,308.50 L354.65,308.49 L354.91,308.49 L355.17,308.48 L355.44,308.48 L355.70,308.47 L355.96,308.45 L356.22,308.43 L356.48,308.41 L356.74,308.37 L357.00,308.33 L357.27,308.26 L357.53,308.18 L357.79,308.08 L358.05,307.94 L358.31,307.78 L358.57,307.56 L358.84,307.30 L359.10,306.98 L359.36,306.60 L359.62,306.14 L359.88,305.59 L360.14,304.96 L360.41,304.22 L360.67,303.38 L360.93,302.44 L361.19,301.39 L361.45,300.25 L361.71,299.00 L361.98,297.68 L362.24,296.28 L362.50,294.85 L362.76,293.38 L363.02,291.92 L363.29,290.50 L363.55,289.13 L363.81,287.87 L364.07,286.73 L364.33,285.75 L364.59,284.95 L364.86,284.36 L365.12,283.99 L365.38,283.85 L365.64,284.07 L365.90,284.79 L366.16,285.97 L366.43,287.54 L366.69,289.41 L366.95,291.47 L367.21,293.63 L367.47,295.79 L367.73,297.86 L368.00,299.78 L368.26,301.50 L368.52,303.00 L368.78,304.27 L369.04,305.32 L369.30,306.15 L369.56,306.80 L369.83,307.30 L370.09,307.67 L370.35,307.94 L370.61,308.13 L370.87,308.26 L371.13,308.35 L371.40,308.40 L371.66,308.44 L371.92,308.47 L372.18,308.48 L372.44,308.49 L372.70,308.49 L372.97,308.50 L373.23,308.50 L373.49,308.50 L373.75,308.50 L374.01,308.50 L374.27,308.50 L374.54,308.50 L374.80,308.50 L375.06,308.50 L375.32,308.50 L375.58,308.50 L375.84,308.50 L376.11,308.50 L376.37,308.50 L376.63,308.50 L376.89,308.50 L377.15,308.50 L377.41,308.50 L377.68,308.50 L377.94,308.50 L378.20,308.50" fill="none" stroke="#111" stroke-width="0.8"/>
<path d="M346.80,308.50 L347.06,308.50 L347.32,308.50 L347.59,308.50 L347.85,308.50 L348.11,308.50 L348.37,308.50 L348.63,308.50 L348.89,308.50 L349.16,308.50 L349.42,308.50 L349.68,308.50 L349.94,308.50 L350.20,308.50 L350.46,308.50 L350.73,308.50 L350.99,308.50 L351.25,308.50 L351.51,308.50 L351.77,308.50 L352.03,308.50 L352.30,308.50 L352.56,308.50 L352.82,308.50 L353.08,308.50 L353.34,308.50 L353.60,308.50 L353.87,308.50 L354.13,308.50 L354.39,308.49 L354.65,308.49 L354.91,308.49 L355.17,308.48 L355.44,308.48 L355.70,308.47 L355.96,308.46 L356.22,308.44 L356.48,308.42 L356.74,308.40 L357.00,308.36 L357.27,308.31 L357.53,308.25 L357.79,308.18 L358.05,308.08 L358.31,307.96 L358.57,307.81 L358.84,307.63 L359.10,307.41 L359.36,307.14 L359.62,306.81 L359.88,306.43 L360.14,305.99 L360.41,305.47 L360.67,304.87 L360.93,304.20 L361.19,303.43 L361.45,302.59 L361.71,301.65 L361.98,300.63 L362.24,299.54 L362.50,298.37 L362.76,297.14 L363.02,295.87 L363.29,294.58 L363.55,293.27 L363.81,291.97 L364.07,290.71 L364.33,289.51 L364.59,288.40 L364.86,287.39 L365.12,286.51 L365.38,285.77 L365.64,285.21 L365.90,284.82 L366.16,284.62 L366.43,284.62 L366.69,284.81 L366.95,285.19 L367.21,285.76 L367.47,286.49 L367.73,287.38 L368.00,288.40 L368.26,289.52 L368.52,290.73 L368.78,292.00 L369.04,293.31 L369.30,294.62 L369.56,295.93 L369.83,297.21 L370.09,298.44 L370.35,299.61 L370.61,300.71 L370.87,301.73 L371.13,302.66 L371.40,303.51 L371.66,304.27 L371.92,304.94 L372.18,305.53 L372.44,306.04 L372.70,306.48 L372.97,306.86 L373.23,307.18 L373.49,307.44 L373.75,307.66 L374.01,307.84 L374.27,307.98 L374.54,308.10 L374.80,308.19 L375.06,308.27 L375.32,308.32 L375.58,308.37 L375.84,308.40 L376.11,308.43 L376.37,308.45 L376.63,308.46 L376.89,308.47 L377.15,308.48 L377.41,308.49 L377.68,308.49 L377.94,308.49 L378.20,308.50" fill="none" stroke="#000" stroke-width="0.8" stroke-dasharray="0.8,0.8"/>
<circle cx="365.60" cy="283.90" r="0.9" fill="#000"/>
<line x1="345.40" y1="308.50" x2="346.30" y2="308.50" stroke="#777" stroke-width="0.5"/>
<text x="345.20" y="309.30" font-size="2.3" fill="#555" text-anchor="end">0</text>
<line x1="345.40" y1="302.64" x2="346.30" y2="302.64" stroke="#777" stroke-width="0.5"/>
<text x="345.20" y="303.44" font-size="2.3" fill="#555" text-anchor="end">20</text>
<line x1="345.40" y1="296.78" x2="346.30" y2="296.78" stroke="#777" stroke-width="0.5"/>
<text x="345.20" y="297.58" font-size="2.3" fill="#555" text-anchor="end">40</text>
<line x1="345.40" y1="290.92" x2="346.30" y2="290.92" stroke="#777" stroke-width="0.5"/>
<text x="345.20" y="291.72" font-size="2.3" fill="#555" text-anchor="end">60</text>
<line x1="345.40" y1="285.06" x2="346.30" y2="285.06" stroke="#777" stroke-width="0.5"/>
<text x="345.20" y="285.86" font-size="2.3" fill="#555" text-anchor="end">80</text>
<line x1="345.40" y1="279.21" x2="346.30" y2="279.21" stroke="#777" stroke-width="0.5"/>
<text x="345.20" y="280.01" font-size="2.3" fill="#555" text-anchor="end">100</text>
<text x="360.20" y="282.90" font-size="4.1" font-weight="bold" text-anchor="middle" fill="#111" font-family="Liberation Serif">LPS</text>
<rect x="381.20" y="278.20" width="32.40" height="30.90" fill="none" stroke="#bdbdbd" stroke-width="0.8"/>
<path d="M381.70,307.94 L381.96,307.70 L382.22,307.36 L382.49,306.92 L382.75,306.33 L383.01,305.59 L383.27,304.66 L383.53,303.54 L383.79,302.21 L384.06,300.67 L384.32,298.95 L384.58,297.06 L384.84,295.06 L385.10,293.00 L385.36,290.96 L385.62,289.03 L385.89,287.34 L386.15,286.03 L386.41,285.25 L386.67,285.11 L386.93,285.65 L387.19,286.83 L387.46,288.48 L387.72,290.43 L387.98,292.54 L388.24,294.69 L388.50,296.80 L388.76,298.78 L389.03,300.59 L389.29,302.20 L389.55,303.59 L389.81,304.75 L390.07,305.69 L390.33,306.44 L390.60,307.02 L390.86,307.46 L391.12,307.78 L391.38,308.01 L391.64,308.17 L391.90,308.28 L392.17,308.35 L392.43,308.40 L392.69,308.43 L392.95,308.45 L393.21,308.47 L393.47,308.48 L393.74,308.48 L394.00,308.48 L394.26,308.49 L394.52,308.49 L394.78,308.49 L395.04,308.49 L395.31,308.49 L395.57,308.49 L395.83,308.49 L396.09,308.49 L396.35,308.50 L396.61,308.50 L396.88,308.50 L397.14,308.50 L397.40,308.50 L397.66,308.50 L397.92,308.50 L398.19,308.50 L398.45,308.50 L398.71,308.50 L398.97,308.50 L399.23,308.50 L399.49,308.50 L399.75,308.50 L400.02,308.50 L400.28,308.50 L400.54,308.50 L400.80,308.50 L401.06,308.50 L401.32,308.50 L401.59,308.50 L401.85,308.50 L402.11,308.50 L402.37,308.50 L402.63,308.50 L402.89,308.50 L403.16,308.50 L403.42,308.50 L403.68,308.50 L403.94,308.50 L404.20,308.50 L404.46,308.50 L404.73,308.50 L404.99,308.50 L405.25,308.50 L405.51,308.50 L405.77,308.50 L406.03,308.50 L406.30,308.50 L406.56,308.50 L406.82,308.50 L407.08,308.50 L407.34,308.50 L407.60,308.50 L407.87,308.50 L408.13,308.50 L408.39,308.50 L408.65,308.50 L408.91,308.50 L409.17,308.50 L409.44,308.50 L409.70,308.50 L409.96,308.50 L410.22,308.50 L410.48,308.50 L410.74,308.50 L411.01,308.50 L411.27,308.50 L411.53,308.50 L411.79,308.50 L412.05,308.50 L412.31,308.50 L412.58,308.50 L412.84,308.50 L413.10,308.50" fill="none" stroke="#8a8a8a" stroke-width="0.75"/>
<path d="M381.70,308.50 L381.96,308.50 L382.22,308.50 L382.49,308.50 L382.75,308.50 L383.01,308.50 L383.27,308.50 L383.53,308.50 L383.79,308.49 L384.06,308.49 L384.32,308.49 L384.58,308.49 L384.84,308.48 L385.10,308.48 L385.36,308.47 L385.62,308.46 L385.89,308.45 L386.15,308.43 L386.41,308.42 L386.67,308.39 L386.93,308.36 L387.19,308.33 L387.46,308.28 L387.72,308.23 L387.98,308.17 L388.24,308.09 L388.50,307.99 L388.76,307.88 L389.03,307.75 L389.29,307.60 L389.55,307.41 L389.81,307.20 L390.07,306.96 L390.33,306.67 L390.60,306.35 L390.86,305.99 L391.12,305.58 L391.38,305.12 L391.64,304.60 L391.90,304.04 L392.17,303.41 L392.43,302.74 L392.69,302.00 L392.95,301.21 L393.21,300.37 L393.47,299.48 L393.74,298.54 L394.00,297.56 L394.26,296.56 L394.52,295.52 L394.78,294.47 L395.04,293.42 L395.31,292.37 L395.57,291.34 L395.83,290.35 L396.09,289.39 L396.35,288.49 L396.61,287.66 L396.88,286.91 L397.14,286.25 L397.40,285.69 L397.66,285.24 L397.92,284.90 L398.19,284.69 L398.45,284.60 L398.71,284.76 L398.97,285.40 L399.23,286.50 L399.49,287.98 L399.75,289.76 L400.02,291.74 L400.28,293.83 L400.54,295.93 L400.80,297.95 L401.06,299.83 L401.32,301.53 L401.59,303.01 L401.85,304.26 L402.11,305.30 L402.37,306.14 L402.63,306.79 L402.89,307.29 L403.16,307.66 L403.42,307.93 L403.68,308.12 L403.94,308.25 L404.20,308.34 L404.46,308.40 L404.73,308.44 L404.99,308.46 L405.25,308.48 L405.51,308.49 L405.77,308.49 L406.03,308.50 L406.30,308.50 L406.56,308.50 L406.82,308.50 L407.08,308.50 L407.34,308.50 L407.60,308.50 L407.87,308.50 L408.13,308.50 L408.39,308.50 L408.65,308.50 L408.91,308.50 L409.17,308.50 L409.44,308.50 L409.70,308.50 L409.96,308.50 L410.22,308.50 L410.48,308.50 L410.74,308.50 L411.01,308.50 L411.27,308.50 L411.53,308.50 L411.79,308.50 L412.05,308.50 L412.31,308.50 L412.58,308.50 L412.84,308.50 L413.10,308.50 L413.10,308.50 L381.70,308.50 Z" fill="#a4a4a4" stroke="none"/>
<path d="M381.70,308.50 L381.96,308.50 L382.22,308.50 L382.49,308.50 L382.75,308.50 L383.01,308.50 L383.27,308.50 L383.53,308.50 L383.79,308.50 L384.06,308.50 L384.32,308.50 L384.58,308.50 L384.84,308.49 L385.10,308.49 L385.36,308.49 L385.62,308.48 L385.89,308.48 L386.15,308.47 L386.41,308.46 L386.67,308.45 L386.93,308.43 L387.19,308.41 L387.46,308.39 L387.72,308.36 L387.98,308.32 L388.24,308.26 L388.50,308.20 L388.76,308.12 L389.03,308.03 L389.29,307.92 L389.55,307.78 L389.81,307.61 L390.07,307.42 L390.33,307.19 L390.60,306.92 L390.86,306.60 L391.12,306.24 L391.38,305.83 L391.64,305.36 L391.90,304.83 L392.17,304.24 L392.43,303.58 L392.69,302.86 L392.95,302.08 L393.21,301.23 L393.47,300.31 L393.74,299.34 L394.00,298.32 L394.26,297.26 L394.52,296.16 L394.78,295.03 L395.04,293.90 L395.31,292.77 L395.57,291.66 L395.83,290.58 L396.09,289.56 L396.35,288.59 L396.61,287.71 L396.88,286.93 L397.14,286.25 L397.40,285.70 L397.66,285.27 L397.92,284.99 L398.19,284.85 L398.45,284.92 L398.71,285.44 L398.97,286.42 L399.23,287.81 L399.49,289.51 L399.75,291.43 L400.02,293.48 L400.28,295.57 L400.54,297.59 L400.80,299.49 L401.06,301.22 L401.32,302.74 L401.59,304.03 L401.85,305.11 L402.11,305.98 L402.37,306.67 L402.63,307.20 L402.89,307.59 L403.16,307.88 L403.42,308.08 L403.68,308.23 L403.94,308.33 L404.20,308.39 L404.46,308.43 L404.73,308.46 L404.99,308.48 L405.25,308.49 L405.51,308.49 L405.77,308.50 L406.03,308.50 L406.30,308.50 L406.56,308.50 L406.82,308.50 L407.08,308.50 L407.34,308.50 L407.60,308.50 L407.87,308.50 L408.13,308.50 L408.39,308.50 L408.65,308.50 L408.91,308.50 L409.17,308.50 L409.44,308.50 L409.70,308.50 L409.96,308.50 L410.22,308.50 L410.48,308.50 L410.74,308.50 L411.01,308.50 L411.27,308.50 L411.53,308.50 L411.79,308.50 L412.05,308.50 L412.31,308.50 L412.58,308.50 L412.84,308.50 L413.10,308.50" fill="none" stroke="#111" stroke-width="0.8"/>
<path d="M381.70,308.50 L381.96,308.50 L382.22,308.50 L382.49,308.50 L382.75,308.50 L383.01,308.50 L383.27,308.50 L383.53,308.50 L383.79,308.50 L384.06,308.50 L384.32,308.50 L384.58,308.49 L384.84,308.49 L385.10,308.49 L385.36,308.49 L385.62,308.48 L385.89,308.48 L386.15,308.47 L386.41,308.46 L386.67,308.45 L386.93,308.43 L387.19,308.41 L387.46,308.39 L387.72,308.36 L387.98,308.32 L388.24,308.28 L388.50,308.22 L388.76,308.16 L389.03,308.08 L389.29,307.98 L389.55,307.87 L389.81,307.73 L390.07,307.58 L390.33,307.39 L390.60,307.18 L390.86,306.93 L391.12,306.65 L391.38,306.33 L391.64,305.97 L391.90,305.56 L392.17,305.10 L392.43,304.59 L392.69,304.03 L392.95,303.41 L393.21,302.74 L393.47,302.02 L393.74,301.25 L394.00,300.42 L394.26,299.55 L394.52,298.64 L394.78,297.69 L395.04,296.71 L395.31,295.72 L395.57,294.71 L395.83,293.70 L396.09,292.70 L396.35,291.72 L396.61,290.77 L396.88,289.87 L397.14,289.03 L397.40,288.25 L397.66,287.56 L397.92,286.95 L398.19,286.45 L398.45,286.05 L398.71,285.77 L398.97,285.60 L399.23,285.56 L399.49,285.67 L399.75,285.98 L400.02,286.46 L400.28,287.11 L400.54,287.91 L400.80,288.84 L401.06,289.89 L401.32,291.02 L401.59,292.22 L401.85,293.47 L402.11,294.73 L402.37,295.99 L402.63,297.23 L402.89,298.43 L403.16,299.57 L403.42,300.65 L403.68,301.66 L403.94,302.58 L404.20,303.43 L404.46,304.19 L404.73,304.86 L404.99,305.46 L405.25,305.97 L405.51,306.42 L405.77,306.80 L406.03,307.13 L406.30,307.40 L406.56,307.62 L406.82,307.81 L407.08,307.96 L407.34,308.08 L407.60,308.18 L407.87,308.25 L408.13,308.31 L408.39,308.36 L408.65,308.39 L408.91,308.42 L409.17,308.44 L409.44,308.46 L409.70,308.47 L409.96,308.48 L410.22,308.48 L410.48,308.49 L410.74,308.49 L411.01,308.49 L411.27,308.50 L411.53,308.50 L411.79,308.50 L412.05,308.50 L412.31,308.50 L412.58,308.50 L412.84,308.50 L413.10,308.50" fill="none" stroke="#000" stroke-width="0.8" stroke-dasharray="0.8,0.8"/>
<circle cx="398.50" cy="284.90" r="0.9" fill="#000"/>
<line x1="380.30" y1="308.50" x2="381.20" y2="308.50" stroke="#777" stroke-width="0.5"/>
<text x="380.10" y="309.30" font-size="2.3" fill="#555" text-anchor="end">0</text>
<line x1="380.30" y1="302.88" x2="381.20" y2="302.88" stroke="#777" stroke-width="0.5"/>
<text x="380.10" y="303.68" font-size="2.3" fill="#555" text-anchor="end">20</text>
<line x1="380.30" y1="297.25" x2="381.20" y2="297.25" stroke="#777" stroke-width="0.5"/>
<text x="380.10" y="298.05" font-size="2.3" fill="#555" text-anchor="end">40</text>
<line x1="380.30" y1="291.63" x2="381.20" y2="291.63" stroke="#777" stroke-width="0.5"/>
<text x="380.10" y="292.43" font-size="2.3" fill="#555" text-anchor="end">60</text>
<line x1="380.30" y1="286.01" x2="381.20" y2="286.01" stroke="#777" stroke-width="0.5"/>
<text x="380.10" y="286.81" font-size="2.3" fill="#555" text-anchor="end">80</text>
<line x1="380.30" y1="280.38" x2="381.20" y2="280.38" stroke="#777" stroke-width="0.5"/>
<text x="380.10" y="281.18" font-size="2.3" fill="#555" text-anchor="end">100</text>
<text x="395.40" y="282.90" font-size="4.1" font-weight="bold" text-anchor="middle" fill="#111" font-family="Liberation Serif">Poly IC</text>
<rect x="416.20" y="278.20" width="32.40" height="30.90" fill="none" stroke="#bdbdbd" stroke-width="0.8"/>
<path d="M416.70,307.93 L416.96,307.69 L417.22,307.35 L417.49,306.90 L417.75,306.31 L418.01,305.55 L418.27,304.62 L418.53,303.48 L418.79,302.13 L419.06,300.57 L419.32,298.83 L419.58,296.92 L419.84,294.89 L420.10,292.81 L420.36,290.74 L420.62,288.79 L420.89,287.08 L421.15,285.75 L421.41,284.96 L421.67,284.81 L421.93,285.37 L422.19,286.56 L422.46,288.23 L422.72,290.20 L422.98,292.34 L423.24,294.52 L423.50,296.65 L423.76,298.66 L424.03,300.49 L424.29,302.12 L424.55,303.52 L424.81,304.70 L425.07,305.66 L425.33,306.42 L425.60,307.00 L425.86,307.44 L426.12,307.77 L426.38,308.00 L426.64,308.16 L426.90,308.28 L427.17,308.35 L427.43,308.40 L427.69,308.43 L427.95,308.45 L428.21,308.47 L428.47,308.48 L428.74,308.48 L429.00,308.48 L429.26,308.49 L429.52,308.49 L429.78,308.49 L430.04,308.49 L430.31,308.49 L430.57,308.49 L430.83,308.49 L431.09,308.49 L431.35,308.50 L431.61,308.50 L431.88,308.50 L432.14,308.50 L432.40,308.50 L432.66,308.50 L432.92,308.50 L433.19,308.50 L433.45,308.50 L433.71,308.50 L433.97,308.50 L434.23,308.50 L434.49,308.50 L434.75,308.50 L435.02,308.50 L435.28,308.50 L435.54,308.50 L435.80,308.50 L436.06,308.50 L436.32,308.50 L436.59,308.50 L436.85,308.50 L437.11,308.50 L437.37,308.50 L437.63,308.50 L437.89,308.50 L438.16,308.50 L438.42,308.50 L438.68,308.50 L438.94,308.50 L439.20,308.50 L439.46,308.50 L439.73,308.50 L439.99,308.50 L440.25,308.50 L440.51,308.50 L440.77,308.50 L441.03,308.50 L441.30,308.50 L441.56,308.50 L441.82,308.50 L442.08,308.50 L442.34,308.50 L442.60,308.50 L442.87,308.50 L443.13,308.50 L443.39,308.50 L443.65,308.50 L443.91,308.50 L444.17,308.50 L444.44,308.50 L444.70,308.50 L444.96,308.50 L445.22,308.50 L445.48,308.50 L445.74,308.50 L446.01,308.50 L446.27,308.50 L446.53,308.50 L446.79,308.50 L447.05,308.50 L447.31,308.50 L447.58,308.50 L447.84,308.50 L448.10,308.50" fill="none" stroke="#8a8a8a" stroke-width="0.75"/>
<path d="M416.70,308.50 L416.96,308.50 L417.22,308.50 L417.49,308.50 L417.75,308.50 L418.01,308.50 L418.27,308.50 L418.53,308.50 L418.79,308.50 L419.06,308.50 L419.32,308.50 L419.58,308.50 L419.84,308.50 L420.10,308.50 L420.36,308.50 L420.62,308.50 L420.89,308.50 L421.15,308.50 L421.41,308.50 L421.67,308.50 L421.93,308.50 L422.19,308.49 L422.46,308.49 L422.72,308.49 L422.98,308.48 L423.24,308.48 L423.50,308.47 L423.76,308.46 L424.03,308.44 L424.29,308.42 L424.55,308.40 L424.81,308.37 L425.07,308.32 L425.33,308.27 L425.60,308.20 L425.86,308.12 L426.12,308.02 L426.38,307.89 L426.64,307.74 L426.90,307.56 L427.17,307.33 L427.43,307.07 L427.69,306.76 L427.95,306.39 L428.21,305.97 L428.47,305.48 L428.74,304.93 L429.00,304.30 L429.26,303.60 L429.52,302.82 L429.78,301.97 L430.04,301.04 L430.31,300.04 L430.57,298.97 L430.83,297.84 L431.09,296.67 L431.35,295.46 L431.61,294.22 L431.88,292.99 L432.14,291.76 L432.40,290.57 L432.66,289.42 L432.92,288.35 L433.19,287.37 L433.45,286.50 L433.71,285.75 L433.97,285.15 L434.23,284.70 L434.49,284.42 L434.75,284.30 L435.02,284.47 L435.28,285.14 L435.54,286.26 L435.80,287.77 L436.06,289.58 L436.32,291.60 L436.59,293.71 L436.85,295.83 L437.11,297.88 L437.37,299.78 L437.63,301.49 L437.89,302.98 L438.16,304.25 L438.42,305.29 L438.68,306.13 L438.94,306.79 L439.20,307.29 L439.46,307.66 L439.73,307.93 L439.99,308.12 L440.25,308.25 L440.51,308.34 L440.77,308.40 L441.03,308.44 L441.30,308.46 L441.56,308.48 L441.82,308.49 L442.08,308.49 L442.34,308.50 L442.60,308.50 L442.87,308.50 L443.13,308.50 L443.39,308.50 L443.65,308.50 L443.91,308.50 L444.17,308.50 L444.44,308.50 L444.70,308.50 L444.96,308.50 L445.22,308.50 L445.48,308.50 L445.74,308.50 L446.01,308.50 L446.27,308.50 L446.53,308.50 L446.79,308.50 L447.05,308.50 L447.31,308.50 L447.58,308.50 L447.84,308.50 L448.10,308.50 L448.10,308.50 L416.70,308.50 Z" fill="#a4a4a4" stroke="none"/>
<path d="M416.70,308.50 L416.96,308.50 L417.22,308.50 L417.49,308.50 L417.75,308.50 L418.01,308.50 L418.27,308.50 L418.53,308.50 L418.79,308.50 L419.06,308.50 L419.32,308.50 L419.58,308.50 L419.84,308.50 L420.10,308.50 L420.36,308.50 L420.62,308.50 L420.89,308.50 L421.15,308.50 L421.41,308.50 L421.67,308.50 L421.93,308.50 L422.19,308.50 L422.46,308.50 L422.72,308.50 L422.98,308.49 L423.24,308.49 L423.50,308.49 L423.76,308.48 L424.03,308.48 L424.29,308.47 L424.55,308.45 L424.81,308.43 L425.07,308.41 L425.33,308.38 L425.60,308.34 L425.86,308.28 L426.12,308.21 L426.38,308.12 L426.64,308.01 L426.90,307.87 L427.17,307.70 L427.43,307.49 L427.69,307.23 L427.95,306.92 L428.21,306.55 L428.47,306.11 L428.74,305.60 L429.00,305.02 L429.26,304.35 L429.52,303.59 L429.78,302.74 L430.04,301.81 L430.31,300.78 L430.57,299.68 L430.83,298.50 L431.09,297.26 L431.35,295.97 L431.61,294.65 L431.88,293.31 L432.14,291.99 L432.40,290.71 L432.66,289.48 L432.92,288.34 L433.19,287.32 L433.45,286.42 L433.71,285.68 L433.97,285.12 L434.23,284.74 L434.49,284.56 L434.75,284.63 L435.02,285.18 L435.28,286.18 L435.54,287.60 L435.80,289.33 L436.06,291.28 L436.32,293.36 L436.59,295.47 L436.85,297.52 L437.11,299.44 L437.37,301.18 L437.63,302.71 L437.89,304.01 L438.16,305.10 L438.42,305.97 L438.68,306.66 L438.94,307.19 L439.20,307.59 L439.46,307.88 L439.73,308.09 L439.99,308.23 L440.25,308.33 L440.51,308.39 L440.77,308.43 L441.03,308.46 L441.30,308.48 L441.56,308.49 L441.82,308.49 L442.08,308.50 L442.34,308.50 L442.60,308.50 L442.87,308.50 L443.13,308.50 L443.39,308.50 L443.65,308.50 L443.91,308.50 L444.17,308.50 L444.44,308.50 L444.70,308.50 L444.96,308.50 L445.22,308.50 L445.48,308.50 L445.74,308.50 L446.01,308.50 L446.27,308.50 L446.53,308.50 L446.79,308.50 L447.05,308.50 L447.31,308.50 L447.58,308.50 L447.84,308.50 L448.10,308.50" fill="none" stroke="#111" stroke-width="0.8"/>
<path d="M416.70,308.50 L416.96,308.50 L417.22,308.50 L417.49,308.50 L417.75,308.50 L418.01,308.50 L418.27,308.50 L418.53,308.50 L418.79,308.50 L419.06,308.50 L419.32,308.50 L419.58,308.50 L419.84,308.50 L420.10,308.50 L420.36,308.50 L420.62,308.50 L420.89,308.50 L421.15,308.50 L421.41,308.50 L421.67,308.50 L421.93,308.50 L422.19,308.50 L422.46,308.50 L422.72,308.50 L422.98,308.49 L423.24,308.49 L423.50,308.49 L423.76,308.48 L424.03,308.48 L424.29,308.47 L424.55,308.45 L424.81,308.44 L425.07,308.42 L425.33,308.39 L425.60,308.36 L425.86,308.32 L426.12,308.26 L426.38,308.19 L426.64,308.11 L426.90,308.00 L427.17,307.87 L427.43,307.72 L427.69,307.53 L427.95,307.30 L428.21,307.03 L428.47,306.72 L428.74,306.35 L429.00,305.92 L429.26,305.44 L429.52,304.88 L429.78,304.26 L430.04,303.56 L430.31,302.79 L430.57,301.95 L430.83,301.03 L431.09,300.05 L431.35,299.00 L431.61,297.91 L431.88,296.77 L432.14,295.60 L432.40,294.41 L432.66,293.22 L432.92,292.05 L433.19,290.92 L433.45,289.84 L433.71,288.84 L433.97,287.93 L434.23,287.13 L434.49,286.46 L434.75,285.93 L435.02,285.55 L435.28,285.33 L435.54,285.27 L435.80,285.40 L436.06,285.71 L436.32,286.20 L436.59,286.86 L436.85,287.68 L437.11,288.63 L437.37,289.69 L437.63,290.84 L437.89,292.06 L438.16,293.32 L438.42,294.60 L438.68,295.87 L438.94,297.12 L439.20,298.34 L439.46,299.49 L439.73,300.59 L439.99,301.60 L440.25,302.54 L440.51,303.39 L440.77,304.15 L441.03,304.84 L441.30,305.44 L441.56,305.96 L441.82,306.41 L442.08,306.79 L442.34,307.12 L442.60,307.39 L442.87,307.62 L443.13,307.80 L443.39,307.96 L443.65,308.08 L443.91,308.17 L444.17,308.25 L444.44,308.31 L444.70,308.36 L444.96,308.39 L445.22,308.42 L445.48,308.44 L445.74,308.46 L446.01,308.47 L446.27,308.48 L446.53,308.48 L446.79,308.49 L447.05,308.49 L447.31,308.49 L447.58,308.50 L447.84,308.50 L448.10,308.50" fill="none" stroke="#000" stroke-width="0.8" stroke-dasharray="0.8,0.8"/>
<circle cx="434.80" cy="284.60" r="0.9" fill="#000"/>
<line x1="415.30" y1="308.50" x2="416.20" y2="308.50" stroke="#777" stroke-width="0.5"/>
<text x="415.10" y="309.30" font-size="2.3" fill="#555" text-anchor="end">0</text>
<line x1="415.30" y1="302.81" x2="416.20" y2="302.81" stroke="#777" stroke-width="0.5"/>
<text x="415.10" y="303.61" font-size="2.3" fill="#555" text-anchor="end">20</text>
<line x1="415.30" y1="297.11" x2="416.20" y2="297.11" stroke="#777" stroke-width="0.5"/>
<text x="415.10" y="297.91" font-size="2.3" fill="#555" text-anchor="end">40</text>
<line x1="415.30" y1="291.42" x2="416.20" y2="291.42" stroke="#777" stroke-width="0.5"/>
<text x="415.10" y="292.22" font-size="2.3" fill="#555" text-anchor="end">60</text>
<line x1="415.30" y1="285.72" x2="416.20" y2="285.72" stroke="#777" stroke-width="0.5"/>
<text x="415.10" y="286.52" font-size="2.3" fill="#555" text-anchor="end">80</text>
<line x1="415.30" y1="280.03" x2="416.20" y2="280.03" stroke="#777" stroke-width="0.5"/>
<text x="415.10" y="280.83" font-size="2.3" fill="#555" text-anchor="end">100</text>
<text x="433.40" y="282.90" font-size="4.1" font-weight="bold" text-anchor="middle" fill="#111" font-family="Liberation Serif">LPS poly IC</text>
<rect x="309.70" y="311.40" width="32.40" height="30.90" fill="none" stroke="#bdbdbd" stroke-width="0.8"/>
<path d="M310.20,341.13 L310.46,340.88 L310.72,340.54 L310.99,340.08 L311.25,339.49 L311.51,338.73 L311.77,337.78 L312.03,336.64 L312.29,335.28 L312.56,333.71 L312.82,331.95 L313.08,330.02 L313.34,327.98 L313.60,325.88 L313.86,323.79 L314.12,321.82 L314.39,320.10 L314.65,318.76 L314.91,317.97 L315.17,317.82 L315.43,318.38 L315.69,319.58 L315.96,321.26 L316.22,323.25 L316.48,325.41 L316.74,327.60 L317.00,329.75 L317.26,331.78 L317.53,333.63 L317.79,335.27 L318.05,336.68 L318.31,337.87 L318.57,338.83 L318.83,339.60 L319.10,340.19 L319.36,340.64 L319.62,340.96 L319.88,341.20 L320.14,341.36 L320.40,341.47 L320.67,341.55 L320.93,341.60 L321.19,341.63 L321.45,341.65 L321.71,341.67 L321.97,341.67 L322.24,341.68 L322.50,341.68 L322.76,341.69 L323.02,341.69 L323.28,341.69 L323.54,341.69 L323.81,341.69 L324.07,341.69 L324.33,341.69 L324.59,341.69 L324.85,341.70 L325.11,341.70 L325.38,341.70 L325.64,341.70 L325.90,341.70 L326.16,341.70 L326.42,341.70 L326.69,341.70 L326.95,341.70 L327.21,341.70 L327.47,341.70 L327.73,341.70 L327.99,341.70 L328.25,341.70 L328.52,341.70 L328.78,341.70 L329.04,341.70 L329.30,341.70 L329.56,341.70 L329.82,341.70 L330.09,341.70 L330.35,341.70 L330.61,341.70 L330.87,341.70 L331.13,341.70 L331.39,341.70 L331.66,341.70 L331.92,341.70 L332.18,341.70 L332.44,341.70 L332.70,341.70 L332.96,341.70 L333.23,341.70 L333.49,341.70 L333.75,341.70 L334.01,341.70 L334.27,341.70 L334.53,341.70 L334.80,341.70 L335.06,341.70 L335.32,341.70 L335.58,341.70 L335.84,341.70 L336.10,341.70 L336.37,341.70 L336.63,341.70 L336.89,341.70 L337.15,341.70 L337.41,341.70 L337.67,341.70 L337.94,341.70 L338.20,341.70 L338.46,341.70 L338.72,341.70 L338.98,341.70 L339.24,341.70 L339.51,341.70 L339.77,341.70 L340.03,341.70 L340.29,341.70 L340.55,341.70 L340.81,341.70 L341.08,341.70 L341.34,341.70 L341.60,341.70" fill="none" stroke="#8a8a8a" stroke-width="0.75"/>
<path d="M310.20,341.70 L310.46,341.70 L310.72,341.70 L310.99,341.70 L311.25,341.70 L311.51,341.70 L311.77,341.70 L312.03,341.70 L312.29,341.70 L312.56,341.70 L312.82,341.70 L313.08,341.70 L313.34,341.70 L313.60,341.70 L313.86,341.70 L314.12,341.70 L314.39,341.70 L314.65,341.70 L314.91,341.70 L315.17,341.69 L315.43,341.69 L315.69,341.69 L315.96,341.68 L316.22,341.68 L316.48,341.67 L316.74,341.66 L317.00,341.64 L317.26,341.62 L317.53,341.60 L317.79,341.57 L318.05,341.53 L318.31,341.47 L318.57,341.41 L318.83,341.33 L319.10,341.23 L319.36,341.10 L319.62,340.95 L319.88,340.77 L320.14,340.54 L320.40,340.28 L320.67,339.97 L320.93,339.61 L321.19,339.19 L321.45,338.70 L321.71,338.15 L321.97,337.52 L322.24,336.82 L322.50,336.05 L322.76,335.19 L323.02,334.26 L323.28,333.26 L323.54,332.19 L323.81,331.06 L324.07,329.88 L324.33,328.66 L324.59,327.42 L324.85,326.17 L325.11,324.93 L325.38,323.72 L325.64,322.57 L325.90,321.48 L326.16,320.48 L326.42,319.59 L326.69,318.83 L326.95,318.21 L327.21,317.74 L327.47,317.44 L327.73,317.31 L327.99,317.50 L328.25,318.40 L328.52,319.93 L328.78,321.98 L329.04,324.36 L329.30,326.92 L329.56,329.47 L329.82,331.89 L330.09,334.07 L330.35,335.94 L330.61,337.48 L330.87,338.70 L331.13,339.63 L331.39,340.32 L331.66,340.80 L331.92,341.14 L332.18,341.36 L332.44,341.50 L332.70,341.58 L332.96,341.64 L333.23,341.66 L333.49,341.68 L333.75,341.69 L334.01,341.70 L334.27,341.70 L334.53,341.70 L334.80,341.70 L335.06,341.70 L335.32,341.70 L335.58,341.70 L335.84,341.70 L336.10,341.70 L336.37,341.70 L336.63,341.70 L336.89,341.70 L337.15,341.70 L337.41,341.70 L337.67,341.70 L337.94,341.70 L338.20,341.70 L338.46,341.70 L338.72,341.70 L338.98,341.70 L339.24,341.70 L339.51,341.70 L339.77,341.70 L340.03,341.70 L340.29,341.70 L340.55,341.70 L340.81,341.70 L341.08,341.70 L341.34,341.70 L341.60,341.70 L341.60,341.70 L310.20,341.70 Z" fill="#a4a4a4" stroke="none"/>
<path d="M310.20,341.70 L310.46,341.70 L310.72,341.70 L310.99,341.70 L311.25,341.70 L311.51,341.70 L311.77,341.70 L312.03,341.70 L312.29,341.70 L312.56,341.70 L312.82,341.70 L313.08,341.70 L313.34,341.70 L313.60,341.70 L313.86,341.70 L314.12,341.70 L314.39,341.70 L314.65,341.70 L314.91,341.70 L315.17,341.70 L315.43,341.70 L315.69,341.70 L315.96,341.69 L316.22,341.69 L316.48,341.69 L316.74,341.68 L317.00,341.68 L317.26,341.67 L317.53,341.65 L317.79,341.63 L318.05,341.61 L318.31,341.58 L318.57,341.54 L318.83,341.49 L319.10,341.42 L319.36,341.33 L319.62,341.22 L319.88,341.08 L320.14,340.91 L320.40,340.70 L320.67,340.44 L320.93,340.13 L321.19,339.77 L321.45,339.33 L321.71,338.83 L321.97,338.25 L322.24,337.58 L322.50,336.82 L322.76,335.98 L323.02,335.04 L323.28,334.02 L323.54,332.91 L323.81,331.73 L324.07,330.48 L324.33,329.18 L324.59,327.85 L324.85,326.51 L325.11,325.17 L325.38,323.87 L325.64,322.63 L325.90,321.48 L326.16,320.43 L326.42,319.51 L326.69,318.76 L326.95,318.17 L327.21,317.77 L327.47,317.57 L327.73,317.64 L327.99,318.36 L328.25,319.74 L328.52,321.66 L328.78,323.96 L329.04,326.46 L329.30,329.01 L329.56,331.44 L329.82,333.66 L330.09,335.59 L330.35,337.19 L330.61,338.47 L330.87,339.46 L331.13,340.19 L331.39,340.72 L331.66,341.08 L331.92,341.32 L332.18,341.47 L332.44,341.57 L332.70,341.63 L332.96,341.66 L333.23,341.68 L333.49,341.69 L333.75,341.69 L334.01,341.70 L334.27,341.70 L334.53,341.70 L334.80,341.70 L335.06,341.70 L335.32,341.70 L335.58,341.70 L335.84,341.70 L336.10,341.70 L336.37,341.70 L336.63,341.70 L336.89,341.70 L337.15,341.70 L337.41,341.70 L337.67,341.70 L337.94,341.70 L338.20,341.70 L338.46,341.70 L338.72,341.70 L338.98,341.70 L339.24,341.70 L339.51,341.70 L339.77,341.70 L340.03,341.70 L340.29,341.70 L340.55,341.70 L340.81,341.70 L341.08,341.70 L341.34,341.70 L341.60,341.70" fill="none" stroke="#111" stroke-width="0.8"/>
<path d="M310.20,341.70 L310.46,341.70 L310.72,341.70 L310.99,341.70 L311.25,341.70 L311.51,341.70 L311.77,341.70 L312.03,341.70 L312.29,341.70 L312.56,341.70 L312.82,341.70 L313.08,341.70 L313.34,341.70 L313.60,341.70 L313.86,341.70 L314.12,341.70 L314.39,341.70 L314.65,341.70 L314.91,341.70 L315.17,341.70 L315.43,341.70 L315.69,341.70 L315.96,341.69 L316.22,341.69 L316.48,341.69 L316.74,341.68 L317.00,341.68 L317.26,341.67 L317.53,341.66 L317.79,341.64 L318.05,341.62 L318.31,341.59 L318.57,341.56 L318.83,341.52 L319.10,341.46 L319.36,341.40 L319.62,341.31 L319.88,341.21 L320.14,341.08 L320.40,340.93 L320.67,340.74 L320.93,340.51 L321.19,340.25 L321.45,339.93 L321.71,339.57 L321.97,339.14 L322.24,338.66 L322.50,338.10 L322.76,337.48 L323.02,336.79 L323.28,336.01 L323.54,335.17 L323.81,334.25 L324.07,333.27 L324.33,332.22 L324.59,331.12 L324.85,329.97 L325.11,328.80 L325.38,327.60 L325.64,326.40 L325.90,325.22 L326.16,324.08 L326.42,322.98 L326.69,321.97 L326.95,321.04 L327.21,320.22 L327.47,319.53 L327.73,318.98 L327.99,318.59 L328.25,318.35 L328.52,318.28 L328.78,318.43 L329.04,318.86 L329.30,319.55 L329.56,320.47 L329.82,321.59 L330.09,322.87 L330.35,324.29 L330.61,325.78 L330.87,327.32 L331.13,328.87 L331.39,330.38 L331.66,331.84 L331.92,333.21 L332.18,334.47 L332.44,335.62 L332.70,336.65 L332.96,337.55 L333.23,338.33 L333.49,339.00 L333.75,339.56 L334.01,340.02 L334.27,340.40 L334.53,340.71 L334.80,340.95 L335.06,341.14 L335.32,341.29 L335.58,341.40 L335.84,341.48 L336.10,341.55 L336.37,341.59 L336.63,341.62 L336.89,341.65 L337.15,341.66 L337.41,341.68 L337.67,341.68 L337.94,341.69 L338.20,341.69 L338.46,341.70 L338.72,341.70 L338.98,341.70 L339.24,341.70 L339.51,341.70 L339.77,341.70 L340.03,341.70 L340.29,341.70 L340.55,341.70 L340.81,341.70 L341.08,341.70 L341.34,341.70 L341.60,341.70" fill="none" stroke="#000" stroke-width="0.8" stroke-dasharray="0.8,0.8"/>
<circle cx="327.80" cy="317.60" r="0.9" fill="#000"/>
<line x1="308.80" y1="341.70" x2="309.70" y2="341.70" stroke="#777" stroke-width="0.5"/>
<text x="308.60" y="342.50" font-size="2.3" fill="#555" text-anchor="end">0</text>
<line x1="308.80" y1="335.96" x2="309.70" y2="335.96" stroke="#777" stroke-width="0.5"/>
<text x="308.60" y="336.76" font-size="2.3" fill="#555" text-anchor="end">20</text>
<line x1="308.80" y1="330.22" x2="309.70" y2="330.22" stroke="#777" stroke-width="0.5"/>
<text x="308.60" y="331.02" font-size="2.3" fill="#555" text-anchor="end">40</text>
<line x1="308.80" y1="324.48" x2="309.70" y2="324.48" stroke="#777" stroke-width="0.5"/>
<text x="308.60" y="325.28" font-size="2.3" fill="#555" text-anchor="end">60</text>
<line x1="308.80" y1="318.74" x2="309.70" y2="318.74" stroke="#777" stroke-width="0.5"/>
<text x="308.60" y="319.54" font-size="2.3" fill="#555" text-anchor="end">80</text>
<line x1="308.80" y1="312.99" x2="309.70" y2="312.99" stroke="#777" stroke-width="0.5"/>
<text x="308.60" y="313.79" font-size="2.3" fill="#555" text-anchor="end">100</text>
<text x="325.80" y="316.10" font-size="4.1" font-weight="bold" text-anchor="middle" fill="#111" font-family="Liberation Serif">R848</text>
<rect x="346.30" y="311.40" width="32.40" height="30.90" fill="none" stroke="#bdbdbd" stroke-width="0.8"/>
<path d="M346.80,340.39 L347.06,339.89 L347.32,339.23 L347.59,338.41 L347.85,337.38 L348.11,336.15 L348.37,334.70 L348.63,333.04 L348.89,331.19 L349.16,329.18 L349.42,327.07 L349.68,324.92 L349.94,322.82 L350.20,320.87 L350.46,319.21 L350.73,317.99 L350.99,317.36 L351.25,317.42 L351.51,318.19 L351.77,319.58 L352.03,321.41 L352.30,323.51 L352.56,325.73 L352.82,327.97 L353.08,330.13 L353.34,332.15 L353.60,333.98 L353.87,335.58 L354.13,336.96 L354.39,338.10 L354.65,339.02 L354.91,339.75 L355.17,340.31 L355.44,340.72 L355.70,341.03 L355.96,341.24 L356.22,341.39 L356.48,341.50 L356.74,341.56 L357.00,341.61 L357.27,341.64 L357.53,341.66 L357.79,341.67 L358.05,341.68 L358.31,341.68 L358.57,341.68 L358.84,341.69 L359.10,341.69 L359.36,341.69 L359.62,341.69 L359.88,341.69 L360.14,341.69 L360.41,341.69 L360.67,341.69 L360.93,341.70 L361.19,341.70 L361.45,341.70 L361.71,341.70 L361.98,341.70 L362.24,341.70 L362.50,341.70 L362.76,341.70 L363.02,341.70 L363.29,341.70 L363.55,341.70 L363.81,341.70 L364.07,341.70 L364.33,341.70 L364.59,341.70 L364.86,341.70 L365.12,341.70 L365.38,341.70 L365.64,341.70 L365.90,341.70 L366.16,341.70 L366.43,341.70 L366.69,341.70 L366.95,341.70 L367.21,341.70 L367.47,341.70 L367.73,341.70 L368.00,341.70 L368.26,341.70 L368.52,341.70 L368.78,341.70 L369.04,341.70 L369.30,341.70 L369.56,341.70 L369.83,341.70 L370.09,341.70 L370.35,341.70 L370.61,341.70 L370.87,341.70 L371.13,341.70 L371.40,341.70 L371.66,341.70 L371.92,341.70 L372.18,341.70 L372.44,341.70 L372.70,341.70 L372.97,341.70 L373.23,341.70 L373.49,341.70 L373.75,341.70 L374.01,341.70 L374.27,341.70 L374.54,341.70 L374.80,341.70 L375.06,341.70 L375.32,341.70 L375.58,341.70 L375.84,341.70 L376.11,341.70 L376.37,341.70 L376.63,341.70 L376.89,341.70 L377.15,341.70 L377.41,341.70 L377.68,341.70 L377.94,341.70 L378.20,341.70" fill="none" stroke="#8a8a8a" stroke-width="0.75"/>
<path d="M346.80,341.70 L347.06,341.70 L347.32,341.70 L347.59,341.70 L347.85,341.70 L348.11,341.70 L348.37,341.70 L348.63,341.70 L348.89,341.70 L349.16,341.70 L349.42,341.70 L349.68,341.70 L349.94,341.70 L350.20,341.70 L350.46,341.70 L350.73,341.70 L350.99,341.70 L351.25,341.69 L351.51,341.69 L351.77,341.68 L352.03,341.66 L352.30,341.64 L352.56,341.60 L352.82,341.55 L353.08,341.47 L353.34,341.36 L353.60,341.21 L353.87,341.00 L354.13,340.72 L354.39,340.36 L354.65,339.91 L354.91,339.37 L355.17,338.71 L355.44,337.96 L355.70,337.10 L355.96,336.18 L356.22,335.21 L356.48,334.22 L356.74,333.27 L357.00,332.39 L357.27,331.63 L357.53,331.05 L357.79,330.66 L358.05,330.50 L358.31,330.54 L358.57,330.70 L358.84,330.97 L359.10,331.35 L359.36,331.83 L359.62,332.39 L359.88,333.01 L360.14,333.68 L360.41,334.38 L360.67,335.09 L360.93,335.80 L361.19,336.48 L361.45,337.14 L361.71,337.76 L361.98,338.33 L362.24,338.85 L362.50,339.32 L362.76,339.73 L363.02,340.09 L363.29,340.40 L363.55,340.66 L363.81,340.87 L364.07,341.05 L364.33,341.20 L364.59,341.32 L364.86,341.41 L365.12,341.48 L365.38,341.54 L365.64,341.58 L365.90,341.61 L366.16,341.64 L366.43,341.66 L366.69,341.67 L366.95,341.68 L367.21,341.69 L367.47,341.69 L367.73,341.69 L368.00,341.70 L368.26,341.70 L368.52,341.70 L368.78,341.70 L369.04,341.70 L369.30,341.70 L369.56,341.70 L369.83,341.70 L370.09,341.70 L370.35,341.70 L370.61,341.70 L370.87,341.70 L371.13,341.70 L371.40,341.70 L371.66,341.70 L371.92,341.70 L372.18,341.70 L372.44,341.70 L372.70,341.70 L372.97,341.70 L373.23,341.70 L373.49,341.70 L373.75,341.70 L374.01,341.70 L374.27,341.70 L374.54,341.70 L374.80,341.70 L375.06,341.70 L375.32,341.70 L375.58,341.70 L375.84,341.70 L376.11,341.70 L376.37,341.70 L376.63,341.70 L376.89,341.70 L377.15,341.70 L377.41,341.70 L377.68,341.70 L377.94,341.70 L378.20,341.70 L378.20,341.70 L346.80,341.70 Z" fill="#bdbdbd" stroke="#555" stroke-width="0.5" opacity="0.9"/>
<path d="M346.80,341.70 L347.06,341.70 L347.32,341.70 L347.59,341.70 L347.85,341.70 L348.11,341.70 L348.37,341.70 L348.63,341.70 L348.89,341.70 L349.16,341.70 L349.42,341.70 L349.68,341.70 L349.94,341.70 L350.20,341.70 L350.46,341.70 L350.73,341.70 L350.99,341.70 L351.25,341.70 L351.51,341.70 L351.77,341.69 L352.03,341.69 L352.30,341.69 L352.56,341.68 L352.82,341.68 L353.08,341.67 L353.34,341.65 L353.60,341.63 L353.87,341.61 L354.13,341.58 L354.39,341.54 L354.65,341.49 L354.91,341.42 L355.17,341.33 L355.44,341.23 L355.70,341.09 L355.96,340.93 L356.22,340.72 L356.48,340.48 L356.74,340.18 L357.00,339.82 L357.27,339.41 L357.53,338.92 L357.79,338.35 L358.05,337.71 L358.31,336.97 L358.57,336.15 L358.84,335.24 L359.10,334.24 L359.36,333.15 L359.62,331.98 L359.88,330.75 L360.14,329.45 L360.41,328.12 L360.67,326.76 L360.93,325.40 L361.19,324.06 L361.45,322.77 L361.71,321.54 L361.98,320.41 L362.24,319.40 L362.50,318.53 L362.76,317.82 L363.02,317.29 L363.29,316.95 L363.55,316.80 L363.81,316.99 L364.07,317.73 L364.33,319.00 L364.59,320.71 L364.86,322.74 L365.12,324.98 L365.38,327.29 L365.64,329.58 L365.90,331.74 L366.16,333.71 L366.43,335.44 L366.69,336.91 L366.95,338.12 L367.21,339.09 L367.47,339.84 L367.73,340.40 L368.00,340.82 L368.26,341.12 L368.52,341.32 L368.78,341.46 L369.04,341.55 L369.30,341.61 L369.56,341.65 L369.83,341.67 L370.09,341.68 L370.35,341.69 L370.61,341.69 L370.87,341.70 L371.13,341.70 L371.40,341.70 L371.66,341.70 L371.92,341.70 L372.18,341.70 L372.44,341.70 L372.70,341.70 L372.97,341.70 L373.23,341.70 L373.49,341.70 L373.75,341.70 L374.01,341.70 L374.27,341.70 L374.54,341.70 L374.80,341.70 L375.06,341.70 L375.32,341.70 L375.58,341.70 L375.84,341.70 L376.11,341.70 L376.37,341.70 L376.63,341.70 L376.89,341.70 L377.15,341.70 L377.41,341.70 L377.68,341.70 L377.94,341.70 L378.20,341.70 L378.20,341.70 L346.80,341.70 Z" fill="#a4a4a4" stroke="none"/>
<path d="M346.80,341.70 L347.06,341.70 L347.32,341.70 L347.59,341.70 L347.85,341.70 L348.11,341.70 L348.37,341.70 L348.63,341.70 L348.89,341.70 L349.16,341.70 L349.42,341.70 L349.68,341.70 L349.94,341.70 L350.20,341.70 L350.46,341.70 L350.73,341.70 L350.99,341.70 L351.25,341.70 L351.51,341.70 L351.77,341.70 L352.03,341.70 L352.30,341.70 L352.56,341.69 L352.82,341.69 L353.08,341.69 L353.34,341.68 L353.60,341.67 L353.87,341.66 L354.13,341.64 L354.39,341.62 L354.65,341.59 L354.91,341.54 L355.17,341.49 L355.44,341.41 L355.70,341.32 L355.96,341.20 L356.22,341.04 L356.48,340.85 L356.74,340.60 L357.00,340.31 L357.27,339.95 L357.53,339.51 L357.79,339.00 L358.05,338.39 L358.31,337.70 L358.57,336.90 L358.84,335.99 L359.10,334.98 L359.36,333.87 L359.62,332.66 L359.88,331.36 L360.14,329.99 L360.41,328.56 L360.67,327.11 L360.93,325.64 L361.19,324.20 L361.45,322.81 L361.71,321.51 L361.98,320.32 L362.24,319.28 L362.50,318.41 L362.76,317.74 L363.02,317.29 L363.29,317.07 L363.55,317.14 L363.81,317.75 L364.07,318.89 L364.33,320.49 L364.59,322.43 L364.86,324.61 L365.12,326.89 L365.38,329.18 L365.64,331.35 L365.90,333.35 L366.16,335.12 L366.43,336.64 L366.69,337.90 L366.95,338.91 L367.21,339.70 L367.47,340.30 L367.73,340.74 L368.00,341.06 L368.26,341.28 L368.52,341.43 L368.78,341.54 L369.04,341.60 L369.30,341.64 L369.56,341.67 L369.83,341.68 L370.09,341.69 L370.35,341.69 L370.61,341.70 L370.87,341.70 L371.13,341.70 L371.40,341.70 L371.66,341.70 L371.92,341.70 L372.18,341.70 L372.44,341.70 L372.70,341.70 L372.97,341.70 L373.23,341.70 L373.49,341.70 L373.75,341.70 L374.01,341.70 L374.27,341.70 L374.54,341.70 L374.80,341.70 L375.06,341.70 L375.32,341.70 L375.58,341.70 L375.84,341.70 L376.11,341.70 L376.37,341.70 L376.63,341.70 L376.89,341.70 L377.15,341.70 L377.41,341.70 L377.68,341.70 L377.94,341.70 L378.20,341.70" fill="none" stroke="#111" stroke-width="0.8"/>
<path d="M346.80,341.70 L347.06,341.70 L347.32,341.70 L347.59,341.70 L347.85,341.70 L348.11,341.70 L348.37,341.70 L348.63,341.70 L348.89,341.70 L349.16,341.70 L349.42,341.70 L349.68,341.70 L349.94,341.70 L350.20,341.70 L350.46,341.70 L350.73,341.70 L350.99,341.70 L351.25,341.70 L351.51,341.70 L351.77,341.70 L352.03,341.70 L352.30,341.70 L352.56,341.69 L352.82,341.69 L353.08,341.69 L353.34,341.68 L353.60,341.67 L353.87,341.66 L354.13,341.65 L354.39,341.63 L354.65,341.61 L354.91,341.57 L355.17,341.53 L355.44,341.48 L355.70,341.41 L355.96,341.32 L356.22,341.21 L356.48,341.07 L356.74,340.90 L357.00,340.69 L357.27,340.44 L357.53,340.14 L357.79,339.78 L358.05,339.35 L358.31,338.86 L358.57,338.29 L358.84,337.65 L359.10,336.92 L359.36,336.10 L359.62,335.19 L359.88,334.20 L360.14,333.14 L360.41,331.99 L360.67,330.79 L360.93,329.53 L361.19,328.24 L361.45,326.93 L361.71,325.63 L361.98,324.36 L362.24,323.13 L362.50,321.98 L362.76,320.93 L363.02,320.00 L363.29,319.22 L363.55,318.59 L363.81,318.14 L364.07,317.87 L364.33,317.80 L364.59,317.93 L364.86,318.29 L365.12,318.85 L365.38,319.60 L365.64,320.53 L365.90,321.60 L366.16,322.80 L366.43,324.08 L366.69,325.43 L366.95,326.82 L367.21,328.21 L367.47,329.59 L367.73,330.92 L368.00,332.20 L368.26,333.40 L368.52,334.52 L368.78,335.54 L369.04,336.47 L369.30,337.30 L369.56,338.03 L369.83,338.67 L370.09,339.22 L370.35,339.69 L370.61,340.08 L370.87,340.41 L371.13,340.68 L371.40,340.91 L371.66,341.08 L371.92,341.23 L372.18,341.34 L372.44,341.43 L372.70,341.50 L372.97,341.55 L373.23,341.59 L373.49,341.62 L373.75,341.64 L374.01,341.66 L374.27,341.67 L374.54,341.68 L374.80,341.69 L375.06,341.69 L375.32,341.69 L375.58,341.70 L375.84,341.70 L376.11,341.70 L376.37,341.70 L376.63,341.70 L376.89,341.70 L377.15,341.70 L377.41,341.70 L377.68,341.70 L377.94,341.70 L378.20,341.70" fill="none" stroke="#000" stroke-width="0.8" stroke-dasharray="0.8,0.8"/>
<circle cx="363.60" cy="317.10" r="0.9" fill="#000"/>
<line x1="345.40" y1="341.70" x2="346.30" y2="341.70" stroke="#777" stroke-width="0.5"/>
<text x="345.20" y="342.50" font-size="2.3" fill="#555" text-anchor="end">0</text>
<line x1="345.40" y1="335.84" x2="346.30" y2="335.84" stroke="#777" stroke-width="0.5"/>
<text x="345.20" y="336.64" font-size="2.3" fill="#555" text-anchor="end">20</text>
<line x1="345.40" y1="329.98" x2="346.30" y2="329.98" stroke="#777" stroke-width="0.5"/>
<text x="345.20" y="330.78" font-size="2.3" fill="#555" text-anchor="end">40</text>
<line x1="345.40" y1="324.12" x2="346.30" y2="324.12" stroke="#777" stroke-width="0.5"/>
<text x="345.20" y="324.92" font-size="2.3" fill="#555" text-anchor="end">60</text>
<line x1="345.40" y1="318.26" x2="346.30" y2="318.26" stroke="#777" stroke-width="0.5"/>
<text x="345.20" y="319.06" font-size="2.3" fill="#555" text-anchor="end">80</text>
<line x1="345.40" y1="312.41" x2="346.30" y2="312.41" stroke="#777" stroke-width="0.5"/>
<text x="345.20" y="313.21" font-size="2.3" fill="#555" text-anchor="end">100</text>
<text x="362.90" y="316.10" font-size="4.1" font-weight="bold" text-anchor="middle" fill="#111" font-family="Liberation Serif">R848 LPS</text>
<rect x="381.20" y="311.40" width="32.40" height="30.90" fill="none" stroke="#bdbdbd" stroke-width="0.8"/>
<path d="M381.70,340.42 L381.96,339.92 L382.22,339.28 L382.49,338.47 L382.75,337.47 L383.01,336.26 L383.27,334.84 L383.53,333.21 L383.79,331.40 L384.06,329.43 L384.32,327.37 L384.58,325.26 L384.84,323.20 L385.10,321.29 L385.36,319.66 L385.62,318.47 L385.89,317.85 L386.15,317.91 L386.41,318.67 L386.67,320.03 L386.93,321.82 L387.19,323.87 L387.46,326.05 L387.72,328.24 L387.98,330.36 L388.24,332.34 L388.50,334.13 L388.76,335.71 L389.03,337.05 L389.29,338.17 L389.55,339.08 L389.81,339.79 L390.07,340.34 L390.33,340.74 L390.60,341.04 L390.86,341.25 L391.12,341.40 L391.38,341.50 L391.64,341.57 L391.90,341.61 L392.17,341.64 L392.43,341.66 L392.69,341.67 L392.95,341.68 L393.21,341.68 L393.47,341.69 L393.74,341.69 L394.00,341.69 L394.26,341.69 L394.52,341.69 L394.78,341.69 L395.04,341.69 L395.31,341.69 L395.57,341.69 L395.83,341.70 L396.09,341.70 L396.35,341.70 L396.61,341.70 L396.88,341.70 L397.14,341.70 L397.40,341.70 L397.66,341.70 L397.92,341.70 L398.19,341.70 L398.45,341.70 L398.71,341.70 L398.97,341.70 L399.23,341.70 L399.49,341.70 L399.75,341.70 L400.02,341.70 L400.28,341.70 L400.54,341.70 L400.80,341.70 L401.06,341.70 L401.32,341.70 L401.59,341.70 L401.85,341.70 L402.11,341.70 L402.37,341.70 L402.63,341.70 L402.89,341.70 L403.16,341.70 L403.42,341.70 L403.68,341.70 L403.94,341.70 L404.20,341.70 L404.46,341.70 L404.73,341.70 L404.99,341.70 L405.25,341.70 L405.51,341.70 L405.77,341.70 L406.03,341.70 L406.30,341.70 L406.56,341.70 L406.82,341.70 L407.08,341.70 L407.34,341.70 L407.60,341.70 L407.87,341.70 L408.13,341.70 L408.39,341.70 L408.65,341.70 L408.91,341.70 L409.17,341.70 L409.44,341.70 L409.70,341.70 L409.96,341.70 L410.22,341.70 L410.48,341.70 L410.74,341.70 L411.01,341.70 L411.27,341.70 L411.53,341.70 L411.79,341.70 L412.05,341.70 L412.31,341.70 L412.58,341.70 L412.84,341.70 L413.10,341.70" fill="none" stroke="#8a8a8a" stroke-width="0.75"/>
<path d="M381.70,341.70 L381.96,341.70 L382.22,341.70 L382.49,341.70 L382.75,341.70 L383.01,341.70 L383.27,341.70 L383.53,341.70 L383.79,341.70 L384.06,341.70 L384.32,341.69 L384.58,341.69 L384.84,341.68 L385.10,341.67 L385.36,341.65 L385.62,341.62 L385.89,341.58 L386.15,341.52 L386.41,341.44 L386.67,341.32 L386.93,341.17 L387.19,340.97 L387.46,340.72 L387.72,340.40 L387.98,340.03 L388.24,339.59 L388.50,339.09 L388.76,338.54 L389.03,337.95 L389.29,337.35 L389.55,336.76 L389.81,336.21 L390.07,335.72 L390.33,335.32 L390.60,335.04 L390.86,334.89 L391.12,334.88 L391.38,334.95 L391.64,335.09 L391.90,335.30 L392.17,335.57 L392.43,335.90 L392.69,336.26 L392.95,336.66 L393.21,337.08 L393.47,337.51 L393.74,337.95 L394.00,338.37 L394.26,338.78 L394.52,339.17 L394.78,339.53 L395.04,339.85 L395.31,340.15 L395.57,340.41 L395.83,340.64 L396.09,340.84 L396.35,341.01 L396.61,341.15 L396.88,341.27 L397.14,341.36 L397.40,341.44 L397.66,341.50 L397.92,341.55 L398.19,341.59 L398.45,341.62 L398.71,341.64 L398.97,341.66 L399.23,341.67 L399.49,341.68 L399.75,341.69 L400.02,341.69 L400.28,341.69 L400.54,341.70 L400.80,341.70 L401.06,341.70 L401.32,341.70 L401.59,341.70 L401.85,341.70 L402.11,341.70 L402.37,341.70 L402.63,341.70 L402.89,341.70 L403.16,341.70 L403.42,341.70 L403.68,341.70 L403.94,341.70 L404.20,341.70 L404.46,341.70 L404.73,341.70 L404.99,341.70 L405.25,341.70 L405.51,341.70 L405.77,341.70 L406.03,341.70 L406.30,341.70 L406.56,341.70 L406.82,341.70 L407.08,341.70 L407.34,341.70 L407.60,341.70 L407.87,341.70 L408.13,341.70 L408.39,341.70 L408.65,341.70 L408.91,341.70 L409.17,341.70 L409.44,341.70 L409.70,341.70 L409.96,341.70 L410.22,341.70 L410.48,341.70 L410.74,341.70 L411.01,341.70 L411.27,341.70 L411.53,341.70 L411.79,341.70 L412.05,341.70 L412.31,341.70 L412.58,341.70 L412.84,341.70 L413.10,341.70 L413.10,341.70 L381.70,341.70 Z" fill="#bdbdbd" stroke="#555" stroke-width="0.5" opacity="0.9"/>
<path d="M381.70,341.70 L381.96,341.70 L382.22,341.70 L382.49,341.70 L382.75,341.70 L383.01,341.70 L383.27,341.70 L383.53,341.69 L383.79,341.69 L384.06,341.69 L384.32,341.69 L384.58,341.68 L384.84,341.68 L385.10,341.67 L385.36,341.67 L385.62,341.66 L385.89,341.64 L386.15,341.63 L386.41,341.61 L386.67,341.59 L386.93,341.56 L387.19,341.53 L387.46,341.49 L387.72,341.45 L387.98,341.39 L388.24,341.32 L388.50,341.24 L388.76,341.15 L389.03,341.04 L389.29,340.91 L389.55,340.76 L389.81,340.58 L390.07,340.39 L390.33,340.16 L390.60,339.90 L390.86,339.60 L391.12,339.27 L391.38,338.90 L391.64,338.49 L391.90,338.04 L392.17,337.53 L392.43,336.99 L392.69,336.39 L392.95,335.74 L393.21,335.05 L393.47,334.30 L393.74,333.51 L394.00,332.68 L394.26,331.81 L394.52,330.90 L394.78,329.96 L395.04,328.99 L395.31,328.01 L395.57,327.02 L395.83,326.03 L396.09,325.05 L396.35,324.08 L396.61,323.14 L396.88,322.24 L397.14,321.39 L397.40,320.59 L397.66,319.87 L397.92,319.21 L398.19,318.65 L398.45,318.17 L398.71,317.80 L398.97,317.52 L399.23,317.36 L399.49,317.30 L399.75,317.61 L400.02,318.54 L400.28,320.02 L400.54,321.95 L400.80,324.17 L401.06,326.56 L401.32,328.97 L401.59,331.28 L401.85,333.39 L402.11,335.25 L402.37,336.83 L402.63,338.11 L402.89,339.13 L403.16,339.91 L403.42,340.48 L403.68,340.90 L403.94,341.18 L404.20,341.38 L404.46,341.50 L404.73,341.58 L404.99,341.63 L405.25,341.66 L405.51,341.68 L405.77,341.69 L406.03,341.69 L406.30,341.70 L406.56,341.70 L406.82,341.70 L407.08,341.70 L407.34,341.70 L407.60,341.70 L407.87,341.70 L408.13,341.70 L408.39,341.70 L408.65,341.70 L408.91,341.70 L409.17,341.70 L409.44,341.70 L409.70,341.70 L409.96,341.70 L410.22,341.70 L410.48,341.70 L410.74,341.70 L411.01,341.70 L411.27,341.70 L411.53,341.70 L411.79,341.70 L412.05,341.70 L412.31,341.70 L412.58,341.70 L412.84,341.70 L413.10,341.70 L413.10,341.70 L381.70,341.70 Z" fill="#a4a4a4" stroke="none"/>
<path d="M381.70,341.70 L381.96,341.70 L382.22,341.70 L382.49,341.70 L382.75,341.70 L383.01,341.70 L383.27,341.70 L383.53,341.70 L383.79,341.70 L384.06,341.70 L384.32,341.70 L384.58,341.69 L384.84,341.69 L385.10,341.69 L385.36,341.69 L385.62,341.68 L385.89,341.68 L386.15,341.67 L386.41,341.66 L386.67,341.65 L386.93,341.64 L387.19,341.62 L387.46,341.60 L387.72,341.57 L387.98,341.53 L388.24,341.49 L388.50,341.44 L388.76,341.38 L389.03,341.30 L389.29,341.21 L389.55,341.10 L389.81,340.97 L390.07,340.81 L390.33,340.63 L390.60,340.43 L390.86,340.18 L391.12,339.90 L391.38,339.58 L391.64,339.22 L391.90,338.81 L392.17,338.35 L392.43,337.84 L392.69,337.27 L392.95,336.65 L393.21,335.97 L393.47,335.23 L393.74,334.44 L394.00,333.59 L394.26,332.69 L394.52,331.75 L394.78,330.76 L395.04,329.74 L395.31,328.70 L395.57,327.63 L395.83,326.57 L396.09,325.50 L396.35,324.46 L396.61,323.44 L396.88,322.47 L397.14,321.55 L397.40,320.70 L397.66,319.94 L397.92,319.26 L398.19,318.68 L398.45,318.22 L398.71,317.87 L398.97,317.65 L399.23,317.55 L399.49,317.72 L399.75,318.50 L400.02,319.85 L400.28,321.66 L400.54,323.81 L400.80,326.15 L401.06,328.54 L401.32,330.86 L401.59,333.00 L401.85,334.91 L402.11,336.53 L402.37,337.87 L402.63,338.94 L402.89,339.76 L403.16,340.38 L403.42,340.82 L403.68,341.13 L403.94,341.34 L404.20,341.48 L404.46,341.57 L404.73,341.62 L404.99,341.66 L405.25,341.68 L405.51,341.69 L405.77,341.69 L406.03,341.70 L406.30,341.70 L406.56,341.70 L406.82,341.70 L407.08,341.70 L407.34,341.70 L407.60,341.70 L407.87,341.70 L408.13,341.70 L408.39,341.70 L408.65,341.70 L408.91,341.70 L409.17,341.70 L409.44,341.70 L409.70,341.70 L409.96,341.70 L410.22,341.70 L410.48,341.70 L410.74,341.70 L411.01,341.70 L411.27,341.70 L411.53,341.70 L411.79,341.70 L412.05,341.70 L412.31,341.70 L412.58,341.70 L412.84,341.70 L413.10,341.70" fill="none" stroke="#111" stroke-width="0.8"/>
<path d="M381.70,341.70 L381.96,341.70 L382.22,341.70 L382.49,341.70 L382.75,341.70 L383.01,341.70 L383.27,341.70 L383.53,341.70 L383.79,341.70 L384.06,341.70 L384.32,341.69 L384.58,341.69 L384.84,341.69 L385.10,341.69 L385.36,341.68 L385.62,341.68 L385.89,341.67 L386.15,341.66 L386.41,341.65 L386.67,341.64 L386.93,341.63 L387.19,341.61 L387.46,341.59 L387.72,341.56 L387.98,341.53 L388.24,341.49 L388.50,341.44 L388.76,341.38 L389.03,341.31 L389.29,341.23 L389.55,341.14 L389.81,341.03 L390.07,340.90 L390.33,340.74 L390.60,340.57 L390.86,340.37 L391.12,340.14 L391.38,339.88 L391.64,339.59 L391.90,339.26 L392.17,338.89 L392.43,338.48 L392.69,338.03 L392.95,337.54 L393.21,336.99 L393.47,336.40 L393.74,335.77 L394.00,335.08 L394.26,334.36 L394.52,333.58 L394.78,332.77 L395.04,331.92 L395.31,331.04 L395.57,330.13 L395.83,329.20 L396.09,328.25 L396.35,327.30 L396.61,326.35 L396.88,325.41 L397.14,324.49 L397.40,323.60 L397.66,322.75 L397.92,321.95 L398.19,321.20 L398.45,320.53 L398.71,319.93 L398.97,319.41 L399.23,318.99 L399.49,318.66 L399.75,318.43 L400.02,318.30 L400.28,318.29 L400.54,318.48 L400.80,318.91 L401.06,319.57 L401.32,320.43 L401.59,321.47 L401.85,322.66 L402.11,323.97 L402.37,325.35 L402.63,326.79 L402.89,328.24 L403.16,329.68 L403.42,331.07 L403.68,332.40 L403.94,333.65 L404.20,334.80 L404.46,335.85 L404.73,336.79 L404.99,337.63 L405.25,338.35 L405.51,338.98 L405.77,339.51 L406.03,339.96 L406.30,340.33 L406.56,340.63 L406.82,340.87 L407.08,341.07 L407.34,341.22 L407.60,341.34 L407.87,341.44 L408.13,341.51 L408.39,341.56 L408.65,341.60 L408.91,341.63 L409.17,341.65 L409.44,341.67 L409.70,341.68 L409.96,341.68 L410.22,341.69 L410.48,341.69 L410.74,341.70 L411.01,341.70 L411.27,341.70 L411.53,341.70 L411.79,341.70 L412.05,341.70 L412.31,341.70 L412.58,341.70 L412.84,341.70 L413.10,341.70" fill="none" stroke="#000" stroke-width="0.8" stroke-dasharray="0.8,0.8"/>
<circle cx="399.50" cy="317.60" r="0.9" fill="#000"/>
<line x1="380.30" y1="341.70" x2="381.20" y2="341.70" stroke="#777" stroke-width="0.5"/>
<text x="380.10" y="342.50" font-size="2.3" fill="#555" text-anchor="end">0</text>
<line x1="380.30" y1="335.96" x2="381.20" y2="335.96" stroke="#777" stroke-width="0.5"/>
<text x="380.10" y="336.76" font-size="2.3" fill="#555" text-anchor="end">20</text>
<line x1="380.30" y1="330.22" x2="381.20" y2="330.22" stroke="#777" stroke-width="0.5"/>
<text x="380.10" y="331.02" font-size="2.3" fill="#555" text-anchor="end">40</text>
<line x1="380.30" y1="324.48" x2="381.20" y2="324.48" stroke="#777" stroke-width="0.5"/>
<text x="380.10" y="325.28" font-size="2.3" fill="#555" text-anchor="end">60</text>
<line x1="380.30" y1="318.74" x2="381.20" y2="318.74" stroke="#777" stroke-width="0.5"/>
<text x="380.10" y="319.54" font-size="2.3" fill="#555" text-anchor="end">80</text>
<line x1="380.30" y1="312.99" x2="381.20" y2="312.99" stroke="#777" stroke-width="0.5"/>
<text x="380.10" y="313.79" font-size="2.3" fill="#555" text-anchor="end">100</text>
<text x="397.40" y="316.10" font-size="4.1" font-weight="bold" text-anchor="middle" fill="#111" font-family="Liberation Serif">R848 Poly IC</text>
<rect x="416.20" y="311.40" width="32.40" height="30.90" fill="none" stroke="#bdbdbd" stroke-width="0.8"/>
<path d="M416.70,341.37 L416.96,341.21 L417.22,340.99 L417.49,340.69 L417.75,340.28 L418.01,339.74 L418.27,339.04 L418.53,338.15 L418.79,337.07 L419.06,335.77 L419.32,334.24 L419.58,332.51 L419.84,330.58 L420.10,328.50 L420.36,326.33 L420.62,324.13 L420.89,321.99 L421.15,320.04 L421.41,318.41 L421.67,317.26 L421.93,316.73 L422.19,316.92 L422.46,317.84 L422.72,319.36 L422.98,321.29 L423.24,323.47 L423.50,325.76 L423.76,328.04 L424.03,330.23 L424.29,332.27 L424.55,334.10 L424.81,335.71 L425.07,337.07 L425.33,338.20 L425.60,339.11 L425.86,339.82 L426.12,340.36 L426.38,340.76 L426.64,341.06 L426.90,341.26 L427.17,341.41 L427.43,341.51 L427.69,341.57 L427.95,341.61 L428.21,341.64 L428.47,341.66 L428.74,341.67 L429.00,341.68 L429.26,341.68 L429.52,341.69 L429.78,341.69 L430.04,341.69 L430.31,341.69 L430.57,341.69 L430.83,341.69 L431.09,341.69 L431.35,341.69 L431.61,341.69 L431.88,341.70 L432.14,341.70 L432.40,341.70 L432.66,341.70 L432.92,341.70 L433.19,341.70 L433.45,341.70 L433.71,341.70 L433.97,341.70 L434.23,341.70 L434.49,341.70 L434.75,341.70 L435.02,341.70 L435.28,341.70 L435.54,341.70 L435.80,341.70 L436.06,341.70 L436.32,341.70 L436.59,341.70 L436.85,341.70 L437.11,341.70 L437.37,341.70 L437.63,341.70 L437.89,341.70 L438.16,341.70 L438.42,341.70 L438.68,341.70 L438.94,341.70 L439.20,341.70 L439.46,341.70 L439.73,341.70 L439.99,341.70 L440.25,341.70 L440.51,341.70 L440.77,341.70 L441.03,341.70 L441.30,341.70 L441.56,341.70 L441.82,341.70 L442.08,341.70 L442.34,341.70 L442.60,341.70 L442.87,341.70 L443.13,341.70 L443.39,341.70 L443.65,341.70 L443.91,341.70 L444.17,341.70 L444.44,341.70 L444.70,341.70 L444.96,341.70 L445.22,341.70 L445.48,341.70 L445.74,341.70 L446.01,341.70 L446.27,341.70 L446.53,341.70 L446.79,341.70 L447.05,341.70 L447.31,341.70 L447.58,341.70 L447.84,341.70 L448.10,341.70" fill="none" stroke="#8a8a8a" stroke-width="0.75"/>
<path d="M416.70,341.70 L416.96,341.70 L417.22,341.70 L417.49,341.70 L417.75,341.70 L418.01,341.70 L418.27,341.70 L418.53,341.70 L418.79,341.70 L419.06,341.70 L419.32,341.70 L419.58,341.70 L419.84,341.70 L420.10,341.70 L420.36,341.70 L420.62,341.70 L420.89,341.70 L421.15,341.70 L421.41,341.70 L421.67,341.70 L421.93,341.69 L422.19,341.69 L422.46,341.69 L422.72,341.68 L422.98,341.66 L423.24,341.64 L423.50,341.62 L423.76,341.57 L424.03,341.51 L424.29,341.42 L424.55,341.30 L424.81,341.13 L425.07,340.90 L425.33,340.60 L425.60,340.21 L425.86,339.71 L426.12,339.08 L426.38,338.31 L426.64,337.38 L426.90,336.28 L427.17,335.00 L427.43,333.55 L427.69,331.94 L427.95,330.19 L428.21,328.33 L428.47,326.42 L428.74,324.50 L429.00,322.64 L429.26,320.90 L429.52,319.35 L429.78,318.06 L430.04,317.08 L430.31,316.45 L430.57,316.20 L430.83,316.41 L431.09,317.13 L431.35,318.34 L431.61,319.95 L431.88,321.87 L432.14,324.00 L432.40,326.23 L432.66,328.47 L432.92,330.61 L433.19,332.61 L433.45,334.40 L433.71,335.96 L433.97,337.28 L434.23,338.37 L434.49,339.24 L434.75,339.92 L435.02,340.44 L435.28,340.83 L435.54,341.11 L435.80,341.31 L436.06,341.45 L436.32,341.54 L436.59,341.60 L436.85,341.64 L437.11,341.66 L437.37,341.68 L437.63,341.69 L437.89,341.69 L438.16,341.70 L438.42,341.70 L438.68,341.70 L438.94,341.70 L439.20,341.70 L439.46,341.70 L439.73,341.70 L439.99,341.70 L440.25,341.70 L440.51,341.70 L440.77,341.70 L441.03,341.70 L441.30,341.70 L441.56,341.70 L441.82,341.70 L442.08,341.70 L442.34,341.70 L442.60,341.70 L442.87,341.70 L443.13,341.70 L443.39,341.70 L443.65,341.70 L443.91,341.70 L444.17,341.70 L444.44,341.70 L444.70,341.70 L444.96,341.70 L445.22,341.70 L445.48,341.70 L445.74,341.70 L446.01,341.70 L446.27,341.70 L446.53,341.70 L446.79,341.70 L447.05,341.70 L447.31,341.70 L447.58,341.70 L447.84,341.70 L448.10,341.70 L448.10,341.70 L416.70,341.70 Z" fill="#a4a4a4" stroke="none"/>
<path d="M416.70,341.70 L416.96,341.70 L417.22,341.70 L417.49,341.70 L417.75,341.70 L418.01,341.70 L418.27,341.70 L418.53,341.70 L418.79,341.70 L419.06,341.70 L419.32,341.70 L419.58,341.70 L419.84,341.70 L420.10,341.70 L420.36,341.70 L420.62,341.70 L420.89,341.70 L421.15,341.70 L421.41,341.70 L421.67,341.70 L421.93,341.70 L422.19,341.70 L422.46,341.69 L422.72,341.69 L422.98,341.68 L423.24,341.67 L423.50,341.66 L423.76,341.63 L424.03,341.59 L424.29,341.53 L424.55,341.44 L424.81,341.32 L425.07,341.14 L425.33,340.89 L425.60,340.55 L425.86,340.11 L426.12,339.53 L426.38,338.80 L426.64,337.89 L426.90,336.78 L427.17,335.48 L427.43,333.97 L427.69,332.26 L427.95,330.39 L428.21,328.40 L428.47,326.33 L428.74,324.27 L429.00,322.30 L429.26,320.49 L429.52,318.93 L429.78,317.71 L430.04,316.88 L430.31,316.48 L430.57,316.57 L430.83,317.17 L431.09,318.25 L431.35,319.76 L431.61,321.60 L431.88,323.67 L432.14,325.86 L432.40,328.08 L432.66,330.24 L432.92,332.25 L433.19,334.07 L433.45,335.67 L433.71,337.04 L433.97,338.17 L434.23,339.08 L434.49,339.80 L434.75,340.35 L435.02,340.76 L435.28,341.06 L435.54,341.27 L435.80,341.42 L436.06,341.52 L436.32,341.59 L436.59,341.63 L436.85,341.66 L437.11,341.68 L437.37,341.69 L437.63,341.69 L437.89,341.70 L438.16,341.70 L438.42,341.70 L438.68,341.70 L438.94,341.70 L439.20,341.70 L439.46,341.70 L439.73,341.70 L439.99,341.70 L440.25,341.70 L440.51,341.70 L440.77,341.70 L441.03,341.70 L441.30,341.70 L441.56,341.70 L441.82,341.70 L442.08,341.70 L442.34,341.70 L442.60,341.70 L442.87,341.70 L443.13,341.70 L443.39,341.70 L443.65,341.70 L443.91,341.70 L444.17,341.70 L444.44,341.70 L444.70,341.70 L444.96,341.70 L445.22,341.70 L445.48,341.70 L445.74,341.70 L446.01,341.70 L446.27,341.70 L446.53,341.70 L446.79,341.70 L447.05,341.70 L447.31,341.70 L447.58,341.70 L447.84,341.70 L448.10,341.70" fill="none" stroke="#111" stroke-width="0.8"/>
<path d="M416.70,341.70 L416.96,341.70 L417.22,341.70 L417.49,341.70 L417.75,341.70 L418.01,341.70 L418.27,341.70 L418.53,341.70 L418.79,341.70 L419.06,341.70 L419.32,341.70 L419.58,341.70 L419.84,341.70 L420.10,341.70 L420.36,341.70 L420.62,341.70 L420.89,341.70 L421.15,341.70 L421.41,341.70 L421.67,341.70 L421.93,341.70 L422.19,341.70 L422.46,341.70 L422.72,341.69 L422.98,341.69 L423.24,341.68 L423.50,341.68 L423.76,341.66 L424.03,341.64 L424.29,341.61 L424.55,341.56 L424.81,341.49 L425.07,341.40 L425.33,341.27 L425.60,341.09 L425.86,340.85 L426.12,340.53 L426.38,340.12 L426.64,339.61 L426.90,338.96 L427.17,338.17 L427.43,337.23 L427.69,336.11 L427.95,334.83 L428.21,333.39 L428.47,331.80 L428.74,330.08 L429.00,328.27 L429.26,326.43 L429.52,324.60 L429.78,322.84 L430.04,321.22 L430.31,319.81 L430.57,318.66 L430.83,317.83 L431.09,317.34 L431.35,317.22 L431.61,317.37 L431.88,317.71 L432.14,318.24 L432.40,318.94 L432.66,319.81 L432.92,320.82 L433.19,321.94 L433.45,323.16 L433.71,324.44 L433.97,325.77 L434.23,327.12 L434.49,328.46 L434.75,329.78 L435.02,331.05 L435.28,332.27 L435.54,333.42 L435.80,334.48 L436.06,335.47 L436.32,336.36 L436.59,337.16 L436.85,337.87 L437.11,338.50 L437.37,339.05 L437.63,339.52 L437.89,339.92 L438.16,340.26 L438.42,340.55 L438.68,340.78 L438.94,340.98 L439.20,341.13 L439.46,341.26 L439.73,341.36 L439.99,341.44 L440.25,341.50 L440.51,341.55 L440.77,341.59 L441.03,341.62 L441.30,341.64 L441.56,341.66 L441.82,341.67 L442.08,341.68 L442.34,341.68 L442.60,341.69 L442.87,341.69 L443.13,341.69 L443.39,341.70 L443.65,341.70 L443.91,341.70 L444.17,341.70 L444.44,341.70 L444.70,341.70 L444.96,341.70 L445.22,341.70 L445.48,341.70 L445.74,341.70 L446.01,341.70 L446.27,341.70 L446.53,341.70 L446.79,341.70 L447.05,341.70 L447.31,341.70 L447.58,341.70 L447.84,341.70 L448.10,341.70" fill="none" stroke="#000" stroke-width="0.8" stroke-dasharray="0.8,0.8"/>
<circle cx="430.60" cy="316.50" r="0.9" fill="#000"/>
<line x1="415.30" y1="341.70" x2="416.20" y2="341.70" stroke="#777" stroke-width="0.5"/>
<text x="415.10" y="342.50" font-size="2.3" fill="#555" text-anchor="end">0</text>
<line x1="415.30" y1="335.70" x2="416.20" y2="335.70" stroke="#777" stroke-width="0.5"/>
<text x="415.10" y="336.50" font-size="2.3" fill="#555" text-anchor="end">20</text>
<line x1="415.30" y1="329.70" x2="416.20" y2="329.70" stroke="#777" stroke-width="0.5"/>
<text x="415.10" y="330.50" font-size="2.3" fill="#555" text-anchor="end">40</text>
<line x1="415.30" y1="323.70" x2="416.20" y2="323.70" stroke="#777" stroke-width="0.5"/>
<text x="415.10" y="324.50" font-size="2.3" fill="#555" text-anchor="end">60</text>
<line x1="415.30" y1="317.70" x2="416.20" y2="317.70" stroke="#777" stroke-width="0.5"/>
<text x="415.10" y="318.50" font-size="2.3" fill="#555" text-anchor="end">80</text>
<line x1="415.30" y1="311.70" x2="416.20" y2="311.70" stroke="#777" stroke-width="0.5"/>
<text x="415.10" y="312.50" font-size="2.3" fill="#555" text-anchor="end">100</text>
<text x="428.50" y="316.10" font-size="4.1" font-weight="bold" text-anchor="middle" fill="#111" font-family="Liberation Serif">Mimic</text>
<text x="450.40" y="281.80" font-size="5.4" text-anchor="start" fill="#222">Isotype</text>
<text x="450.40" y="288.20" font-size="5.4" text-anchor="start" fill="#222">Stimulus</text>
<text x="450.40" y="295.30" font-size="5.4" text-anchor="start" fill="#222">Anti-IL-10/R</text>
<text x="450.40" y="301.70" font-size="5.4" text-anchor="start" fill="#222">Rec. IL-10</text>
<line x1="485.10" y1="279.70" x2="506.20" y2="279.70" stroke="#aaa" stroke-width="0.9"/>
<line x1="485.10" y1="285.80" x2="505.00" y2="285.80" stroke="#000" stroke-width="1.5"/>
<rect x="484.80" y="290.90" width="20.20" height="4.90" fill="#999" stroke="#000" stroke-width="0.9"/>
<line x1="485.10" y1="301.90" x2="492.10" y2="301.90" stroke="#000" stroke-width="1.5"/>
<line x1="498.60" y1="301.90" x2="504.90" y2="301.90" stroke="#000" stroke-width="1.5"/>
<rect x="0" y="0" width="520" height="1" fill="#555"/>
<rect x="0" y="0" width="1" height="368" fill="#555"/>
<rect x="518" y="1" width="1" height="366" fill="#c4c4c4"/>
<rect x="0" y="366" width="519" height="1" fill="#c4c4c4"/>
<rect x="519" y="0" width="1" height="368" fill="#808080"/>
<rect x="0" y="367" width="520" height="1" fill="#808080"/>
</svg>
</body></html>
